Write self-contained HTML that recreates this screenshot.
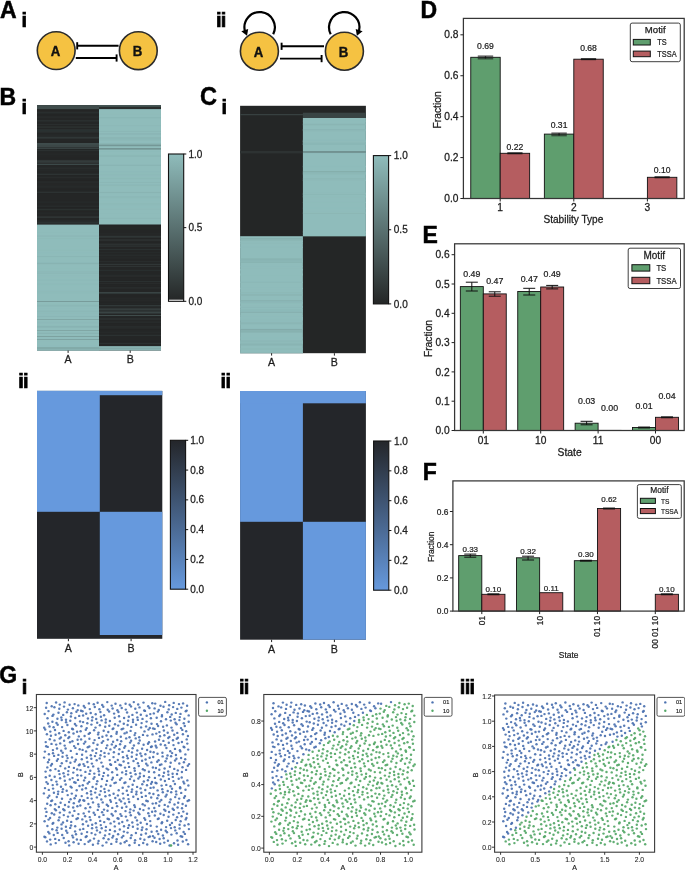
<!DOCTYPE html>
<html lang="en"><head><meta charset="utf-8"><title>Figure</title>
<style>
html,body{margin:0;padding:0;background:#fff;}
body{width:685px;height:871px;overflow:hidden;}
svg{display:block;font-family:"Liberation Sans", sans-serif;}
</style></head><body>
<svg width="685" height="871" viewBox="0 0 685 871">
<rect width="685" height="871" fill="#fff"/>
<text x="0.00" y="18.20" font-size="23" font-weight="bold" fill="#000" stroke="#000" stroke-width="0.5">A</text>
<text x="21.50" y="27.30" font-size="20" font-weight="bold" fill="#000" stroke="#000" stroke-width="0.7" letter-spacing="-0.7">i</text>
<line x1="77.20" y1="45.80" x2="118.60" y2="45.80" stroke="#000" stroke-width="1.9"/>
<line x1="77.20" y1="42.20" x2="77.20" y2="49.40" stroke="#000" stroke-width="1.9"/>
<line x1="75.80" y1="58.00" x2="116.60" y2="58.00" stroke="#000" stroke-width="1.9"/>
<line x1="116.60" y1="54.40" x2="116.60" y2="61.60" stroke="#000" stroke-width="1.9"/>
<circle cx="56.2" cy="50.6" r="18.9" fill="#f5c242" stroke="#2b2b2b" stroke-width="1.6"/>
<text transform="translate(55.40 55.90) scale(0.93 1.03)" font-size="14.2" text-anchor="middle" font-weight="bold" fill="#111" stroke="#111" stroke-width="0.4">A</text>
<circle cx="138.3" cy="50.7" r="18.9" fill="#f5c242" stroke="#2b2b2b" stroke-width="1.6"/>
<text transform="translate(137.50 56.00) scale(0.93 1.03)" font-size="14.2" text-anchor="middle" font-weight="bold" fill="#111" stroke="#111" stroke-width="0.4">B</text>
<text x="215.90" y="27.30" font-size="20" font-weight="bold" fill="#000" stroke="#000" stroke-width="0.7" letter-spacing="-0.7">ii</text>
<line x1="281.60" y1="46.30" x2="324.00" y2="46.30" stroke="#000" stroke-width="1.9"/>
<line x1="281.60" y1="42.70" x2="281.60" y2="49.90" stroke="#000" stroke-width="1.9"/>
<line x1="280.00" y1="58.60" x2="321.60" y2="58.60" stroke="#000" stroke-width="1.9"/>
<line x1="321.60" y1="55.00" x2="321.60" y2="62.20" stroke="#000" stroke-width="1.9"/>
<path d="M273.2 34.2 A15.2 15.2 0 1 0 244.9 31.0" fill="none" stroke="#000" stroke-width="2.2"/>
<path d="M241.3 31.3 L248.2 28.9 L247.0 35.8 Z" fill="#000"/>
<path d="M330.7 34.2 A15.2 15.2 0 1 1 359.0 31.0" fill="none" stroke="#000" stroke-width="2.2"/>
<path d="M362.6 31.3 L355.7 28.9 L356.9 35.8 Z" fill="#000"/>
<circle cx="259.4" cy="51.2" r="19.0" fill="#f5c242" stroke="#2b2b2b" stroke-width="1.6"/>
<text transform="translate(258.60 56.50) scale(0.93 1.03)" font-size="14.2" text-anchor="middle" font-weight="bold" fill="#111" stroke="#111" stroke-width="0.4">A</text>
<circle cx="344.4" cy="51.2" r="19.0" fill="#f5c242" stroke="#2b2b2b" stroke-width="1.6"/>
<text transform="translate(343.60 56.50) scale(0.93 1.03)" font-size="14.2" text-anchor="middle" font-weight="bold" fill="#111" stroke="#111" stroke-width="0.4">B</text>
<text x="-0.50" y="104.50" font-size="23" font-weight="bold" fill="#000" stroke="#000" stroke-width="0.5">B</text>
<text x="21.50" y="113.70" font-size="20" font-weight="bold" fill="#000" stroke="#000" stroke-width="0.7" letter-spacing="-0.7">i</text>
<rect x="37.00" y="105.10" width="124.00" height="245.40" fill="#242626"/>
<rect x="99.00" y="105.10" width="62.00" height="119.50" fill="#8fbcbb"/>
<rect x="37.00" y="224.60" width="62.00" height="125.90" fill="#8fbcbb"/>
<rect x="37.00" y="346.10" width="124.00" height="4.40" fill="#88b2b1"/>
<rect x="37.00" y="105.10" width="62.00" height="4.00" fill="#3f4c4b"/>
<rect x="99.00" y="105.10" width="62.00" height="1.20" fill="#3f4c4b"/>
<rect x="99.00" y="106.30" width="62.00" height="2.80" fill="#292e2d"/>
<rect x="37.00" y="136.58" width="62.00" height="1.10" fill="#262828"/>
<rect x="37.00" y="178.85" width="62.00" height="1.19" fill="#242626"/>
<rect x="37.00" y="110.62" width="62.00" height="1.42" fill="#252727"/>
<rect x="37.00" y="136.17" width="62.00" height="1.60" fill="#272a2a"/>
<rect x="37.00" y="205.71" width="62.00" height="1.02" fill="#292d2d"/>
<rect x="37.00" y="126.50" width="62.00" height="1.20" fill="#2e3433"/>
<rect x="37.00" y="169.53" width="62.00" height="1.32" fill="#2a2e2e"/>
<rect x="37.00" y="116.50" width="62.00" height="1.33" fill="#282c2c"/>
<rect x="37.00" y="143.90" width="62.00" height="0.53" fill="#2e3333"/>
<rect x="37.00" y="163.70" width="62.00" height="1.29" fill="#2e3434"/>
<rect x="37.00" y="191.58" width="62.00" height="1.51" fill="#262929"/>
<rect x="37.00" y="201.60" width="62.00" height="0.99" fill="#2f3636"/>
<rect x="37.00" y="210.61" width="62.00" height="0.61" fill="#242626"/>
<rect x="37.00" y="134.16" width="62.00" height="1.56" fill="#262929"/>
<rect x="37.00" y="181.48" width="62.00" height="0.83" fill="#272b2b"/>
<rect x="37.00" y="153.67" width="62.00" height="0.89" fill="#282c2c"/>
<rect x="37.00" y="176.58" width="62.00" height="1.49" fill="#2a2e2e"/>
<rect x="37.00" y="216.39" width="62.00" height="1.44" fill="#313838"/>
<rect x="37.00" y="186.63" width="62.00" height="0.68" fill="#2e3333"/>
<rect x="37.00" y="220.52" width="62.00" height="1.50" fill="#282c2c"/>
<rect x="37.00" y="191.55" width="62.00" height="0.73" fill="#2d3232"/>
<rect x="37.00" y="175.34" width="62.00" height="0.81" fill="#242626"/>
<rect x="37.00" y="207.73" width="62.00" height="1.59" fill="#242626"/>
<rect x="37.00" y="201.57" width="62.00" height="0.95" fill="#242626"/>
<rect x="37.00" y="143.04" width="62.00" height="1.35" fill="#2e3434"/>
<rect x="37.00" y="114.20" width="62.00" height="1.18" fill="#242626"/>
<rect x="37.00" y="192.08" width="62.00" height="0.86" fill="#2e3434"/>
<rect x="37.00" y="222.36" width="62.00" height="1.06" fill="#313838"/>
<rect x="37.00" y="144.87" width="62.00" height="0.58" fill="#292c2c"/>
<rect x="37.00" y="112.72" width="62.00" height="0.72" fill="#262929"/>
<rect x="37.00" y="179.61" width="62.00" height="0.67" fill="#242626"/>
<rect x="37.00" y="209.33" width="62.00" height="0.85" fill="#303736"/>
<rect x="37.00" y="212.66" width="62.00" height="0.92" fill="#272a2a"/>
<rect x="37.00" y="169.17" width="62.00" height="1.21" fill="#292c2c"/>
<rect x="37.00" y="173.69" width="62.00" height="1.18" fill="#2f3636"/>
<rect x="37.00" y="167.66" width="62.00" height="0.97" fill="#2b2f2f"/>
<rect x="37.00" y="136.55" width="62.00" height="0.83" fill="#303737"/>
<rect x="37.00" y="169.29" width="62.00" height="1.10" fill="#242626"/>
<rect x="37.00" y="157.06" width="62.00" height="1.14" fill="#242626"/>
<rect x="37.00" y="180.22" width="62.00" height="1.20" fill="#242626"/>
<rect x="37.00" y="181.56" width="62.00" height="1.01" fill="#2a2e2e"/>
<rect x="37.00" y="149.82" width="62.00" height="1.28" fill="#2b3030"/>
<rect x="37.00" y="111.66" width="62.00" height="0.57" fill="#2a2e2e"/>
<rect x="37.00" y="220.36" width="62.00" height="0.78" fill="#272a2a"/>
<rect x="37.00" y="177.55" width="62.00" height="0.85" fill="#262828"/>
<rect x="37.00" y="145.21" width="62.00" height="0.91" fill="#292c2c"/>
<rect x="37.00" y="143.80" width="62.00" height="0.91" fill="#2c3131"/>
<rect x="37.00" y="112.21" width="62.00" height="1.13" fill="#2b3030"/>
<rect x="37.00" y="144.91" width="62.00" height="0.74" fill="#2c3232"/>
<rect x="37.00" y="136.67" width="62.00" height="0.71" fill="#262929"/>
<rect x="37.00" y="189.73" width="62.00" height="0.61" fill="#252828"/>
<rect x="37.00" y="147.65" width="62.00" height="1.42" fill="#262929"/>
<rect x="37.00" y="207.91" width="62.00" height="0.69" fill="#252828"/>
<rect x="37.00" y="184.20" width="62.00" height="1.47" fill="#272a2a"/>
<rect x="37.00" y="135.09" width="62.00" height="0.63" fill="#282b2b"/>
<rect x="37.00" y="131.14" width="62.00" height="1.39" fill="#2d3333"/>
<rect x="37.00" y="130.30" width="62.00" height="0.81" fill="#2c3232"/>
<rect x="37.00" y="183.24" width="62.00" height="1.39" fill="#262828"/>
<rect x="37.00" y="124.08" width="62.00" height="0.82" fill="#2c3131"/>
<rect x="37.00" y="140.42" width="62.00" height="0.88" fill="#262929"/>
<rect x="99.00" y="275.60" width="62.00" height="0.95" fill="#333a3a"/>
<rect x="99.00" y="243.55" width="62.00" height="0.51" fill="#333b3b"/>
<rect x="99.00" y="331.52" width="62.00" height="1.59" fill="#272b2a"/>
<rect x="99.00" y="340.04" width="62.00" height="1.52" fill="#252727"/>
<rect x="99.00" y="315.18" width="62.00" height="1.42" fill="#2c3130"/>
<rect x="99.00" y="287.66" width="62.00" height="0.82" fill="#262929"/>
<rect x="99.00" y="252.24" width="62.00" height="0.57" fill="#2a2e2e"/>
<rect x="99.00" y="259.47" width="62.00" height="1.39" fill="#242626"/>
<rect x="99.00" y="334.39" width="62.00" height="1.26" fill="#333a3a"/>
<rect x="99.00" y="333.53" width="62.00" height="1.49" fill="#2a2e2e"/>
<rect x="99.00" y="226.20" width="62.00" height="1.32" fill="#252727"/>
<rect x="99.00" y="261.04" width="62.00" height="1.23" fill="#292d2d"/>
<rect x="99.00" y="274.87" width="62.00" height="1.53" fill="#2a2f2f"/>
<rect x="99.00" y="266.07" width="62.00" height="0.78" fill="#313838"/>
<rect x="99.00" y="282.58" width="62.00" height="1.36" fill="#262929"/>
<rect x="99.00" y="248.58" width="62.00" height="1.09" fill="#2f3636"/>
<rect x="99.00" y="245.41" width="62.00" height="1.37" fill="#333a3a"/>
<rect x="99.00" y="322.54" width="62.00" height="1.41" fill="#242626"/>
<rect x="99.00" y="300.98" width="62.00" height="1.45" fill="#242626"/>
<rect x="99.00" y="257.57" width="62.00" height="0.80" fill="#292d2d"/>
<rect x="99.00" y="275.99" width="62.00" height="1.02" fill="#2e3434"/>
<rect x="99.00" y="224.82" width="62.00" height="0.56" fill="#242626"/>
<rect x="99.00" y="239.74" width="62.00" height="0.58" fill="#343d3d"/>
<rect x="99.00" y="328.42" width="62.00" height="0.59" fill="#282c2c"/>
<rect x="99.00" y="262.98" width="62.00" height="0.85" fill="#262929"/>
<rect x="99.00" y="303.20" width="62.00" height="1.15" fill="#262929"/>
<rect x="99.00" y="247.82" width="62.00" height="0.86" fill="#242626"/>
<rect x="99.00" y="292.10" width="62.00" height="1.29" fill="#262929"/>
<rect x="99.00" y="234.31" width="62.00" height="0.70" fill="#262929"/>
<rect x="99.00" y="298.04" width="62.00" height="1.36" fill="#262929"/>
<rect x="99.00" y="321.94" width="62.00" height="1.19" fill="#272a2a"/>
<rect x="99.00" y="269.85" width="62.00" height="1.05" fill="#2c3232"/>
<rect x="99.00" y="275.69" width="62.00" height="1.26" fill="#282b2b"/>
<rect x="99.00" y="254.38" width="62.00" height="1.09" fill="#2c3232"/>
<rect x="99.00" y="233.30" width="62.00" height="0.97" fill="#272a2a"/>
<rect x="99.00" y="331.48" width="62.00" height="1.53" fill="#262929"/>
<rect x="99.00" y="333.69" width="62.00" height="1.37" fill="#252828"/>
<rect x="99.00" y="280.99" width="62.00" height="0.64" fill="#2f3636"/>
<rect x="99.00" y="305.07" width="62.00" height="1.48" fill="#2f3535"/>
<rect x="99.00" y="305.71" width="62.00" height="1.31" fill="#292e2e"/>
<rect x="99.00" y="237.13" width="62.00" height="1.15" fill="#242626"/>
<rect x="99.00" y="242.04" width="62.00" height="1.35" fill="#242626"/>
<rect x="99.00" y="235.75" width="62.00" height="0.61" fill="#313938"/>
<rect x="99.00" y="246.37" width="62.00" height="0.53" fill="#303737"/>
<rect x="99.00" y="239.34" width="62.00" height="1.43" fill="#2c3131"/>
<rect x="99.00" y="326.20" width="62.00" height="1.55" fill="#2a2e2e"/>
<rect x="99.00" y="321.65" width="62.00" height="0.54" fill="#2e3434"/>
<rect x="99.00" y="286.73" width="62.00" height="1.29" fill="#242626"/>
<rect x="99.00" y="315.60" width="62.00" height="1.53" fill="#242626"/>
<rect x="99.00" y="264.00" width="62.00" height="1.12" fill="#303636"/>
<rect x="99.00" y="254.02" width="62.00" height="0.70" fill="#252727"/>
<rect x="99.00" y="299.44" width="62.00" height="1.33" fill="#272a2a"/>
<rect x="99.00" y="269.25" width="62.00" height="0.94" fill="#262929"/>
<rect x="99.00" y="275.41" width="62.00" height="0.59" fill="#282c2c"/>
<rect x="99.00" y="342.83" width="62.00" height="0.95" fill="#2e3333"/>
<rect x="99.00" y="244.12" width="62.00" height="1.26" fill="#2e3434"/>
<rect x="99.00" y="306.47" width="62.00" height="1.07" fill="#282c2c"/>
<rect x="99.00" y="302.72" width="62.00" height="1.49" fill="#242727"/>
<rect x="99.00" y="236.25" width="62.00" height="1.32" fill="#323a3a"/>
<rect x="99.00" y="287.45" width="62.00" height="0.99" fill="#2d3232"/>
<rect x="99.00" y="247.21" width="62.00" height="0.79" fill="#252727"/>
<rect x="99.00" y="295.75" width="62.00" height="0.85" fill="#252727"/>
<rect x="99.00" y="308.57" width="62.00" height="1.55" fill="#252828"/>
<rect x="99.00" y="310.30" width="62.00" height="0.95" fill="#303737"/>
<rect x="99.00" y="295.63" width="62.00" height="0.79" fill="#252727"/>
<rect x="99.00" y="227.41" width="62.00" height="1.03" fill="#272a29"/>
<rect x="99.00" y="245.53" width="62.00" height="0.90" fill="#262828"/>
<rect x="99.00" y="318.67" width="62.00" height="0.66" fill="#353e3d"/>
<rect x="99.00" y="282.87" width="62.00" height="1.16" fill="#282b2b"/>
<rect x="99.00" y="326.01" width="62.00" height="1.40" fill="#292d2d"/>
<rect x="99.00" y="164.69" width="62.00" height="1.29" fill="#8ab5b4"/>
<rect x="99.00" y="155.33" width="62.00" height="1.31" fill="#89b4b3"/>
<rect x="99.00" y="163.08" width="62.00" height="0.75" fill="#8fbcbb"/>
<rect x="99.00" y="191.99" width="62.00" height="1.24" fill="#89b4b3"/>
<rect x="99.00" y="207.72" width="62.00" height="0.77" fill="#8fbcbb"/>
<rect x="99.00" y="138.97" width="62.00" height="0.71" fill="#8cb8b7"/>
<rect x="99.00" y="208.27" width="62.00" height="1.49" fill="#8fbbba"/>
<rect x="99.00" y="209.02" width="62.00" height="0.84" fill="#8ebab9"/>
<rect x="99.00" y="193.30" width="62.00" height="0.59" fill="#8fbcbb"/>
<rect x="99.00" y="205.42" width="62.00" height="0.82" fill="#8ebbba"/>
<rect x="99.00" y="176.12" width="62.00" height="1.24" fill="#8fbcbb"/>
<rect x="99.00" y="147.77" width="62.00" height="0.98" fill="#8dbab9"/>
<rect x="99.00" y="133.37" width="62.00" height="1.14" fill="#89b4b3"/>
<rect x="99.00" y="154.25" width="62.00" height="1.10" fill="#8fbcbb"/>
<rect x="99.00" y="140.83" width="62.00" height="1.23" fill="#8fbcbb"/>
<rect x="99.00" y="211.57" width="62.00" height="1.50" fill="#8fbcbb"/>
<rect x="99.00" y="217.82" width="62.00" height="0.91" fill="#8bb7b6"/>
<rect x="99.00" y="196.57" width="62.00" height="0.83" fill="#8cb8b7"/>
<rect x="99.00" y="184.65" width="62.00" height="1.39" fill="#8fbbba"/>
<rect x="99.00" y="196.21" width="62.00" height="1.56" fill="#8cb8b7"/>
<rect x="99.00" y="171.03" width="62.00" height="0.62" fill="#8dbab9"/>
<rect x="99.00" y="149.77" width="62.00" height="1.29" fill="#8cb8b7"/>
<rect x="99.00" y="174.52" width="62.00" height="0.70" fill="#8cb8b7"/>
<rect x="99.00" y="181.97" width="62.00" height="0.70" fill="#8ab5b4"/>
<rect x="99.00" y="184.80" width="62.00" height="0.64" fill="#89b4b3"/>
<rect x="99.00" y="125.43" width="62.00" height="0.86" fill="#8cb7b6"/>
<rect x="99.00" y="178.10" width="62.00" height="1.11" fill="#8cb8b7"/>
<rect x="99.00" y="161.96" width="62.00" height="0.84" fill="#8fbcbb"/>
<rect x="99.00" y="117.02" width="62.00" height="1.29" fill="#8bb7b6"/>
<rect x="99.00" y="171.83" width="62.00" height="1.31" fill="#8ebbba"/>
<rect x="99.00" y="139.81" width="62.00" height="0.92" fill="#8ab5b4"/>
<rect x="99.00" y="113.96" width="62.00" height="1.06" fill="#8fbbba"/>
<rect x="99.00" y="197.91" width="62.00" height="0.89" fill="#8ebbba"/>
<rect x="99.00" y="155.69" width="62.00" height="1.10" fill="#8bb7b6"/>
<rect x="99.00" y="149.86" width="62.00" height="1.43" fill="#8fbcbb"/>
<rect x="99.00" y="140.34" width="62.00" height="0.61" fill="#8fbcbb"/>
<rect x="99.00" y="199.07" width="62.00" height="1.30" fill="#8fbcbb"/>
<rect x="99.00" y="130.95" width="62.00" height="0.96" fill="#8bb7b6"/>
<rect x="99.00" y="203.32" width="62.00" height="1.32" fill="#8db9b8"/>
<rect x="99.00" y="126.02" width="62.00" height="0.94" fill="#8fbcbb"/>
<rect x="37.00" y="291.02" width="62.00" height="1.13" fill="#8fbcbb"/>
<rect x="37.00" y="256.09" width="62.00" height="1.36" fill="#8fbcbb"/>
<rect x="37.00" y="325.72" width="62.00" height="1.48" fill="#88b3b2"/>
<rect x="37.00" y="272.84" width="62.00" height="1.11" fill="#8cb8b7"/>
<rect x="37.00" y="304.38" width="62.00" height="1.57" fill="#8bb7b6"/>
<rect x="37.00" y="262.29" width="62.00" height="1.45" fill="#8dbab9"/>
<rect x="37.00" y="300.31" width="62.00" height="1.30" fill="#8fbcbb"/>
<rect x="37.00" y="321.60" width="62.00" height="1.23" fill="#8db9b8"/>
<rect x="37.00" y="290.53" width="62.00" height="1.01" fill="#8fbcbb"/>
<rect x="37.00" y="291.27" width="62.00" height="0.54" fill="#8db9b8"/>
<rect x="37.00" y="305.93" width="62.00" height="0.99" fill="#8db9b8"/>
<rect x="37.00" y="345.34" width="62.00" height="1.48" fill="#8fbcbb"/>
<rect x="37.00" y="324.36" width="62.00" height="1.19" fill="#8fbcbb"/>
<rect x="37.00" y="269.91" width="62.00" height="0.76" fill="#8fbcbb"/>
<rect x="37.00" y="292.44" width="62.00" height="1.52" fill="#8ebbba"/>
<rect x="37.00" y="334.20" width="62.00" height="1.26" fill="#8fbcbb"/>
<rect x="37.00" y="332.66" width="62.00" height="1.16" fill="#89b3b2"/>
<rect x="37.00" y="314.74" width="62.00" height="1.31" fill="#8ebbba"/>
<rect x="37.00" y="326.16" width="62.00" height="1.52" fill="#89b4b3"/>
<rect x="37.00" y="279.62" width="62.00" height="1.33" fill="#8dbab9"/>
<rect x="37.00" y="238.34" width="62.00" height="0.55" fill="#8fbcbb"/>
<rect x="37.00" y="249.82" width="62.00" height="0.68" fill="#8db9b8"/>
<rect x="37.00" y="312.64" width="62.00" height="1.09" fill="#8ebab9"/>
<rect x="37.00" y="306.34" width="62.00" height="0.84" fill="#8dbab9"/>
<rect x="37.00" y="319.92" width="62.00" height="0.94" fill="#8fbcbb"/>
<rect x="37.00" y="337.84" width="62.00" height="1.29" fill="#8ebbba"/>
<rect x="37.00" y="271.31" width="62.00" height="1.08" fill="#8cb8b7"/>
<rect x="37.00" y="252.78" width="62.00" height="0.50" fill="#8fbcbb"/>
<rect x="37.00" y="323.20" width="62.00" height="0.66" fill="#8dbab9"/>
<rect x="37.00" y="249.19" width="62.00" height="0.73" fill="#8fbcbb"/>
<rect x="37.00" y="275.43" width="62.00" height="0.69" fill="#8fbcbb"/>
<rect x="37.00" y="238.46" width="62.00" height="0.69" fill="#8db9b8"/>
<rect x="37.00" y="232.12" width="62.00" height="0.52" fill="#8dbab9"/>
<rect x="37.00" y="275.93" width="62.00" height="1.27" fill="#8fbcbb"/>
<rect x="37.00" y="275.38" width="62.00" height="0.94" fill="#8fbcbb"/>
<rect x="37.00" y="346.16" width="62.00" height="0.74" fill="#8fbcbb"/>
<rect x="37.00" y="284.35" width="62.00" height="0.68" fill="#8cb8b7"/>
<rect x="37.00" y="268.21" width="62.00" height="0.64" fill="#8fbcbb"/>
<rect x="37.00" y="316.21" width="62.00" height="0.80" fill="#8ab5b5"/>
<rect x="37.00" y="283.19" width="62.00" height="1.53" fill="#8ebbba"/>
<rect x="37.00" y="256.07" width="62.00" height="0.79" fill="#8ab5b4"/>
<rect x="37.00" y="303.80" width="62.00" height="0.88" fill="#8fbcbb"/>
<rect x="37.00" y="310.51" width="62.00" height="1.57" fill="#8cb8b7"/>
<rect x="37.00" y="225.06" width="62.00" height="0.53" fill="#8fbcbb"/>
<rect x="37.00" y="246.05" width="62.00" height="0.54" fill="#8fbcbb"/>
<rect x="37.00" y="306.98" width="62.00" height="1.49" fill="#8fbcbb"/>
<rect x="37.00" y="347.21" width="62.00" height="1.02" fill="#8ab5b4"/>
<rect x="37.00" y="340.10" width="62.00" height="1.53" fill="#8fbcbb"/>
<rect x="37.00" y="262.96" width="62.00" height="1.17" fill="#88b3b2"/>
<rect x="37.00" y="235.65" width="62.00" height="0.82" fill="#8ab4b3"/>
<rect x="37.00" y="137.40" width="62.00" height="1.00" fill="#374141"/>
<rect x="37.00" y="143.40" width="62.00" height="1.20" fill="#4d5f5f"/>
<rect x="37.00" y="145.00" width="62.00" height="2.00" fill="#3c4747"/>
<rect x="37.00" y="147.60" width="62.00" height="1.00" fill="#445353"/>
<rect x="37.00" y="160.20" width="62.00" height="2.60" fill="#333b3b"/>
<rect x="37.00" y="163.80" width="62.00" height="0.90" fill="#445353"/>
<rect x="37.00" y="120.50" width="62.00" height="0.80" fill="#313838"/>
<rect x="37.00" y="129.50" width="62.00" height="0.80" fill="#313838"/>
<rect x="99.00" y="143.60" width="62.00" height="1.60" fill="#82aaa9"/>
<rect x="99.00" y="145.20" width="62.00" height="1.00" fill="#6f8f8e"/>
<rect x="99.00" y="148.40" width="62.00" height="1.00" fill="#627d7c"/>
<rect x="99.00" y="137.60" width="62.00" height="0.80" fill="#84adac"/>
<rect x="99.00" y="292.00" width="62.00" height="1.60" fill="#394444"/>
<rect x="99.00" y="308.50" width="62.00" height="1.20" fill="#3c4747"/>
<rect x="99.00" y="311.50" width="62.00" height="2.00" fill="#394444"/>
<rect x="99.00" y="315.00" width="62.00" height="1.00" fill="#3f4c4b"/>
<rect x="99.00" y="305.00" width="62.00" height="0.80" fill="#343c3c"/>
<rect x="37.00" y="301.30" width="62.00" height="0.70" fill="#6f8f8e"/>
<rect x="37.00" y="319.00" width="62.00" height="0.70" fill="#7a9e9d"/>
<rect x="37.00" y="330.20" width="62.00" height="0.70" fill="#7a9e9d"/>
<rect x="37.00" y="336.00" width="62.00" height="0.80" fill="#779b9a"/>
<rect x="37.00" y="339.00" width="62.00" height="0.80" fill="#7a9e9d"/>
<rect x="37.00" y="347.50" width="62.00" height="1.00" fill="#7ca1a0"/>
<rect x="99.00" y="348.00" width="62.00" height="1.00" fill="#82aaa9"/>
<line x1="68.10" y1="350.50" x2="68.10" y2="352.90" stroke="#222" stroke-width="1"/>
<text x="68.10" y="362.80" font-size="10.6" text-anchor="middle" fill="#1c1c1c" stroke="#1c1c1c" stroke-width="0.28">A</text>
<line x1="130.20" y1="350.50" x2="130.20" y2="352.90" stroke="#222" stroke-width="1"/>
<text x="130.20" y="362.80" font-size="10.6" text-anchor="middle" fill="#1c1c1c" stroke="#1c1c1c" stroke-width="0.28">B</text>
<linearGradient id="gBi" x1="0" y1="0" x2="0" y2="1"><stop offset="0" stop-color="#8fbcbb"/><stop offset="1" stop-color="#242626"/></linearGradient>
<rect x="168.50" y="154.00" width="15.20" height="147.30" fill="url(#gBi)"/>
<rect x="168.50" y="299.70" width="15.20" height="1.60" fill="#fff"/>
<rect x="168.50" y="154.00" width="15.20" height="147.30" fill="none" stroke="#111" stroke-width="1.1"/>
<line x1="183.70" y1="154.00" x2="186.30" y2="154.00" stroke="#111" stroke-width="1"/>
<text x="188.40" y="157.60" font-size="10" fill="#222" stroke="#222" stroke-width="0.26">1.0</text>
<line x1="183.70" y1="227.65" x2="186.30" y2="227.65" stroke="#111" stroke-width="1"/>
<text x="188.40" y="231.25" font-size="10" fill="#222" stroke="#222" stroke-width="0.26">0.5</text>
<line x1="183.70" y1="301.30" x2="186.30" y2="301.30" stroke="#111" stroke-width="1"/>
<text x="188.40" y="304.90" font-size="10" fill="#222" stroke="#222" stroke-width="0.26">0.0</text>
<text x="18.20" y="387.50" font-size="20" font-weight="bold" fill="#000" stroke="#000" stroke-width="0.7" letter-spacing="-0.7">ii</text>
<rect x="37.00" y="390.90" width="125.30" height="247.90" fill="#24262a"/>
<rect x="37.00" y="390.90" width="62.80" height="120.90" fill="#6699dd"/>
<rect x="37.00" y="390.90" width="125.30" height="4.30" fill="#6699dd"/>
<rect x="99.80" y="511.80" width="62.50" height="123.20" fill="#6699dd"/>
<line x1="68.40" y1="638.80" x2="68.40" y2="641.20" stroke="#222" stroke-width="1"/>
<text x="68.40" y="651.70" font-size="10.6" text-anchor="middle" fill="#1c1c1c" stroke="#1c1c1c" stroke-width="0.28">A</text>
<line x1="131.10" y1="638.80" x2="131.10" y2="641.20" stroke="#222" stroke-width="1"/>
<text x="131.10" y="651.70" font-size="10.6" text-anchor="middle" fill="#1c1c1c" stroke="#1c1c1c" stroke-width="0.28">B</text>
<linearGradient id="gBii" x1="0" y1="0" x2="0" y2="1"><stop offset="0" stop-color="#24262a"/><stop offset="1" stop-color="#6699dd"/></linearGradient>
<rect x="170.40" y="440.30" width="15.20" height="148.90" fill="url(#gBii)"/>
<rect x="170.40" y="440.30" width="15.20" height="148.90" fill="none" stroke="#111" stroke-width="1.1"/>
<line x1="185.60" y1="440.30" x2="188.20" y2="440.30" stroke="#111" stroke-width="1"/>
<text x="190.20" y="443.90" font-size="10" fill="#222" stroke="#222" stroke-width="0.26">1.0</text>
<line x1="185.60" y1="470.08" x2="188.20" y2="470.08" stroke="#111" stroke-width="1"/>
<text x="190.20" y="473.68" font-size="10" fill="#222" stroke="#222" stroke-width="0.26">0.8</text>
<line x1="185.60" y1="499.86" x2="188.20" y2="499.86" stroke="#111" stroke-width="1"/>
<text x="190.20" y="503.46" font-size="10" fill="#222" stroke="#222" stroke-width="0.26">0.6</text>
<line x1="185.60" y1="529.64" x2="188.20" y2="529.64" stroke="#111" stroke-width="1"/>
<text x="190.20" y="533.24" font-size="10" fill="#222" stroke="#222" stroke-width="0.26">0.4</text>
<line x1="185.60" y1="559.42" x2="188.20" y2="559.42" stroke="#111" stroke-width="1"/>
<text x="190.20" y="563.02" font-size="10" fill="#222" stroke="#222" stroke-width="0.26">0.2</text>
<line x1="185.60" y1="589.20" x2="188.20" y2="589.20" stroke="#111" stroke-width="1"/>
<text x="190.20" y="592.80" font-size="10" fill="#222" stroke="#222" stroke-width="0.26">0.0</text>
<text transform="translate(199.90 105.00) scale(0.885 1)" font-size="26.6" font-weight="bold" fill="#000" stroke="#000" stroke-width="0.5">C</text>
<text x="221.50" y="113.90" font-size="20" font-weight="bold" fill="#000" stroke="#000" stroke-width="0.7" letter-spacing="-0.7">i</text>
<rect x="240.10" y="105.80" width="125.80" height="247.40" fill="#242626"/>
<rect x="302.90" y="118.00" width="63.00" height="118.20" fill="#8fbcbb"/>
<rect x="240.10" y="236.20" width="62.80" height="117.00" fill="#8fbcbb"/>
<rect x="302.90" y="112.70" width="63.00" height="5.30" fill="#394444"/>
<rect x="240.10" y="114.20" width="62.80" height="1.00" fill="#3c4747"/>
<rect x="240.10" y="151.00" width="62.80" height="2.40" fill="#2d3232"/>
<rect x="302.90" y="151.20" width="63.00" height="1.80" fill="#6a8887"/>
<rect x="302.90" y="142.50" width="63.00" height="0.80" fill="#86b0af"/>
<rect x="302.90" y="171.00" width="63.00" height="0.80" fill="#82aaa9"/>
<rect x="302.90" y="178.50" width="63.00" height="0.80" fill="#89b3b2"/>
<rect x="302.90" y="171.91" width="63.00" height="1.12" fill="#8ab6b5"/>
<rect x="302.90" y="173.47" width="63.00" height="1.06" fill="#8db9b8"/>
<rect x="302.90" y="140.48" width="63.00" height="1.06" fill="#8db9b8"/>
<rect x="302.90" y="211.90" width="63.00" height="0.60" fill="#8fbbba"/>
<rect x="302.90" y="129.44" width="63.00" height="1.39" fill="#8cb8b7"/>
<rect x="302.90" y="123.72" width="63.00" height="1.58" fill="#8ab5b4"/>
<rect x="302.90" y="195.57" width="63.00" height="1.18" fill="#8fbcbb"/>
<rect x="302.90" y="120.56" width="63.00" height="1.08" fill="#8fbcbb"/>
<rect x="302.90" y="141.13" width="63.00" height="0.77" fill="#8fbcbb"/>
<rect x="302.90" y="173.27" width="63.00" height="0.98" fill="#8bb7b6"/>
<rect x="302.90" y="179.75" width="63.00" height="1.20" fill="#8ebab9"/>
<rect x="302.90" y="196.57" width="63.00" height="1.00" fill="#8fbbba"/>
<rect x="302.90" y="235.92" width="63.00" height="0.28" fill="#8bb7b6"/>
<rect x="302.90" y="201.90" width="63.00" height="0.85" fill="#8fbcbb"/>
<rect x="302.90" y="152.73" width="63.00" height="0.58" fill="#8cb8b7"/>
<rect x="302.90" y="165.81" width="63.00" height="1.43" fill="#8ebbba"/>
<rect x="302.90" y="231.27" width="63.00" height="1.43" fill="#8fbcbb"/>
<rect x="302.90" y="143.42" width="63.00" height="1.50" fill="#8ebab9"/>
<rect x="302.90" y="233.89" width="63.00" height="0.94" fill="#8fbcbb"/>
<rect x="302.90" y="192.70" width="63.00" height="1.36" fill="#8fbbba"/>
<rect x="302.90" y="129.03" width="63.00" height="0.87" fill="#8ab5b4"/>
<rect x="302.90" y="207.79" width="63.00" height="0.63" fill="#8fbcbb"/>
<rect x="302.90" y="130.66" width="63.00" height="0.57" fill="#8cb7b6"/>
<rect x="302.90" y="139.66" width="63.00" height="1.12" fill="#8ebaba"/>
<rect x="302.90" y="141.19" width="63.00" height="1.31" fill="#8fbcbb"/>
<rect x="302.90" y="194.37" width="63.00" height="0.63" fill="#8ebbba"/>
<rect x="302.90" y="143.79" width="63.00" height="0.80" fill="#8ab5b4"/>
<rect x="302.90" y="213.12" width="63.00" height="0.83" fill="#8bb6b5"/>
<rect x="302.90" y="143.54" width="63.00" height="0.93" fill="#8bb7b6"/>
<rect x="302.90" y="194.15" width="63.00" height="0.61" fill="#8ab5b4"/>
<rect x="240.10" y="261.15" width="62.80" height="0.78" fill="#8ab5b4"/>
<rect x="240.10" y="274.69" width="62.80" height="0.83" fill="#8fbcbb"/>
<rect x="240.10" y="246.74" width="62.80" height="1.14" fill="#8ebbba"/>
<rect x="240.10" y="306.55" width="62.80" height="0.91" fill="#8dbab9"/>
<rect x="240.10" y="348.42" width="62.80" height="1.03" fill="#8cb8b7"/>
<rect x="240.10" y="337.58" width="62.80" height="0.70" fill="#8fbcbb"/>
<rect x="240.10" y="342.49" width="62.80" height="1.40" fill="#8ebbba"/>
<rect x="240.10" y="258.41" width="62.80" height="1.31" fill="#87b1b0"/>
<rect x="240.10" y="259.20" width="62.80" height="1.55" fill="#88b3b2"/>
<rect x="240.10" y="306.81" width="62.80" height="0.96" fill="#8fbcbb"/>
<rect x="240.10" y="240.73" width="62.80" height="1.56" fill="#8fbbba"/>
<rect x="240.10" y="318.64" width="62.80" height="0.78" fill="#89b4b3"/>
<rect x="240.10" y="305.99" width="62.80" height="0.82" fill="#8fbcbb"/>
<rect x="240.10" y="320.48" width="62.80" height="0.58" fill="#8fbbba"/>
<rect x="240.10" y="301.65" width="62.80" height="1.44" fill="#8cb7b7"/>
<rect x="240.10" y="268.99" width="62.80" height="1.51" fill="#8fbcbb"/>
<rect x="240.10" y="238.14" width="62.80" height="0.80" fill="#8dbab9"/>
<rect x="240.10" y="243.27" width="62.80" height="0.69" fill="#8ebab9"/>
<rect x="240.10" y="303.14" width="62.80" height="0.64" fill="#8ebab9"/>
<rect x="240.10" y="340.44" width="62.80" height="1.58" fill="#8bb7b6"/>
<rect x="240.10" y="317.07" width="62.80" height="1.14" fill="#8fbcbb"/>
<rect x="240.10" y="240.30" width="62.80" height="0.52" fill="#88b2b1"/>
<rect x="240.10" y="318.21" width="62.80" height="1.56" fill="#8fbcbb"/>
<rect x="240.10" y="310.63" width="62.80" height="1.03" fill="#8ab6b5"/>
<rect x="240.10" y="273.51" width="62.80" height="1.60" fill="#8fbcbb"/>
<rect x="240.10" y="300.09" width="62.80" height="1.31" fill="#88b2b1"/>
<rect x="240.10" y="322.44" width="62.80" height="1.27" fill="#8ab4b3"/>
<rect x="240.10" y="343.26" width="62.80" height="0.89" fill="#8bb6b5"/>
<rect x="240.10" y="341.60" width="62.80" height="1.46" fill="#8ebab9"/>
<rect x="240.10" y="328.69" width="62.80" height="1.45" fill="#8cb8b7"/>
<rect x="240.10" y="309.32" width="62.80" height="0.92" fill="#8cb8b7"/>
<rect x="240.10" y="307.44" width="62.80" height="0.59" fill="#8cb7b6"/>
<rect x="240.10" y="352.42" width="62.80" height="0.78" fill="#8ab6b5"/>
<rect x="240.10" y="281.65" width="62.80" height="1.31" fill="#8cb8b7"/>
<rect x="240.10" y="287.74" width="62.80" height="1.42" fill="#8fbcbb"/>
<rect x="240.10" y="323.97" width="62.80" height="0.53" fill="#8cb8b7"/>
<rect x="240.10" y="292.47" width="62.80" height="0.75" fill="#8bb6b5"/>
<rect x="240.10" y="294.38" width="62.80" height="1.18" fill="#88b2b1"/>
<rect x="240.10" y="266.13" width="62.80" height="0.51" fill="#8ebbba"/>
<rect x="240.10" y="315.54" width="62.80" height="0.72" fill="#8fbcbb"/>
<rect x="240.10" y="238.50" width="62.80" height="0.80" fill="#80a7a6"/>
<rect x="240.10" y="329.50" width="62.80" height="0.80" fill="#7a9e9d"/>
<rect x="240.10" y="331.50" width="62.80" height="0.80" fill="#80a7a6"/>
<rect x="240.10" y="344.50" width="62.80" height="0.80" fill="#84adac"/>
<rect x="240.10" y="312.00" width="62.80" height="0.70" fill="#84adac"/>
<rect x="240.10" y="262.00" width="62.80" height="0.70" fill="#86b0af"/>
<line x1="271.60" y1="353.20" x2="271.60" y2="355.60" stroke="#222" stroke-width="1"/>
<text x="271.60" y="366.20" font-size="10.6" text-anchor="middle" fill="#1c1c1c" stroke="#1c1c1c" stroke-width="0.28">A</text>
<line x1="334.40" y1="353.20" x2="334.40" y2="355.60" stroke="#222" stroke-width="1"/>
<text x="334.40" y="366.20" font-size="10.6" text-anchor="middle" fill="#1c1c1c" stroke="#1c1c1c" stroke-width="0.28">B</text>
<linearGradient id="gCi" x1="0" y1="0" x2="0" y2="1"><stop offset="0" stop-color="#8fbcbb"/><stop offset="1" stop-color="#242626"/></linearGradient>
<rect x="373.40" y="155.60" width="15.20" height="148.30" fill="url(#gCi)"/>
<rect x="373.40" y="155.60" width="15.20" height="148.30" fill="none" stroke="#111" stroke-width="1.1"/>
<line x1="388.60" y1="155.60" x2="391.20" y2="155.60" stroke="#111" stroke-width="1"/>
<text x="393.80" y="159.20" font-size="10" fill="#222" stroke="#222" stroke-width="0.26">1.0</text>
<line x1="388.60" y1="229.75" x2="391.20" y2="229.75" stroke="#111" stroke-width="1"/>
<text x="393.80" y="233.35" font-size="10" fill="#222" stroke="#222" stroke-width="0.26">0.5</text>
<line x1="388.60" y1="303.90" x2="391.20" y2="303.90" stroke="#111" stroke-width="1"/>
<text x="393.80" y="307.50" font-size="10" fill="#222" stroke="#222" stroke-width="0.26">0.0</text>
<text x="220.60" y="388.40" font-size="20" font-weight="bold" fill="#000" stroke="#000" stroke-width="0.7" letter-spacing="-0.7">ii</text>
<rect x="240.10" y="391.00" width="125.80" height="248.70" fill="#24262a"/>
<rect x="240.10" y="391.00" width="62.80" height="130.80" fill="#6699dd"/>
<rect x="240.10" y="391.00" width="125.80" height="12.30" fill="#6699dd"/>
<rect x="302.90" y="521.80" width="63.00" height="117.90" fill="#6699dd"/>
<line x1="271.60" y1="639.70" x2="271.60" y2="642.10" stroke="#222" stroke-width="1"/>
<text x="271.60" y="652.60" font-size="10.6" text-anchor="middle" fill="#1c1c1c" stroke="#1c1c1c" stroke-width="0.28">A</text>
<line x1="334.40" y1="639.70" x2="334.40" y2="642.10" stroke="#222" stroke-width="1"/>
<text x="334.40" y="652.60" font-size="10.6" text-anchor="middle" fill="#1c1c1c" stroke="#1c1c1c" stroke-width="0.28">B</text>
<linearGradient id="gCii" x1="0" y1="0" x2="0" y2="1"><stop offset="0" stop-color="#24262a"/><stop offset="1" stop-color="#6699dd"/></linearGradient>
<rect x="373.60" y="441.00" width="15.20" height="149.20" fill="url(#gCii)"/>
<rect x="373.60" y="441.00" width="15.20" height="149.20" fill="none" stroke="#111" stroke-width="1.1"/>
<line x1="388.80" y1="441.00" x2="391.40" y2="441.00" stroke="#111" stroke-width="1"/>
<text x="394.00" y="444.60" font-size="10" fill="#222" stroke="#222" stroke-width="0.26">1.0</text>
<line x1="388.80" y1="470.84" x2="391.40" y2="470.84" stroke="#111" stroke-width="1"/>
<text x="394.00" y="474.44" font-size="10" fill="#222" stroke="#222" stroke-width="0.26">0.8</text>
<line x1="388.80" y1="500.68" x2="391.40" y2="500.68" stroke="#111" stroke-width="1"/>
<text x="394.00" y="504.28" font-size="10" fill="#222" stroke="#222" stroke-width="0.26">0.6</text>
<line x1="388.80" y1="530.52" x2="391.40" y2="530.52" stroke="#111" stroke-width="1"/>
<text x="394.00" y="534.12" font-size="10" fill="#222" stroke="#222" stroke-width="0.26">0.4</text>
<line x1="388.80" y1="560.36" x2="391.40" y2="560.36" stroke="#111" stroke-width="1"/>
<text x="394.00" y="563.96" font-size="10" fill="#222" stroke="#222" stroke-width="0.26">0.2</text>
<line x1="388.80" y1="590.20" x2="391.40" y2="590.20" stroke="#111" stroke-width="1"/>
<text x="394.00" y="593.80" font-size="10" fill="#222" stroke="#222" stroke-width="0.26">0.0</text>
<text x="420.40" y="17.50" font-size="23" font-weight="bold" fill="#000" stroke="#000" stroke-width="0.5">D</text>
<rect x="470.76" y="57.30" width="29.44" height="141.20" fill="#5f9e6e" stroke="#111" stroke-width="0.9"/>
<line x1="485.48" y1="56.30" x2="485.48" y2="58.50" stroke="#111" stroke-width="1.3"/>
<line x1="477.78" y1="56.30" x2="493.18" y2="56.30" stroke="#1a1a1a" stroke-width="1.9" stroke-opacity="0.62"/>
<line x1="477.78" y1="58.50" x2="493.18" y2="58.50" stroke="#1a1a1a" stroke-width="1.9" stroke-opacity="0.62"/>
<text x="485.48" y="48.80" font-size="8.6" text-anchor="middle" fill="#1c1c1c" stroke="#1c1c1c" stroke-width="0.22">0.69</text>
<rect x="500.20" y="153.30" width="29.44" height="45.20" fill="#b55d60" stroke="#111" stroke-width="0.9"/>
<line x1="507.32" y1="153.30" x2="522.52" y2="153.30" stroke="#111" stroke-width="1.9"/>
<text x="514.92" y="149.80" font-size="8.6" text-anchor="middle" fill="#1c1c1c" stroke="#1c1c1c" stroke-width="0.22">0.22</text>
<rect x="544.36" y="134.10" width="29.44" height="64.40" fill="#5f9e6e" stroke="#111" stroke-width="0.9"/>
<line x1="559.08" y1="133.30" x2="559.08" y2="135.40" stroke="#111" stroke-width="1.3"/>
<line x1="551.38" y1="133.30" x2="566.78" y2="133.30" stroke="#1a1a1a" stroke-width="1.9" stroke-opacity="0.62"/>
<line x1="551.38" y1="135.40" x2="566.78" y2="135.40" stroke="#1a1a1a" stroke-width="1.9" stroke-opacity="0.62"/>
<text x="559.08" y="127.60" font-size="8.6" text-anchor="middle" fill="#1c1c1c" stroke="#1c1c1c" stroke-width="0.22">0.31</text>
<rect x="573.80" y="59.20" width="29.44" height="139.30" fill="#b55d60" stroke="#111" stroke-width="0.9"/>
<line x1="580.92" y1="59.20" x2="596.12" y2="59.20" stroke="#111" stroke-width="1.9"/>
<text x="588.52" y="50.80" font-size="8.6" text-anchor="middle" fill="#1c1c1c" stroke="#1c1c1c" stroke-width="0.22">0.68</text>
<rect x="647.40" y="177.30" width="29.44" height="21.20" fill="#b55d60" stroke="#111" stroke-width="0.9"/>
<line x1="654.52" y1="177.30" x2="669.72" y2="177.30" stroke="#111" stroke-width="1.9"/>
<text x="662.12" y="173.40" font-size="8.6" text-anchor="middle" fill="#1c1c1c" stroke="#1c1c1c" stroke-width="0.22">0.10</text>
<rect x="463.40" y="18.40" width="220.80" height="180.10" fill="none" stroke="#363636" stroke-width="1.25"/>
<line x1="460.40" y1="198.50" x2="463.40" y2="198.50" stroke="#222" stroke-width="1"/>
<text x="458.40" y="202.10" font-size="10.2" text-anchor="end" fill="#1c1c1c" stroke="#1c1c1c" stroke-width="0.27">0.0</text>
<line x1="460.40" y1="157.58" x2="463.40" y2="157.58" stroke="#222" stroke-width="1"/>
<text x="458.40" y="161.18" font-size="10.2" text-anchor="end" fill="#1c1c1c" stroke="#1c1c1c" stroke-width="0.27">0.2</text>
<line x1="460.40" y1="116.66" x2="463.40" y2="116.66" stroke="#222" stroke-width="1"/>
<text x="458.40" y="120.26" font-size="10.2" text-anchor="end" fill="#1c1c1c" stroke="#1c1c1c" stroke-width="0.27">0.4</text>
<line x1="460.40" y1="75.74" x2="463.40" y2="75.74" stroke="#222" stroke-width="1"/>
<text x="458.40" y="79.34" font-size="10.2" text-anchor="end" fill="#1c1c1c" stroke="#1c1c1c" stroke-width="0.27">0.6</text>
<line x1="460.40" y1="34.82" x2="463.40" y2="34.82" stroke="#222" stroke-width="1"/>
<text x="458.40" y="38.42" font-size="10.2" text-anchor="end" fill="#1c1c1c" stroke="#1c1c1c" stroke-width="0.27">0.8</text>
<line x1="500.20" y1="198.50" x2="500.20" y2="201.50" stroke="#222" stroke-width="1"/>
<text x="500.20" y="210.90" font-size="10.2" text-anchor="middle" fill="#1c1c1c" stroke="#1c1c1c" stroke-width="0.27">1</text>
<line x1="573.80" y1="198.50" x2="573.80" y2="201.50" stroke="#222" stroke-width="1"/>
<text x="573.80" y="210.90" font-size="10.2" text-anchor="middle" fill="#1c1c1c" stroke="#1c1c1c" stroke-width="0.27">2</text>
<line x1="647.40" y1="198.50" x2="647.40" y2="201.50" stroke="#222" stroke-width="1"/>
<text x="647.40" y="210.90" font-size="10.2" text-anchor="middle" fill="#1c1c1c" stroke="#1c1c1c" stroke-width="0.27">3</text>
<text x="573.40" y="223.20" font-size="10.1" text-anchor="middle" fill="#1c1c1c" stroke="#1c1c1c" stroke-width="0.26">Stability Type</text>
<text x="441.00" y="109.90" font-size="10.3" text-anchor="middle" fill="#1c1c1c" transform="rotate(-90 441.00 109.90)" stroke="#1c1c1c" stroke-width="0.27">Fraction</text>
<rect x="630.3" y="23.1" width="50.0" height="38.6" rx="1.8" fill="#fff" stroke="#2a2a2a" stroke-width="0.9"/>
<text transform="translate(655.20 33.00) scale(1.0 1)" font-size="9.6" text-anchor="middle" fill="#1c1c1c" stroke="#1c1c1c" stroke-width="0.25">Motif</text>
<rect x="633.30" y="39.40" width="17.00" height="5.60" fill="#5f9e6e" stroke="#111" stroke-width="1.0"/>
<rect x="633.30" y="51.10" width="17.00" height="5.60" fill="#b55d60" stroke="#111" stroke-width="1.0"/>
<text transform="translate(657.30 45.49) scale(0.89 1)" font-size="8.3" fill="#1c1c1c" stroke="#1c1c1c" stroke-width="0.22">TS</text>
<text transform="translate(657.30 57.19) scale(0.89 1)" font-size="8.3" fill="#1c1c1c" stroke="#1c1c1c" stroke-width="0.22">TSSA</text>
<text x="422.60" y="242.80" font-size="23" font-weight="bold" fill="#000" stroke="#000" stroke-width="0.5">E</text>
<rect x="460.34" y="286.60" width="22.96" height="143.90" fill="#5f9e6e" stroke="#111" stroke-width="0.9"/>
<line x1="471.82" y1="282.20" x2="471.82" y2="291.00" stroke="#111" stroke-width="1.0"/>
<line x1="465.82" y1="282.20" x2="477.82" y2="282.20" stroke="#111" stroke-width="1.0"/>
<line x1="465.82" y1="291.00" x2="477.82" y2="291.00" stroke="#111" stroke-width="1.0"/>
<text x="471.82" y="277.00" font-size="8.8" text-anchor="middle" fill="#1c1c1c" stroke="#1c1c1c" stroke-width="0.23">0.49</text>
<rect x="483.30" y="293.90" width="22.96" height="136.60" fill="#b55d60" stroke="#111" stroke-width="0.9"/>
<line x1="494.78" y1="291.80" x2="494.78" y2="296.20" stroke="#111" stroke-width="1.0"/>
<line x1="488.78" y1="291.80" x2="500.78" y2="291.80" stroke="#111" stroke-width="1.0"/>
<line x1="488.78" y1="296.20" x2="500.78" y2="296.20" stroke="#111" stroke-width="1.0"/>
<text x="494.78" y="284.20" font-size="8.8" text-anchor="middle" fill="#1c1c1c" stroke="#1c1c1c" stroke-width="0.23">0.47</text>
<rect x="517.74" y="291.50" width="22.96" height="139.00" fill="#5f9e6e" stroke="#111" stroke-width="0.9"/>
<line x1="529.22" y1="288.30" x2="529.22" y2="295.00" stroke="#111" stroke-width="1.0"/>
<line x1="523.22" y1="288.30" x2="535.22" y2="288.30" stroke="#111" stroke-width="1.0"/>
<line x1="523.22" y1="295.00" x2="535.22" y2="295.00" stroke="#111" stroke-width="1.0"/>
<text x="529.22" y="281.60" font-size="8.8" text-anchor="middle" fill="#1c1c1c" stroke="#1c1c1c" stroke-width="0.23">0.47</text>
<rect x="540.70" y="287.00" width="22.96" height="143.50" fill="#b55d60" stroke="#111" stroke-width="0.9"/>
<line x1="552.18" y1="285.40" x2="552.18" y2="288.90" stroke="#111" stroke-width="1.0"/>
<line x1="546.18" y1="285.40" x2="558.18" y2="285.40" stroke="#111" stroke-width="1.0"/>
<line x1="546.18" y1="288.90" x2="558.18" y2="288.90" stroke="#111" stroke-width="1.0"/>
<text x="552.18" y="277.40" font-size="8.8" text-anchor="middle" fill="#1c1c1c" stroke="#1c1c1c" stroke-width="0.23">0.49</text>
<rect x="575.14" y="423.20" width="22.96" height="7.30" fill="#5f9e6e" stroke="#111" stroke-width="0.9"/>
<line x1="586.62" y1="421.30" x2="586.62" y2="424.80" stroke="#111" stroke-width="1.0"/>
<line x1="580.62" y1="421.30" x2="592.62" y2="421.30" stroke="#111" stroke-width="1.0"/>
<line x1="580.62" y1="424.80" x2="592.62" y2="424.80" stroke="#111" stroke-width="1.0"/>
<text x="586.62" y="403.80" font-size="8.8" text-anchor="middle" fill="#1c1c1c" stroke="#1c1c1c" stroke-width="0.23">0.03</text>
<rect x="598.10" y="430.40" width="22.96" height="0.10" fill="#b55d60" stroke="#111" stroke-width="0.9"/>
<text x="609.58" y="411.10" font-size="8.8" text-anchor="middle" fill="#1c1c1c" stroke="#1c1c1c" stroke-width="0.23">0.00</text>
<rect x="632.54" y="427.50" width="22.96" height="3.00" fill="#5f9e6e" stroke="#111" stroke-width="0.9"/>
<line x1="638.02" y1="427.50" x2="650.02" y2="427.50" stroke="#111" stroke-width="1.9"/>
<text x="644.02" y="408.50" font-size="8.8" text-anchor="middle" fill="#1c1c1c" stroke="#1c1c1c" stroke-width="0.23">0.01</text>
<rect x="655.50" y="417.30" width="22.96" height="13.20" fill="#b55d60" stroke="#111" stroke-width="0.9"/>
<line x1="660.98" y1="417.30" x2="672.98" y2="417.30" stroke="#111" stroke-width="1.9"/>
<text x="666.98" y="398.70" font-size="8.8" text-anchor="middle" fill="#1c1c1c" stroke="#1c1c1c" stroke-width="0.23">0.04</text>
<rect x="454.60" y="243.80" width="229.60" height="186.70" fill="none" stroke="#363636" stroke-width="1.25"/>
<line x1="451.60" y1="430.50" x2="454.60" y2="430.50" stroke="#222" stroke-width="1"/>
<text x="449.60" y="434.10" font-size="10.2" text-anchor="end" fill="#1c1c1c" stroke="#1c1c1c" stroke-width="0.27">0.0</text>
<line x1="451.60" y1="401.20" x2="454.60" y2="401.20" stroke="#222" stroke-width="1"/>
<text x="449.60" y="404.80" font-size="10.2" text-anchor="end" fill="#1c1c1c" stroke="#1c1c1c" stroke-width="0.27">0.1</text>
<line x1="451.60" y1="371.90" x2="454.60" y2="371.90" stroke="#222" stroke-width="1"/>
<text x="449.60" y="375.50" font-size="10.2" text-anchor="end" fill="#1c1c1c" stroke="#1c1c1c" stroke-width="0.27">0.2</text>
<line x1="451.60" y1="342.60" x2="454.60" y2="342.60" stroke="#222" stroke-width="1"/>
<text x="449.60" y="346.20" font-size="10.2" text-anchor="end" fill="#1c1c1c" stroke="#1c1c1c" stroke-width="0.27">0.3</text>
<line x1="451.60" y1="313.30" x2="454.60" y2="313.30" stroke="#222" stroke-width="1"/>
<text x="449.60" y="316.90" font-size="10.2" text-anchor="end" fill="#1c1c1c" stroke="#1c1c1c" stroke-width="0.27">0.4</text>
<line x1="451.60" y1="284.00" x2="454.60" y2="284.00" stroke="#222" stroke-width="1"/>
<text x="449.60" y="287.60" font-size="10.2" text-anchor="end" fill="#1c1c1c" stroke="#1c1c1c" stroke-width="0.27">0.5</text>
<line x1="451.60" y1="254.70" x2="454.60" y2="254.70" stroke="#222" stroke-width="1"/>
<text x="449.60" y="258.30" font-size="10.2" text-anchor="end" fill="#1c1c1c" stroke="#1c1c1c" stroke-width="0.27">0.6</text>
<line x1="483.30" y1="430.50" x2="483.30" y2="433.50" stroke="#222" stroke-width="1"/>
<text x="483.30" y="443.80" font-size="10.2" text-anchor="middle" fill="#1c1c1c" stroke="#1c1c1c" stroke-width="0.27">01</text>
<line x1="540.70" y1="430.50" x2="540.70" y2="433.50" stroke="#222" stroke-width="1"/>
<text x="540.70" y="443.80" font-size="10.2" text-anchor="middle" fill="#1c1c1c" stroke="#1c1c1c" stroke-width="0.27">10</text>
<line x1="598.10" y1="430.50" x2="598.10" y2="433.50" stroke="#222" stroke-width="1"/>
<text x="598.10" y="443.80" font-size="10.2" text-anchor="middle" fill="#1c1c1c" stroke="#1c1c1c" stroke-width="0.27">11</text>
<line x1="655.50" y1="430.50" x2="655.50" y2="433.50" stroke="#222" stroke-width="1"/>
<text x="655.50" y="443.80" font-size="10.2" text-anchor="middle" fill="#1c1c1c" stroke="#1c1c1c" stroke-width="0.27">00</text>
<text x="569.60" y="455.80" font-size="10.3" text-anchor="middle" fill="#1c1c1c" stroke="#1c1c1c" stroke-width="0.27">State</text>
<text x="432.00" y="338.50" font-size="10.3" text-anchor="middle" fill="#1c1c1c" transform="rotate(-90 432.00 338.50)" stroke="#1c1c1c" stroke-width="0.27">Fraction</text>
<rect x="628.2" y="248.2" width="52.3" height="40.3" rx="1.8" fill="#fff" stroke="#2a2a2a" stroke-width="0.9"/>
<text transform="translate(654.30 258.80) scale(1.0 1)" font-size="10.0" text-anchor="middle" fill="#1c1c1c" stroke="#1c1c1c" stroke-width="0.26">Motif</text>
<rect x="631.90" y="264.70" width="17.90" height="6.40" fill="#5f9e6e" stroke="#111" stroke-width="1.0"/>
<rect x="631.90" y="277.30" width="17.90" height="6.40" fill="#b55d60" stroke="#111" stroke-width="1.0"/>
<text transform="translate(656.40 271.33) scale(0.89 1)" font-size="8.7" fill="#1c1c1c" stroke="#1c1c1c" stroke-width="0.23">TS</text>
<text transform="translate(656.40 283.93) scale(0.89 1)" font-size="8.7" fill="#1c1c1c" stroke="#1c1c1c" stroke-width="0.23">TSSA</text>
<text x="422.80" y="479.50" font-size="23" font-weight="bold" fill="#000" stroke="#000" stroke-width="0.5">F</text>
<rect x="458.68" y="555.60" width="23.13" height="55.50" fill="#5f9e6e" stroke="#111" stroke-width="0.9"/>
<line x1="470.25" y1="554.10" x2="470.25" y2="557.20" stroke="#111" stroke-width="1.0"/>
<line x1="464.25" y1="554.10" x2="476.25" y2="554.10" stroke="#111" stroke-width="1.0"/>
<line x1="464.25" y1="557.20" x2="476.25" y2="557.20" stroke="#111" stroke-width="1.0"/>
<text x="470.25" y="551.70" font-size="8.0" text-anchor="middle" fill="#1c1c1c" stroke="#1c1c1c" stroke-width="0.21">0.33</text>
<rect x="481.81" y="594.30" width="23.13" height="16.80" fill="#b55d60" stroke="#111" stroke-width="0.9"/>
<line x1="487.38" y1="594.30" x2="499.38" y2="594.30" stroke="#111" stroke-width="1.9"/>
<text x="493.38" y="592.10" font-size="8.0" text-anchor="middle" fill="#1c1c1c" stroke="#1c1c1c" stroke-width="0.21">0.10</text>
<rect x="516.51" y="557.80" width="23.13" height="53.30" fill="#5f9e6e" stroke="#111" stroke-width="0.9"/>
<line x1="528.07" y1="556.20" x2="528.07" y2="560.00" stroke="#111" stroke-width="1.0"/>
<line x1="522.07" y1="556.20" x2="534.07" y2="556.20" stroke="#111" stroke-width="1.0"/>
<line x1="522.07" y1="560.00" x2="534.07" y2="560.00" stroke="#111" stroke-width="1.0"/>
<text x="528.07" y="553.70" font-size="8.0" text-anchor="middle" fill="#1c1c1c" stroke="#1c1c1c" stroke-width="0.21">0.32</text>
<rect x="539.64" y="592.70" width="23.13" height="18.40" fill="#b55d60" stroke="#111" stroke-width="0.9"/>
<text x="551.20" y="590.70" font-size="8.0" text-anchor="middle" fill="#1c1c1c" stroke="#1c1c1c" stroke-width="0.21">0.11</text>
<rect x="574.33" y="560.70" width="23.13" height="50.40" fill="#5f9e6e" stroke="#111" stroke-width="0.9"/>
<line x1="579.90" y1="560.70" x2="591.90" y2="560.70" stroke="#111" stroke-width="1.9"/>
<text x="585.90" y="556.60" font-size="8.0" text-anchor="middle" fill="#1c1c1c" stroke="#1c1c1c" stroke-width="0.21">0.30</text>
<rect x="597.46" y="508.50" width="23.13" height="102.60" fill="#b55d60" stroke="#111" stroke-width="0.9"/>
<line x1="603.03" y1="508.50" x2="615.03" y2="508.50" stroke="#111" stroke-width="1.9"/>
<text x="609.03" y="501.60" font-size="8.0" text-anchor="middle" fill="#1c1c1c" stroke="#1c1c1c" stroke-width="0.21">0.62</text>
<rect x="655.29" y="594.30" width="23.13" height="16.80" fill="#b55d60" stroke="#111" stroke-width="0.9"/>
<line x1="660.85" y1="594.30" x2="672.85" y2="594.30" stroke="#111" stroke-width="1.9"/>
<text x="666.85" y="592.10" font-size="8.0" text-anchor="middle" fill="#1c1c1c" stroke="#1c1c1c" stroke-width="0.21">0.10</text>
<rect x="452.90" y="480.90" width="231.30" height="130.20" fill="none" stroke="#363636" stroke-width="1.25"/>
<line x1="449.90" y1="611.10" x2="452.90" y2="611.10" stroke="#222" stroke-width="1"/>
<text x="448.40" y="614.20" font-size="8.4" text-anchor="end" fill="#1c1c1c" stroke="#1c1c1c" stroke-width="0.22">0.0</text>
<line x1="449.90" y1="577.90" x2="452.90" y2="577.90" stroke="#222" stroke-width="1"/>
<text x="448.40" y="581.00" font-size="8.4" text-anchor="end" fill="#1c1c1c" stroke="#1c1c1c" stroke-width="0.22">0.2</text>
<line x1="449.90" y1="544.70" x2="452.90" y2="544.70" stroke="#222" stroke-width="1"/>
<text x="448.40" y="547.80" font-size="8.4" text-anchor="end" fill="#1c1c1c" stroke="#1c1c1c" stroke-width="0.22">0.4</text>
<line x1="449.90" y1="511.50" x2="452.90" y2="511.50" stroke="#222" stroke-width="1"/>
<text x="448.40" y="514.60" font-size="8.4" text-anchor="end" fill="#1c1c1c" stroke="#1c1c1c" stroke-width="0.22">0.6</text>
<line x1="481.81" y1="611.10" x2="481.81" y2="614.10" stroke="#222" stroke-width="1"/>
<text x="484.81" y="615.80" font-size="8.4" text-anchor="end" fill="#1c1c1c" transform="rotate(-90 484.81 615.80)" stroke="#1c1c1c" stroke-width="0.22">01</text>
<line x1="539.64" y1="611.10" x2="539.64" y2="614.10" stroke="#222" stroke-width="1"/>
<text x="542.64" y="615.80" font-size="8.4" text-anchor="end" fill="#1c1c1c" transform="rotate(-90 542.64 615.80)" stroke="#1c1c1c" stroke-width="0.22">10</text>
<line x1="597.46" y1="611.10" x2="597.46" y2="614.10" stroke="#222" stroke-width="1"/>
<text x="600.46" y="615.80" font-size="8.4" text-anchor="end" fill="#1c1c1c" transform="rotate(-90 600.46 615.80)" stroke="#1c1c1c" stroke-width="0.22">01 10</text>
<line x1="655.29" y1="611.10" x2="655.29" y2="614.10" stroke="#222" stroke-width="1"/>
<text x="658.29" y="615.80" font-size="8.4" text-anchor="end" fill="#1c1c1c" transform="rotate(-90 658.29 615.80)" stroke="#1c1c1c" stroke-width="0.22">00 01 10</text>
<text x="568.60" y="658.00" font-size="8.4" text-anchor="middle" fill="#1c1c1c" stroke="#1c1c1c" stroke-width="0.22">State</text>
<text x="433.80" y="546.80" font-size="8.4" text-anchor="middle" fill="#1c1c1c" transform="rotate(-90 433.80 546.80)" stroke="#1c1c1c" stroke-width="0.22">Fraction</text>
<rect x="637.4" y="484.6" width="43.9" height="33.8" rx="1.8" fill="#fff" stroke="#2a2a2a" stroke-width="0.9"/>
<text transform="translate(659.40 493.40) scale(1.0 1)" font-size="8.4" text-anchor="middle" fill="#1c1c1c" stroke="#1c1c1c" stroke-width="0.22">Motif</text>
<rect x="640.40" y="498.30" width="15.00" height="5.10" fill="#5f9e6e" stroke="#111" stroke-width="1.0"/>
<rect x="640.40" y="508.50" width="15.00" height="5.10" fill="#b55d60" stroke="#111" stroke-width="1.0"/>
<text transform="translate(660.90 503.81) scale(0.89 1)" font-size="7.4" fill="#1c1c1c" stroke="#1c1c1c" stroke-width="0.19">TS</text>
<text transform="translate(660.90 514.01) scale(0.89 1)" font-size="7.4" fill="#1c1c1c" stroke="#1c1c1c" stroke-width="0.19">TSSA</text>
<text x="-0.80" y="682.60" font-size="23" font-weight="bold" fill="#000" stroke="#000" stroke-width="0.5">G</text>
<text x="21.80" y="693.60" font-size="20" font-weight="bold" fill="#000" stroke="#000" stroke-width="0.7" letter-spacing="-0.7">i</text>
<text x="238.90" y="693.70" font-size="20" font-weight="bold" fill="#000" stroke="#000" stroke-width="0.7" letter-spacing="-0.7">ii</text>
<text x="459.80" y="694.00" font-size="20" font-weight="bold" fill="#000" stroke="#000" stroke-width="0.7" letter-spacing="-0.7">iii</text>
<g fill="#4c72b0" fill-opacity="0.93">
<circle cx="66.5" cy="761.0" r="1.22"/><circle cx="165.7" cy="830.7" r="1.22"/><circle cx="133.0" cy="722.1" r="1.22"/><circle cx="105.4" cy="796.3" r="1.22"/><circle cx="81.0" cy="710.8" r="1.22"/><circle cx="143.9" cy="776.0" r="1.22"/><circle cx="186.7" cy="739.4" r="1.22"/><circle cx="50.1" cy="818.0" r="1.22"/><circle cx="60.9" cy="737.5" r="1.22"/><circle cx="178.2" cy="802.7" r="1.22"/><circle cx="138.8" cy="766.0" r="1.22"/><circle cx="92.9" cy="844.7" r="1.22"/><circle cx="113.9" cy="752.3" r="1.22"/><circle cx="122.3" cy="822.0" r="1.22"/><circle cx="153.8" cy="713.4" r="1.22"/><circle cx="71.6" cy="787.6" r="1.22"/><circle cx="79.2" cy="715.9" r="1.22"/><circle cx="161.6" cy="785.6" r="1.22"/><circle cx="119.4" cy="749.2" r="1.22"/><circle cx="110.6" cy="823.4" r="1.22"/><circle cx="94.3" cy="773.6" r="1.22"/><circle cx="140.3" cy="838.8" r="1.22"/><circle cx="172.5" cy="730.5" r="1.22"/><circle cx="54.8" cy="809.1" r="1.22"/><circle cx="46.2" cy="746.3" r="1.22"/><circle cx="183.3" cy="811.6" r="1.22"/><circle cx="152.3" cy="703.2" r="1.22"/><circle cx="89.2" cy="781.9" r="1.22"/><circle cx="99.9" cy="725.2" r="1.22"/><circle cx="127.9" cy="794.9" r="1.22"/><circle cx="166.7" cy="758.5" r="1.22"/><circle cx="67.3" cy="832.7" r="1.22"/><circle cx="70.3" cy="720.8" r="1.22"/><circle cx="170.6" cy="799.5" r="1.22"/><circle cx="128.3" cy="763.1" r="1.22"/><circle cx="101.7" cy="828.2" r="1.22"/><circle cx="85.3" cy="741.8" r="1.22"/><circle cx="149.3" cy="816.0" r="1.22"/><circle cx="181.4" cy="707.6" r="1.22"/><circle cx="45.8" cy="777.3" r="1.22"/><circle cx="55.4" cy="769.1" r="1.22"/><circle cx="174.0" cy="843.2" r="1.22"/><circle cx="143.0" cy="734.9" r="1.22"/><circle cx="98.4" cy="804.5" r="1.22"/><circle cx="109.1" cy="711.5" r="1.22"/><circle cx="118.7" cy="790.2" r="1.22"/><circle cx="157.5" cy="753.8" r="1.22"/><circle cx="76.5" cy="819.0" r="1.22"/><circle cx="75.4" cy="747.9" r="1.22"/><circle cx="156.8" cy="826.6" r="1.22"/><circle cx="124.1" cy="718.0" r="1.22"/><circle cx="114.4" cy="783.1" r="1.22"/><circle cx="89.9" cy="732.9" r="1.22"/><circle cx="135.0" cy="807.1" r="1.22"/><circle cx="177.8" cy="770.4" r="1.22"/><circle cx="59.0" cy="840.1" r="1.22"/><circle cx="51.7" cy="706.2" r="1.22"/><circle cx="187.4" cy="780.4" r="1.22"/><circle cx="148.0" cy="743.8" r="1.22"/><circle cx="83.7" cy="813.4" r="1.22"/><circle cx="104.7" cy="756.6" r="1.22"/><circle cx="131.5" cy="835.3" r="1.22"/><circle cx="163.1" cy="726.7" r="1.22"/><circle cx="62.4" cy="791.9" r="1.22"/><circle cx="64.0" cy="706.6" r="1.22"/><circle cx="163.2" cy="776.2" r="1.22"/><circle cx="131.1" cy="740.7" r="1.22"/><circle cx="103.5" cy="814.9" r="1.22"/><circle cx="83.5" cy="764.1" r="1.22"/><circle cx="146.5" cy="829.3" r="1.22"/><circle cx="188.7" cy="721.8" r="1.22"/><circle cx="52.1" cy="800.5" r="1.22"/><circle cx="58.4" cy="754.9" r="1.22"/><circle cx="175.7" cy="820.0" r="1.22"/><circle cx="136.8" cy="712.6" r="1.22"/><circle cx="90.9" cy="791.2" r="1.22"/><circle cx="116.5" cy="733.8" r="1.22"/><circle cx="124.9" cy="803.5" r="1.22"/><circle cx="155.9" cy="768.0" r="1.22"/><circle cx="73.6" cy="842.2" r="1.22"/><circle cx="77.2" cy="769.4" r="1.22"/><circle cx="159.6" cy="839.0" r="1.22"/><circle cx="116.8" cy="731.9" r="1.22"/><circle cx="108.1" cy="806.0" r="1.22"/><circle cx="96.2" cy="719.0" r="1.22"/><circle cx="142.3" cy="784.2" r="1.22"/><circle cx="175.0" cy="748.9" r="1.22"/><circle cx="57.3" cy="827.6" r="1.22"/><circle cx="44.2" cy="727.8" r="1.22"/><circle cx="181.2" cy="792.9" r="1.22"/><circle cx="149.7" cy="757.7" r="1.22"/><circle cx="86.6" cy="836.3" r="1.22"/><circle cx="101.8" cy="742.7" r="1.22"/><circle cx="129.9" cy="812.4" r="1.22"/><circle cx="169.2" cy="705.2" r="1.22"/><circle cx="69.8" cy="779.4" r="1.22"/><circle cx="68.3" cy="738.1" r="1.22"/><circle cx="168.5" cy="816.8" r="1.22"/><circle cx="125.8" cy="709.6" r="1.22"/><circle cx="99.1" cy="774.8" r="1.22"/><circle cx="87.3" cy="723.3" r="1.22"/><circle cx="151.2" cy="797.5" r="1.22"/><circle cx="183.9" cy="762.2" r="1.22"/><circle cx="48.3" cy="831.9" r="1.22"/><circle cx="53.4" cy="714.6" r="1.22"/><circle cx="172.0" cy="788.8" r="1.22"/><circle cx="140.4" cy="753.5" r="1.22"/><circle cx="95.8" cy="823.2" r="1.22"/><circle cx="111.1" cy="764.9" r="1.22"/><circle cx="120.6" cy="843.5" r="1.22"/><circle cx="160.0" cy="736.3" r="1.22"/><circle cx="79.1" cy="801.5" r="1.22"/><circle cx="72.9" cy="729.3" r="1.22"/><circle cx="154.3" cy="808.0" r="1.22"/><circle cx="122.2" cy="772.4" r="1.22"/><circle cx="112.4" cy="837.6" r="1.22"/><circle cx="92.5" cy="750.5" r="1.22"/><circle cx="137.6" cy="824.6" r="1.22"/><circle cx="179.8" cy="717.1" r="1.22"/><circle cx="61.0" cy="786.8" r="1.22"/><circle cx="49.1" cy="759.7" r="1.22"/><circle cx="184.9" cy="833.9" r="1.22"/><circle cx="146.1" cy="726.4" r="1.22"/><circle cx="81.7" cy="796.1" r="1.22"/><circle cx="107.3" cy="702.1" r="1.22"/><circle cx="134.1" cy="780.7" r="1.22"/><circle cx="165.1" cy="745.2" r="1.22"/><circle cx="64.4" cy="810.3" r="1.22"/><circle cx="65.3" cy="735.2" r="1.22"/><circle cx="164.7" cy="804.9" r="1.22"/><circle cx="134.4" cy="768.2" r="1.22"/><circle cx="106.4" cy="842.4" r="1.22"/><circle cx="82.1" cy="754.7" r="1.22"/><circle cx="145.2" cy="819.8" r="1.22"/><circle cx="185.8" cy="711.2" r="1.22"/><circle cx="48.8" cy="789.9" r="1.22"/><circle cx="61.8" cy="763.3" r="1.22"/><circle cx="179.6" cy="828.5" r="1.22"/><circle cx="137.8" cy="719.9" r="1.22"/><circle cx="91.7" cy="798.6" r="1.22"/><circle cx="112.6" cy="708.5" r="1.22"/><circle cx="121.4" cy="778.1" r="1.22"/><circle cx="155.1" cy="741.5" r="1.22"/><circle cx="72.7" cy="815.7" r="1.22"/><circle cx="78.1" cy="744.0" r="1.22"/><circle cx="160.4" cy="813.7" r="1.22"/><circle cx="120.3" cy="705.4" r="1.22"/><circle cx="112.0" cy="779.6" r="1.22"/><circle cx="95.5" cy="727.6" r="1.22"/><circle cx="141.3" cy="792.7" r="1.22"/><circle cx="171.1" cy="756.3" r="1.22"/><circle cx="53.8" cy="835.0" r="1.22"/><circle cx="47.5" cy="718.2" r="1.22"/><circle cx="184.2" cy="783.4" r="1.22"/><circle cx="151.0" cy="747.0" r="1.22"/><circle cx="88.1" cy="825.8" r="1.22"/><circle cx="98.9" cy="771.3" r="1.22"/><circle cx="126.5" cy="840.9" r="1.22"/><circle cx="167.7" cy="732.7" r="1.22"/><circle cx="68.5" cy="806.8" r="1.22"/><circle cx="68.9" cy="766.9" r="1.22"/><circle cx="169.6" cy="845.5" r="1.22"/><circle cx="129.5" cy="737.2" r="1.22"/><circle cx="102.7" cy="802.4" r="1.22"/><circle cx="86.2" cy="713.7" r="1.22"/><circle cx="150.6" cy="787.9" r="1.22"/><circle cx="180.3" cy="751.4" r="1.22"/><circle cx="44.6" cy="821.2" r="1.22"/><circle cx="56.5" cy="723.0" r="1.22"/><circle cx="175.2" cy="797.1" r="1.22"/><circle cx="142.1" cy="760.8" r="1.22"/><circle cx="97.0" cy="830.4" r="1.22"/><circle cx="107.9" cy="739.6" r="1.22"/><circle cx="117.6" cy="818.3" r="1.22"/><circle cx="158.8" cy="709.9" r="1.22"/><circle cx="77.4" cy="775.2" r="1.22"/><circle cx="74.6" cy="704.1" r="1.22"/><circle cx="155.5" cy="782.7" r="1.22"/><circle cx="125.2" cy="746.1" r="1.22"/><circle cx="115.6" cy="811.2" r="1.22"/><circle cx="91.3" cy="758.8" r="1.22"/><circle cx="135.9" cy="833.0" r="1.22"/><circle cx="176.6" cy="724.3" r="1.22"/><circle cx="58.0" cy="794.1" r="1.22"/><circle cx="52.9" cy="750.1" r="1.22"/><circle cx="188.5" cy="824.2" r="1.22"/><circle cx="146.7" cy="715.7" r="1.22"/><circle cx="82.8" cy="785.3" r="1.22"/><circle cx="103.7" cy="730.7" r="1.22"/><circle cx="130.3" cy="809.4" r="1.22"/><circle cx="164.0" cy="772.7" r="1.22"/><circle cx="63.7" cy="838.0" r="1.22"/><circle cx="62.7" cy="752.7" r="1.22"/><circle cx="162.1" cy="822.3" r="1.22"/><circle cx="132.4" cy="714.9" r="1.22"/><circle cx="104.4" cy="789.0" r="1.22"/><circle cx="84.6" cy="736.0" r="1.22"/><circle cx="147.7" cy="801.2" r="1.22"/><circle cx="187.8" cy="765.7" r="1.22"/><circle cx="50.7" cy="844.4" r="1.22"/><circle cx="59.3" cy="708.8" r="1.22"/><circle cx="177.0" cy="774.0" r="1.22"/><circle cx="135.7" cy="738.4" r="1.22"/><circle cx="89.7" cy="817.1" r="1.22"/><circle cx="115.2" cy="761.9" r="1.22"/><circle cx="123.9" cy="831.6" r="1.22"/><circle cx="157.0" cy="724.1" r="1.22"/><circle cx="74.6" cy="798.3" r="1.22"/><circle cx="76.2" cy="725.6" r="1.22"/><circle cx="158.4" cy="795.2" r="1.22"/><circle cx="117.8" cy="760.0" r="1.22"/><circle cx="109.4" cy="834.1" r="1.22"/><circle cx="97.5" cy="744.8" r="1.22"/><circle cx="143.4" cy="810.1" r="1.22"/><circle cx="173.7" cy="702.9" r="1.22"/><circle cx="56.4" cy="781.6" r="1.22"/><circle cx="45.6" cy="771.6" r="1.22"/><circle cx="182.2" cy="836.7" r="1.22"/><circle cx="148.5" cy="729.6" r="1.22"/><circle cx="85.5" cy="808.2" r="1.22"/><circle cx="100.9" cy="716.8" r="1.22"/><circle cx="128.5" cy="786.6" r="1.22"/><circle cx="170.3" cy="751.3" r="1.22"/><circle cx="71.1" cy="825.5" r="1.22"/><circle cx="66.9" cy="712.3" r="1.22"/><circle cx="167.7" cy="791.0" r="1.22"/><circle cx="127.0" cy="755.7" r="1.22"/><circle cx="100.2" cy="820.9" r="1.22"/><circle cx="88.2" cy="767.1" r="1.22"/><circle cx="152.6" cy="841.3" r="1.22"/><circle cx="182.9" cy="734.2" r="1.22"/><circle cx="47.2" cy="803.8" r="1.22"/><circle cx="54.5" cy="740.4" r="1.22"/><circle cx="173.3" cy="814.6" r="1.22"/><circle cx="139.5" cy="707.4" r="1.22"/><circle cx="94.5" cy="777.1" r="1.22"/><circle cx="109.9" cy="721.0" r="1.22"/><circle cx="119.6" cy="799.7" r="1.22"/><circle cx="161.4" cy="764.4" r="1.22"/><circle cx="80.0" cy="829.6" r="1.22"/><circle cx="72.0" cy="757.4" r="1.22"/><circle cx="152.9" cy="836.1" r="1.22"/><circle cx="123.2" cy="728.6" r="1.22"/><circle cx="113.6" cy="793.8" r="1.22"/><circle cx="93.8" cy="704.3" r="1.22"/><circle cx="138.4" cy="778.5" r="1.22"/><circle cx="178.5" cy="743.0" r="1.22"/><circle cx="59.9" cy="812.6" r="1.22"/><circle cx="50.3" cy="731.6" r="1.22"/><circle cx="185.9" cy="805.8" r="1.22"/><circle cx="144.7" cy="770.2" r="1.22"/><circle cx="80.8" cy="839.9" r="1.22"/><circle cx="106.2" cy="748.1" r="1.22"/><circle cx="132.9" cy="826.8" r="1.22"/><circle cx="166.0" cy="719.3" r="1.22"/><circle cx="65.7" cy="784.5" r="1.22"/><circle cx="66.0" cy="719.7" r="1.22"/><circle cx="166.3" cy="784.9" r="1.22"/><circle cx="132.6" cy="748.2" r="1.22"/><circle cx="105.9" cy="826.9" r="1.22"/><circle cx="80.5" cy="770.1" r="1.22"/><circle cx="144.4" cy="839.8" r="1.22"/><circle cx="186.2" cy="731.2" r="1.22"/><circle cx="50.6" cy="805.3" r="1.22"/><circle cx="60.2" cy="743.4" r="1.22"/><circle cx="178.8" cy="813.1" r="1.22"/><circle cx="138.2" cy="704.5" r="1.22"/><circle cx="93.5" cy="778.7" r="1.22"/><circle cx="113.3" cy="728.4" r="1.22"/><circle cx="122.9" cy="793.6" r="1.22"/><circle cx="153.2" cy="757.0" r="1.22"/><circle cx="72.3" cy="835.6" r="1.22"/><circle cx="79.7" cy="764.5" r="1.22"/><circle cx="161.1" cy="829.8" r="1.22"/><circle cx="119.9" cy="721.4" r="1.22"/><circle cx="110.2" cy="800.1" r="1.22"/><circle cx="94.8" cy="707.0" r="1.22"/><circle cx="139.8" cy="776.7" r="1.22"/><circle cx="173.0" cy="740.3" r="1.22"/><circle cx="54.2" cy="814.5" r="1.22"/><circle cx="46.9" cy="734.2" r="1.22"/><circle cx="182.6" cy="804.0" r="1.22"/><circle cx="152.9" cy="767.5" r="1.22"/><circle cx="88.5" cy="841.7" r="1.22"/><circle cx="100.5" cy="755.3" r="1.22"/><circle cx="127.3" cy="820.4" r="1.22"/><circle cx="167.4" cy="712.2" r="1.22"/><circle cx="66.7" cy="790.8" r="1.22"/><circle cx="70.8" cy="750.9" r="1.22"/><circle cx="170.0" cy="825.0" r="1.22"/><circle cx="128.8" cy="716.7" r="1.22"/><circle cx="101.2" cy="786.4" r="1.22"/><circle cx="85.8" cy="729.7" r="1.22"/><circle cx="148.8" cy="808.4" r="1.22"/><circle cx="181.9" cy="772.0" r="1.22"/><circle cx="45.3" cy="837.2" r="1.22"/><circle cx="56.1" cy="702.5" r="1.22"/><circle cx="173.4" cy="781.1" r="1.22"/><circle cx="143.6" cy="744.8" r="1.22"/><circle cx="97.8" cy="809.9" r="1.22"/><circle cx="109.7" cy="760.1" r="1.22"/><circle cx="118.1" cy="834.3" r="1.22"/><circle cx="158.1" cy="726.0" r="1.22"/><circle cx="75.9" cy="795.7" r="1.22"/><circle cx="74.9" cy="724.0" r="1.22"/><circle cx="157.3" cy="798.2" r="1.22"/><circle cx="123.6" cy="761.5" r="1.22"/><circle cx="114.9" cy="831.2" r="1.22"/><circle cx="89.4" cy="738.8" r="1.22"/><circle cx="135.4" cy="817.5" r="1.22"/><circle cx="177.3" cy="708.9" r="1.22"/><circle cx="59.5" cy="774.1" r="1.22"/><circle cx="51.0" cy="765.5" r="1.22"/><circle cx="188.1" cy="844.2" r="1.22"/><circle cx="147.4" cy="735.6" r="1.22"/><circle cx="84.3" cy="800.8" r="1.22"/><circle cx="104.1" cy="715.3" r="1.22"/><circle cx="132.1" cy="789.5" r="1.22"/><circle cx="162.4" cy="752.8" r="1.22"/><circle cx="63.0" cy="822.5" r="1.22"/><circle cx="63.5" cy="773.2" r="1.22"/><circle cx="163.7" cy="838.3" r="1.22"/><circle cx="130.6" cy="730.9" r="1.22"/><circle cx="104.0" cy="809.6" r="1.22"/><circle cx="83.1" cy="715.5" r="1.22"/><circle cx="147.0" cy="785.2" r="1.22"/><circle cx="188.2" cy="749.6" r="1.22"/><circle cx="52.6" cy="823.8" r="1.22"/><circle cx="57.7" cy="724.8" r="1.22"/><circle cx="176.3" cy="794.4" r="1.22"/><circle cx="136.2" cy="758.9" r="1.22"/><circle cx="91.6" cy="833.1" r="1.22"/><circle cx="115.9" cy="745.9" r="1.22"/><circle cx="125.5" cy="811.1" r="1.22"/><circle cx="155.2" cy="703.6" r="1.22"/><circle cx="74.3" cy="782.3" r="1.22"/><circle cx="77.7" cy="710.1" r="1.22"/><circle cx="159.1" cy="775.3" r="1.22"/><circle cx="117.3" cy="740.0" r="1.22"/><circle cx="107.6" cy="818.7" r="1.22"/><circle cx="96.7" cy="760.3" r="1.22"/><circle cx="141.8" cy="830.0" r="1.22"/><circle cx="175.5" cy="722.8" r="1.22"/><circle cx="56.8" cy="797.0" r="1.22"/><circle cx="44.9" cy="751.6" r="1.22"/><circle cx="180.6" cy="821.3" r="1.22"/><circle cx="150.3" cy="714.1" r="1.22"/><circle cx="85.9" cy="788.3" r="1.22"/><circle cx="102.4" cy="736.8" r="1.22"/><circle cx="129.2" cy="802.0" r="1.22"/><circle cx="169.9" cy="766.7" r="1.22"/><circle cx="69.2" cy="845.4" r="1.22"/><circle cx="68.8" cy="732.2" r="1.22"/><circle cx="168.0" cy="806.4" r="1.22"/><circle cx="126.2" cy="771.1" r="1.22"/><circle cx="98.6" cy="840.9" r="1.22"/><circle cx="87.8" cy="747.2" r="1.22"/><circle cx="150.7" cy="825.8" r="1.22"/><circle cx="184.4" cy="718.7" r="1.22"/><circle cx="47.8" cy="783.8" r="1.22"/><circle cx="54.1" cy="755.9" r="1.22"/><circle cx="171.4" cy="834.6" r="1.22"/><circle cx="141.1" cy="727.4" r="1.22"/><circle cx="95.2" cy="792.6" r="1.22"/><circle cx="111.7" cy="705.6" r="1.22"/><circle cx="120.0" cy="779.7" r="1.22"/><circle cx="160.7" cy="744.5" r="1.22"/><circle cx="78.4" cy="814.1" r="1.22"/><circle cx="72.4" cy="741.3" r="1.22"/><circle cx="154.8" cy="815.5" r="1.22"/><circle cx="121.7" cy="708.0" r="1.22"/><circle cx="112.9" cy="777.8" r="1.22"/><circle cx="92.0" cy="720.4" r="1.22"/><circle cx="138.0" cy="799.0" r="1.22"/><circle cx="179.3" cy="763.5" r="1.22"/><circle cx="61.6" cy="828.7" r="1.22"/><circle cx="48.5" cy="711.1" r="1.22"/><circle cx="185.5" cy="789.8" r="1.22"/><circle cx="145.4" cy="754.2" r="1.22"/><circle cx="82.3" cy="819.4" r="1.22"/><circle cx="106.7" cy="768.6" r="1.22"/><circle cx="134.7" cy="842.8" r="1.22"/><circle cx="164.4" cy="735.3" r="1.22"/><circle cx="65.0" cy="805.0" r="1.22"/><circle cx="64.7" cy="745.6" r="1.22"/><circle cx="165.4" cy="810.8" r="1.22"/><circle cx="133.8" cy="702.1" r="1.22"/><circle cx="107.0" cy="780.9" r="1.22"/><circle cx="81.4" cy="726.3" r="1.22"/><circle cx="145.8" cy="795.9" r="1.22"/><circle cx="185.2" cy="759.3" r="1.22"/><circle cx="49.4" cy="833.4" r="1.22"/><circle cx="61.3" cy="717.5" r="1.22"/><circle cx="180.1" cy="787.2" r="1.22"/><circle cx="137.3" cy="750.5" r="1.22"/><circle cx="92.2" cy="824.8" r="1.22"/><circle cx="112.2" cy="772.3" r="1.22"/><circle cx="121.9" cy="837.4" r="1.22"/><circle cx="154.6" cy="728.9" r="1.22"/><circle cx="73.2" cy="807.5" r="1.22"/><circle cx="78.8" cy="736.4" r="1.22"/><circle cx="159.7" cy="801.6" r="1.22"/><circle cx="120.9" cy="765.2" r="1.22"/><circle cx="111.3" cy="843.9" r="1.22"/><circle cx="96.1" cy="753.1" r="1.22"/><circle cx="140.7" cy="822.8" r="1.22"/><circle cx="171.7" cy="714.5" r="1.22"/><circle cx="53.1" cy="788.6" r="1.22"/><circle cx="48.0" cy="762.3" r="1.22"/><circle cx="183.6" cy="832.0" r="1.22"/><circle cx="151.5" cy="723.7" r="1.22"/><circle cx="87.6" cy="797.9" r="1.22"/><circle cx="99.4" cy="709.2" r="1.22"/><circle cx="126.0" cy="774.3" r="1.22"/><circle cx="168.3" cy="738.0" r="1.22"/><circle cx="68.0" cy="816.6" r="1.22"/><circle cx="69.6" cy="704.8" r="1.22"/><circle cx="168.9" cy="778.9" r="1.22"/><circle cx="130.1" cy="742.6" r="1.22"/><circle cx="102.1" cy="812.2" r="1.22"/><circle cx="86.8" cy="757.8" r="1.22"/><circle cx="149.9" cy="836.5" r="1.22"/><circle cx="181.0" cy="728.1" r="1.22"/><circle cx="43.9" cy="793.4" r="1.22"/><circle cx="57.0" cy="748.5" r="1.22"/><circle cx="174.7" cy="827.2" r="1.22"/><circle cx="142.5" cy="718.9" r="1.22"/><circle cx="96.5" cy="784.1" r="1.22"/><circle cx="108.3" cy="732.0" r="1.22"/><circle cx="117.1" cy="806.2" r="1.22"/><circle cx="159.3" cy="769.8" r="1.22"/><circle cx="76.9" cy="839.5" r="1.22"/><circle cx="73.9" cy="767.9" r="1.22"/><circle cx="156.2" cy="842.0" r="1.22"/><circle cx="124.6" cy="733.4" r="1.22"/><circle cx="116.3" cy="803.1" r="1.22"/><circle cx="90.7" cy="713.0" r="1.22"/><circle cx="136.5" cy="791.7" r="1.22"/><circle cx="175.9" cy="755.0" r="1.22"/><circle cx="58.6" cy="820.2" r="1.22"/><circle cx="52.4" cy="721.7" r="1.22"/><circle cx="189.0" cy="800.3" r="1.22"/><circle cx="146.2" cy="763.7" r="1.22"/><circle cx="83.3" cy="828.9" r="1.22"/><circle cx="103.2" cy="741.1" r="1.22"/><circle cx="130.8" cy="815.3" r="1.22"/><circle cx="163.5" cy="706.7" r="1.22"/><circle cx="64.3" cy="776.4" r="1.22"/><circle cx="62.1" cy="727.1" r="1.22"/><circle cx="162.8" cy="792.3" r="1.22"/><circle cx="131.8" cy="756.8" r="1.22"/><circle cx="105.0" cy="835.4" r="1.22"/><circle cx="84.0" cy="743.6" r="1.22"/><circle cx="148.3" cy="813.3" r="1.22"/><circle cx="187.1" cy="705.8" r="1.22"/><circle cx="51.4" cy="780.0" r="1.22"/><circle cx="58.7" cy="770.9" r="1.22"/><circle cx="177.5" cy="840.5" r="1.22"/><circle cx="135.3" cy="733.1" r="1.22"/><circle cx="90.2" cy="807.2" r="1.22"/><circle cx="114.7" cy="717.8" r="1.22"/><circle cx="124.4" cy="783.0" r="1.22"/><circle cx="156.5" cy="747.5" r="1.22"/><circle cx="75.2" cy="826.2" r="1.22"/><circle cx="76.8" cy="753.9" r="1.22"/><circle cx="157.8" cy="819.1" r="1.22"/><circle cx="118.4" cy="712.0" r="1.22"/><circle cx="108.8" cy="790.6" r="1.22"/><circle cx="98.1" cy="734.4" r="1.22"/><circle cx="142.7" cy="804.2" r="1.22"/><circle cx="174.3" cy="768.9" r="1.22"/><circle cx="55.7" cy="843.1" r="1.22"/><circle cx="46.1" cy="707.8" r="1.22"/><circle cx="181.7" cy="777.5" r="1.22"/><circle cx="149.0" cy="742.2" r="1.22"/><circle cx="85.1" cy="816.3" r="1.22"/><circle cx="101.4" cy="762.6" r="1.22"/><circle cx="128.1" cy="827.9" r="1.22"/><circle cx="170.8" cy="720.6" r="1.22"/><circle cx="70.6" cy="799.3" r="1.22"/><circle cx="67.6" cy="758.1" r="1.22"/><circle cx="167.0" cy="832.3" r="1.22"/><circle cx="127.6" cy="725.0" r="1.22"/><circle cx="99.6" cy="794.8" r="1.22"/><circle cx="88.9" cy="703.4" r="1.22"/><circle cx="152.0" cy="782.0" r="1.22"/><circle cx="183.6" cy="746.8" r="1.22"/><circle cx="46.5" cy="811.9" r="1.22"/><circle cx="55.0" cy="730.0" r="1.22"/><circle cx="172.7" cy="808.8" r="1.22"/><circle cx="140.0" cy="773.4" r="1.22"/><circle cx="94.0" cy="838.6" r="1.22"/><circle cx="110.4" cy="749.4" r="1.22"/><circle cx="119.1" cy="823.5" r="1.22"/><circle cx="161.9" cy="716.4" r="1.22"/><circle cx="79.5" cy="786.0" r="1.22"/><circle cx="71.3" cy="713.2" r="1.22"/><circle cx="153.6" cy="787.5" r="1.22"/><circle cx="122.6" cy="751.9" r="1.22"/><circle cx="114.2" cy="821.6" r="1.22"/><circle cx="93.2" cy="766.4" r="1.22"/><circle cx="139.1" cy="845.1" r="1.22"/><circle cx="177.9" cy="737.7" r="1.22"/><circle cx="60.6" cy="802.8" r="1.22"/><circle cx="49.8" cy="739.2" r="1.22"/><circle cx="186.4" cy="817.9" r="1.22"/><circle cx="144.2" cy="710.4" r="1.22"/><circle cx="81.2" cy="775.6" r="1.22"/><circle cx="105.7" cy="722.5" r="1.22"/><circle cx="133.3" cy="796.7" r="1.22"/><circle cx="165.5" cy="761.2" r="1.22"/><circle cx="66.2" cy="830.8" r="1.22"/><circle cx="66.1" cy="722.3" r="1.22"/><circle cx="165.6" cy="796.5" r="1.22"/><circle cx="133.5" cy="761.0" r="1.22"/><circle cx="105.6" cy="830.6" r="1.22"/><circle cx="81.1" cy="739.4" r="1.22"/><circle cx="144.3" cy="818.1" r="1.22"/><circle cx="186.6" cy="710.6" r="1.22"/><circle cx="49.7" cy="775.8" r="1.22"/><circle cx="60.4" cy="766.1" r="1.22"/><circle cx="178.1" cy="844.8" r="1.22"/><circle cx="139.2" cy="737.3" r="1.22"/><circle cx="93.0" cy="802.4" r="1.22"/><circle cx="114.1" cy="713.6" r="1.22"/><circle cx="122.7" cy="787.8" r="1.22"/><circle cx="153.7" cy="752.2" r="1.22"/><circle cx="71.2" cy="821.9" r="1.22"/><circle cx="79.7" cy="749.2" r="1.22"/><circle cx="161.7" cy="823.3" r="1.22"/><circle cx="119.0" cy="716.2" r="1.22"/><circle cx="110.5" cy="785.8" r="1.22"/><circle cx="94.1" cy="730.2" r="1.22"/><circle cx="139.9" cy="809.0" r="1.22"/><circle cx="172.6" cy="773.7" r="1.22"/><circle cx="55.2" cy="838.9" r="1.22"/><circle cx="46.7" cy="703.0" r="1.22"/><circle cx="183.4" cy="781.7" r="1.22"/><circle cx="151.8" cy="746.4" r="1.22"/><circle cx="89.0" cy="811.6" r="1.22"/><circle cx="99.7" cy="758.4" r="1.22"/><circle cx="127.5" cy="832.6" r="1.22"/><circle cx="166.9" cy="725.4" r="1.22"/><circle cx="67.7" cy="795.1" r="1.22"/><circle cx="70.4" cy="762.8" r="1.22"/><circle cx="171.0" cy="828.1" r="1.22"/><circle cx="128.2" cy="720.8" r="1.22"/><circle cx="101.3" cy="799.5" r="1.22"/><circle cx="84.9" cy="707.6" r="1.22"/><circle cx="149.1" cy="777.2" r="1.22"/><circle cx="181.9" cy="742.0" r="1.22"/><circle cx="45.9" cy="816.1" r="1.22"/><circle cx="55.6" cy="734.8" r="1.22"/><circle cx="174.5" cy="804.5" r="1.22"/><circle cx="142.9" cy="769.2" r="1.22"/><circle cx="98.0" cy="843.4" r="1.22"/><circle cx="108.7" cy="753.6" r="1.22"/><circle cx="118.5" cy="818.8" r="1.22"/><circle cx="157.9" cy="711.6" r="1.22"/><circle cx="76.7" cy="790.2" r="1.22"/><circle cx="75.3" cy="718.0" r="1.22"/><circle cx="156.4" cy="783.3" r="1.22"/><circle cx="124.3" cy="747.7" r="1.22"/><circle cx="114.8" cy="826.4" r="1.22"/><circle cx="90.3" cy="770.7" r="1.22"/><circle cx="135.1" cy="840.3" r="1.22"/><circle cx="177.3" cy="732.9" r="1.22"/><circle cx="58.9" cy="807.0" r="1.22"/><circle cx="51.5" cy="743.9" r="1.22"/><circle cx="187.0" cy="813.7" r="1.22"/><circle cx="148.2" cy="706.2" r="1.22"/><circle cx="84.1" cy="780.4" r="1.22"/><circle cx="105.2" cy="726.8" r="1.22"/><circle cx="131.6" cy="791.9" r="1.22"/><circle cx="162.6" cy="756.4" r="1.22"/><circle cx="62.2" cy="835.0" r="1.22"/><circle cx="64.1" cy="740.8" r="1.22"/><circle cx="163.7" cy="815.0" r="1.22"/><circle cx="131.0" cy="706.4" r="1.22"/><circle cx="103.1" cy="776.1" r="1.22"/><circle cx="83.1" cy="722.1" r="1.22"/><circle cx="146.3" cy="800.7" r="1.22"/><circle cx="189.1" cy="764.1" r="1.22"/><circle cx="52.3" cy="829.2" r="1.22"/><circle cx="58.5" cy="712.8" r="1.22"/><circle cx="176.1" cy="791.4" r="1.22"/><circle cx="136.7" cy="754.8" r="1.22"/><circle cx="90.5" cy="820.0" r="1.22"/><circle cx="116.1" cy="768.1" r="1.22"/><circle cx="124.7" cy="842.2" r="1.22"/><circle cx="156.3" cy="733.6" r="1.22"/><circle cx="73.8" cy="803.3" r="1.22"/><circle cx="77.1" cy="731.7" r="1.22"/><circle cx="159.2" cy="805.8" r="1.22"/><circle cx="116.9" cy="769.4" r="1.22"/><circle cx="108.5" cy="839.2" r="1.22"/><circle cx="96.6" cy="748.9" r="1.22"/><circle cx="142.4" cy="827.5" r="1.22"/><circle cx="174.6" cy="719.2" r="1.22"/><circle cx="57.1" cy="784.4" r="1.22"/><circle cx="44.1" cy="757.6" r="1.22"/><circle cx="180.8" cy="836.3" r="1.22"/><circle cx="149.8" cy="727.9" r="1.22"/><circle cx="87.0" cy="793.2" r="1.22"/><circle cx="102.2" cy="705.0" r="1.22"/><circle cx="130.0" cy="779.1" r="1.22"/><circle cx="168.8" cy="742.8" r="1.22"/><circle cx="69.7" cy="812.4" r="1.22"/><circle cx="67.9" cy="709.6" r="1.22"/><circle cx="168.4" cy="774.7" r="1.22"/><circle cx="126.2" cy="738.4" r="1.22"/><circle cx="99.3" cy="817.0" r="1.22"/><circle cx="87.4" cy="762.0" r="1.22"/><circle cx="151.6" cy="831.7" r="1.22"/><circle cx="183.8" cy="723.3" r="1.22"/><circle cx="47.9" cy="797.6" r="1.22"/><circle cx="53.0" cy="753.3" r="1.22"/><circle cx="171.9" cy="823.0" r="1.22"/><circle cx="140.8" cy="714.7" r="1.22"/><circle cx="95.9" cy="788.8" r="1.22"/><circle cx="111.2" cy="736.2" r="1.22"/><circle cx="121.1" cy="801.4" r="1.22"/><circle cx="159.9" cy="765.0" r="1.22"/><circle cx="78.6" cy="843.7" r="1.22"/><circle cx="73.3" cy="772.6" r="1.22"/><circle cx="154.5" cy="837.8" r="1.22"/><circle cx="121.7" cy="729.2" r="1.22"/><circle cx="112.3" cy="807.9" r="1.22"/><circle cx="92.4" cy="717.2" r="1.22"/><circle cx="137.1" cy="786.9" r="1.22"/><circle cx="179.9" cy="750.2" r="1.22"/><circle cx="61.5" cy="824.4" r="1.22"/><circle cx="49.5" cy="726.5" r="1.22"/><circle cx="185.0" cy="796.1" r="1.22"/><circle cx="145.6" cy="759.5" r="1.22"/><circle cx="81.6" cy="833.7" r="1.22"/><circle cx="107.2" cy="745.4" r="1.22"/><circle cx="133.7" cy="810.6" r="1.22"/><circle cx="165.2" cy="701.9" r="1.22"/><circle cx="64.8" cy="780.7" r="1.22"/><circle cx="65.2" cy="768.4" r="1.22"/><circle cx="164.3" cy="842.6" r="1.22"/><circle cx="134.6" cy="735.1" r="1.22"/><circle cx="106.8" cy="804.8" r="1.22"/><circle cx="82.5" cy="711.3" r="1.22"/><circle cx="145.3" cy="790.0" r="1.22"/><circle cx="185.4" cy="754.4" r="1.22"/><circle cx="48.6" cy="819.6" r="1.22"/><circle cx="61.7" cy="720.0" r="1.22"/><circle cx="179.2" cy="798.6" r="1.22"/><circle cx="137.9" cy="763.2" r="1.22"/><circle cx="92.1" cy="828.3" r="1.22"/><circle cx="113.1" cy="741.7" r="1.22"/><circle cx="121.5" cy="815.9" r="1.22"/><circle cx="154.6" cy="708.4" r="1.22"/><circle cx="72.6" cy="778.1" r="1.22"/><circle cx="78.3" cy="705.4" r="1.22"/><circle cx="160.8" cy="779.5" r="1.22"/><circle cx="120.1" cy="744.3" r="1.22"/><circle cx="111.6" cy="813.9" r="1.22"/><circle cx="95.0" cy="756.1" r="1.22"/><circle cx="141.2" cy="834.8" r="1.22"/><circle cx="171.5" cy="727.6" r="1.22"/><circle cx="53.9" cy="792.8" r="1.22"/><circle cx="47.7" cy="746.9" r="1.22"/><circle cx="184.6" cy="825.5" r="1.22"/><circle cx="150.9" cy="718.3" r="1.22"/><circle cx="87.7" cy="783.5" r="1.22"/><circle cx="98.5" cy="732.6" r="1.22"/><circle cx="126.4" cy="806.8" r="1.22"/><circle cx="168.2" cy="771.5" r="1.22"/><circle cx="68.6" cy="841.2" r="1.22"/><circle cx="69.3" cy="737.0" r="1.22"/><circle cx="169.7" cy="802.2" r="1.22"/><circle cx="129.1" cy="766.9" r="1.22"/><circle cx="102.6" cy="845.6" r="1.22"/><circle cx="86.1" cy="751.4" r="1.22"/><circle cx="150.2" cy="821.1" r="1.22"/><circle cx="180.5" cy="713.9" r="1.22"/><circle cx="45.0" cy="788.1" r="1.22"/><circle cx="56.9" cy="760.7" r="1.22"/><circle cx="175.3" cy="830.4" r="1.22"/><circle cx="141.6" cy="723.1" r="1.22"/><circle cx="96.9" cy="797.4" r="1.22"/><circle cx="107.7" cy="709.8" r="1.22"/><circle cx="117.2" cy="774.9" r="1.22"/><circle cx="159.0" cy="739.7" r="1.22"/><circle cx="77.8" cy="818.3" r="1.22"/><circle cx="74.1" cy="746.1" r="1.22"/><circle cx="155.4" cy="811.3" r="1.22"/><circle cx="125.6" cy="703.8" r="1.22"/><circle cx="115.8" cy="782.6" r="1.22"/><circle cx="91.4" cy="724.6" r="1.22"/><circle cx="136.3" cy="794.2" r="1.22"/><circle cx="176.4" cy="758.7" r="1.22"/><circle cx="57.6" cy="832.9" r="1.22"/><circle cx="52.5" cy="715.9" r="1.22"/><circle cx="188.4" cy="785.5" r="1.22"/><circle cx="147.1" cy="750.0" r="1.22"/><circle cx="82.9" cy="824.2" r="1.22"/><circle cx="103.9" cy="772.9" r="1.22"/><circle cx="130.7" cy="838.0" r="1.22"/><circle cx="163.9" cy="730.5" r="1.22"/><circle cx="63.3" cy="809.2" r="1.22"/><circle cx="63.2" cy="714.9" r="1.22"/><circle cx="162.3" cy="789.2" r="1.22"/><circle cx="132.0" cy="752.4" r="1.22"/><circle cx="104.2" cy="822.1" r="1.22"/><circle cx="84.5" cy="765.9" r="1.22"/><circle cx="147.2" cy="844.5" r="1.22"/><circle cx="187.9" cy="736.0" r="1.22"/><circle cx="51.2" cy="801.1" r="1.22"/><circle cx="59.7" cy="738.6" r="1.22"/><circle cx="177.1" cy="817.3" r="1.22"/><circle cx="135.3" cy="708.7" r="1.22"/><circle cx="89.5" cy="773.9" r="1.22"/><circle cx="115.0" cy="724.2" r="1.22"/><circle cx="123.5" cy="798.4" r="1.22"/><circle cx="157.2" cy="761.8" r="1.22"/><circle cx="75.1" cy="831.4" r="1.22"/><circle cx="75.8" cy="759.7" r="1.22"/><circle cx="158.3" cy="834.0" r="1.22"/><circle cx="118.2" cy="725.6" r="1.22"/><circle cx="109.6" cy="795.3" r="1.22"/><circle cx="97.6" cy="702.8" r="1.22"/><circle cx="143.8" cy="781.5" r="1.22"/><circle cx="173.5" cy="745.1" r="1.22"/><circle cx="55.9" cy="810.2" r="1.22"/><circle cx="45.2" cy="729.5" r="1.22"/><circle cx="182.0" cy="808.2" r="1.22"/><circle cx="148.9" cy="771.8" r="1.22"/><circle cx="85.7" cy="837.0" r="1.22"/><circle cx="101.1" cy="751.1" r="1.22"/><circle cx="129.0" cy="825.2" r="1.22"/><circle cx="170.2" cy="716.9" r="1.22"/><circle cx="70.6" cy="786.6" r="1.22"/><circle cx="66.8" cy="755.6" r="1.22"/><circle cx="167.2" cy="820.8" r="1.22"/><circle cx="127.1" cy="712.5" r="1.22"/><circle cx="100.7" cy="791.1" r="1.22"/><circle cx="88.7" cy="733.9" r="1.22"/><circle cx="152.7" cy="803.6" r="1.22"/><circle cx="182.5" cy="767.2" r="1.22"/><circle cx="47.0" cy="841.4" r="1.22"/><circle cx="54.4" cy="707.2" r="1.22"/><circle cx="172.8" cy="776.9" r="1.22"/><circle cx="139.7" cy="740.5" r="1.22"/><circle cx="94.9" cy="814.7" r="1.22"/><circle cx="110.3" cy="764.3" r="1.22"/><circle cx="119.8" cy="829.5" r="1.22"/><circle cx="161.0" cy="721.2" r="1.22"/><circle cx="79.9" cy="799.9" r="1.22"/><circle cx="72.1" cy="728.8" r="1.22"/><circle cx="153.4" cy="794.0" r="1.22"/><circle cx="123.1" cy="757.3" r="1.22"/><circle cx="113.2" cy="835.9" r="1.22"/><circle cx="93.4" cy="743.0" r="1.22"/><circle cx="138.3" cy="812.7" r="1.22"/><circle cx="179.0" cy="704.1" r="1.22"/><circle cx="60.1" cy="778.3" r="1.22"/><circle cx="50.4" cy="770.3" r="1.22"/><circle cx="186.4" cy="840.0" r="1.22"/><circle cx="144.5" cy="731.4" r="1.22"/><circle cx="80.3" cy="805.5" r="1.22"/><circle cx="105.8" cy="719.5" r="1.22"/><circle cx="132.7" cy="784.7" r="1.22"/><circle cx="166.4" cy="748.0" r="1.22"/><circle cx="65.9" cy="826.7" r="1.22"/><circle cx="65.6" cy="748.5" r="1.22"/><circle cx="166.1" cy="827.1" r="1.22"/><circle cx="133.0" cy="719.7" r="1.22"/><circle cx="106.1" cy="784.8" r="1.22"/><circle cx="80.6" cy="731.2" r="1.22"/><circle cx="144.8" cy="805.4" r="1.22"/><circle cx="186.1" cy="769.9" r="1.22"/><circle cx="50.2" cy="839.6" r="1.22"/><circle cx="59.8" cy="704.6" r="1.22"/><circle cx="178.7" cy="778.7" r="1.22"/><circle cx="138.6" cy="743.2" r="1.22"/><circle cx="93.7" cy="812.8" r="1.22"/><circle cx="113.5" cy="757.1" r="1.22"/><circle cx="123.3" cy="835.9" r="1.22"/><circle cx="153.1" cy="728.4" r="1.22"/><circle cx="71.8" cy="793.6" r="1.22"/><circle cx="80.1" cy="721.4" r="1.22"/><circle cx="161.3" cy="800.0" r="1.22"/><circle cx="119.5" cy="764.8" r="1.22"/><circle cx="110.0" cy="829.9" r="1.22"/><circle cx="94.6" cy="740.1" r="1.22"/><circle cx="139.4" cy="814.3" r="1.22"/><circle cx="173.1" cy="707.1" r="1.22"/><circle cx="54.7" cy="776.8" r="1.22"/><circle cx="47.3" cy="767.4" r="1.22"/><circle cx="182.8" cy="841.5" r="1.22"/><circle cx="152.5" cy="734.4" r="1.22"/><circle cx="88.4" cy="804.0" r="1.22"/><circle cx="100.4" cy="712.0" r="1.22"/><circle cx="126.8" cy="790.8" r="1.22"/><circle cx="167.5" cy="755.5" r="1.22"/><circle cx="67.1" cy="820.7" r="1.22"/><circle cx="70.9" cy="716.5" r="1.22"/><circle cx="170.5" cy="786.2" r="1.22"/><circle cx="128.7" cy="750.9" r="1.22"/><circle cx="100.8" cy="825.1" r="1.22"/><circle cx="85.4" cy="771.9" r="1.22"/><circle cx="148.6" cy="837.1" r="1.22"/><circle cx="182.3" cy="729.9" r="1.22"/><circle cx="45.4" cy="808.6" r="1.22"/><circle cx="56.2" cy="744.6" r="1.22"/><circle cx="173.8" cy="809.9" r="1.22"/><circle cx="143.5" cy="702.6" r="1.22"/><circle cx="97.3" cy="781.3" r="1.22"/><circle cx="109.3" cy="725.8" r="1.22"/><circle cx="117.9" cy="795.4" r="1.22"/><circle cx="158.6" cy="760.2" r="1.22"/><circle cx="76.0" cy="834.3" r="1.22"/><circle cx="74.8" cy="761.6" r="1.22"/><circle cx="156.9" cy="831.3" r="1.22"/><circle cx="123.8" cy="723.8" r="1.22"/><circle cx="115.3" cy="798.0" r="1.22"/><circle cx="89.8" cy="709.1" r="1.22"/><circle cx="135.6" cy="774.3" r="1.22"/><circle cx="176.8" cy="738.8" r="1.22"/><circle cx="59.4" cy="817.4" r="1.22"/><circle cx="50.9" cy="735.8" r="1.22"/><circle cx="187.6" cy="801.0" r="1.22"/><circle cx="147.5" cy="765.4" r="1.22"/><circle cx="84.7" cy="844.1" r="1.22"/><circle cx="104.5" cy="752.9" r="1.22"/><circle cx="132.3" cy="822.5" r="1.22"/><circle cx="162.0" cy="715.1" r="1.22"/><circle cx="62.9" cy="789.2" r="1.22"/><circle cx="63.6" cy="730.9" r="1.22"/><circle cx="164.2" cy="809.6" r="1.22"/><circle cx="130.5" cy="772.9" r="1.22"/><circle cx="103.6" cy="838.2" r="1.22"/><circle cx="82.6" cy="749.9" r="1.22"/><circle cx="146.9" cy="824.0" r="1.22"/><circle cx="188.7" cy="715.4" r="1.22"/><circle cx="52.7" cy="785.1" r="1.22"/><circle cx="57.9" cy="759.1" r="1.22"/><circle cx="176.7" cy="833.3" r="1.22"/><circle cx="136.1" cy="724.7" r="1.22"/><circle cx="91.2" cy="794.4" r="1.22"/><circle cx="115.5" cy="703.7" r="1.22"/><circle cx="125.4" cy="782.4" r="1.22"/><circle cx="155.7" cy="745.7" r="1.22"/><circle cx="74.4" cy="810.9" r="1.22"/><circle cx="77.6" cy="739.8" r="1.22"/><circle cx="158.7" cy="818.5" r="1.22"/><circle cx="117.4" cy="710.2" r="1.22"/><circle cx="108.0" cy="775.4" r="1.22"/><circle cx="97.2" cy="722.8" r="1.22"/><circle cx="141.9" cy="796.9" r="1.22"/><circle cx="175.1" cy="760.5" r="1.22"/><circle cx="56.6" cy="830.2" r="1.22"/><circle cx="44.7" cy="714.0" r="1.22"/><circle cx="180.2" cy="788.2" r="1.22"/><circle cx="150.4" cy="751.8" r="1.22"/><circle cx="86.4" cy="821.5" r="1.22"/><circle cx="102.9" cy="766.5" r="1.22"/><circle cx="129.4" cy="845.2" r="1.22"/><circle cx="169.4" cy="736.9" r="1.22"/><circle cx="69.1" cy="802.0" r="1.22"/><circle cx="68.3" cy="771.1" r="1.22"/><circle cx="167.9" cy="840.7" r="1.22"/><circle cx="126.7" cy="732.5" r="1.22"/><circle cx="98.8" cy="806.6" r="1.22"/><circle cx="87.9" cy="718.5" r="1.22"/><circle cx="151.1" cy="783.7" r="1.22"/><circle cx="184.3" cy="747.2" r="1.22"/><circle cx="47.4" cy="826.0" r="1.22"/><circle cx="53.6" cy="727.2" r="1.22"/><circle cx="171.2" cy="792.3" r="1.22"/><circle cx="141.5" cy="756.0" r="1.22"/><circle cx="95.3" cy="834.6" r="1.22"/><circle cx="111.8" cy="744.4" r="1.22"/><circle cx="120.4" cy="814.1" r="1.22"/><circle cx="160.5" cy="705.7" r="1.22"/><circle cx="78.0" cy="779.9" r="1.22"/><circle cx="72.9" cy="708.3" r="1.22"/><circle cx="154.9" cy="777.9" r="1.22"/><circle cx="121.2" cy="741.3" r="1.22"/><circle cx="112.8" cy="815.5" r="1.22"/><circle cx="91.9" cy="763.6" r="1.22"/><circle cx="137.6" cy="828.8" r="1.22"/><circle cx="179.4" cy="720.1" r="1.22"/><circle cx="62.0" cy="798.8" r="1.22"/><circle cx="48.9" cy="754.3" r="1.22"/><circle cx="185.7" cy="819.4" r="1.22"/><circle cx="145.0" cy="710.9" r="1.22"/><circle cx="82.2" cy="789.5" r="1.22"/><circle cx="106.5" cy="735.5" r="1.22"/><circle cx="134.3" cy="805.2" r="1.22"/><circle cx="164.6" cy="768.5" r="1.22"/><circle cx="65.5" cy="842.7" r="1.22"/><circle cx="64.6" cy="702.4" r="1.22"/><circle cx="164.9" cy="781.0" r="1.22"/><circle cx="133.9" cy="745.5" r="1.22"/><circle cx="107.5" cy="810.7" r="1.22"/><circle cx="81.8" cy="759.3" r="1.22"/><circle cx="145.9" cy="833.5" r="1.22"/><circle cx="184.8" cy="726.0" r="1.22"/><circle cx="49.3" cy="795.7" r="1.22"/><circle cx="61.2" cy="750.7" r="1.22"/><circle cx="179.6" cy="824.8" r="1.22"/><circle cx="137.4" cy="717.4" r="1.22"/><circle cx="92.6" cy="787.0" r="1.22"/><circle cx="112.6" cy="729.1" r="1.22"/><circle cx="122.0" cy="807.8" r="1.22"/><circle cx="154.2" cy="772.2" r="1.22"/><circle cx="73.1" cy="837.4" r="1.22"/><circle cx="78.9" cy="765.2" r="1.22"/><circle cx="160.2" cy="843.8" r="1.22"/><circle cx="120.8" cy="736.7" r="1.22"/><circle cx="110.9" cy="801.8" r="1.22"/><circle cx="95.7" cy="714.2" r="1.22"/><circle cx="140.6" cy="788.4" r="1.22"/><circle cx="172.1" cy="753.1" r="1.22"/><circle cx="53.3" cy="822.9" r="1.22"/><circle cx="48.2" cy="723.5" r="1.22"/><circle cx="184.1" cy="797.7" r="1.22"/><circle cx="151.4" cy="762.4" r="1.22"/><circle cx="87.1" cy="832.1" r="1.22"/><circle cx="99.0" cy="737.9" r="1.22"/><circle cx="125.9" cy="816.6" r="1.22"/><circle cx="168.7" cy="709.4" r="1.22"/><circle cx="68.1" cy="774.6" r="1.22"/><circle cx="70.0" cy="742.3" r="1.22"/><circle cx="169.1" cy="812.0" r="1.22"/><circle cx="129.7" cy="704.8" r="1.22"/><circle cx="102.0" cy="779.0" r="1.22"/><circle cx="86.7" cy="728.1" r="1.22"/><circle cx="149.5" cy="793.3" r="1.22"/><circle cx="181.1" cy="758.0" r="1.22"/><circle cx="44.4" cy="836.7" r="1.22"/><circle cx="57.4" cy="718.8" r="1.22"/><circle cx="174.9" cy="784.0" r="1.22"/><circle cx="142.1" cy="748.7" r="1.22"/><circle cx="96.4" cy="827.4" r="1.22"/><circle cx="108.2" cy="769.6" r="1.22"/><circle cx="116.7" cy="839.3" r="1.22"/><circle cx="159.4" cy="732.1" r="1.22"/><circle cx="77.4" cy="806.3" r="1.22"/><circle cx="73.5" cy="733.5" r="1.22"/><circle cx="156.0" cy="803.2" r="1.22"/><circle cx="125.0" cy="767.6" r="1.22"/><circle cx="116.4" cy="841.8" r="1.22"/><circle cx="90.8" cy="755.2" r="1.22"/><circle cx="137.0" cy="820.4" r="1.22"/><circle cx="175.8" cy="712.9" r="1.22"/><circle cx="58.2" cy="791.6" r="1.22"/><circle cx="52.0" cy="763.9" r="1.22"/><circle cx="188.9" cy="829.1" r="1.22"/><circle cx="146.6" cy="721.6" r="1.22"/><circle cx="83.4" cy="800.3" r="1.22"/><circle cx="103.3" cy="706.8" r="1.22"/><circle cx="131.3" cy="776.5" r="1.22"/><circle cx="163.4" cy="740.9" r="1.22"/><circle cx="63.8" cy="815.1" r="1.22"/><circle cx="62.5" cy="756.8" r="1.22"/><circle cx="162.9" cy="835.5" r="1.22"/><circle cx="131.3" cy="726.9" r="1.22"/><circle cx="104.9" cy="792.1" r="1.22"/><circle cx="83.8" cy="706.0" r="1.22"/><circle cx="147.9" cy="780.2" r="1.22"/><circle cx="187.3" cy="743.6" r="1.22"/><circle cx="51.8" cy="813.2" r="1.22"/><circle cx="59.2" cy="733.3" r="1.22"/><circle cx="177.6" cy="807.5" r="1.22"/><circle cx="134.8" cy="770.8" r="1.22"/><circle cx="90.1" cy="840.5" r="1.22"/><circle cx="114.5" cy="747.6" r="1.22"/><circle cx="124.0" cy="826.2" r="1.22"/><circle cx="156.7" cy="717.7" r="1.22"/><circle cx="75.6" cy="782.8" r="1.22"/><circle cx="76.4" cy="711.7" r="1.22"/><circle cx="157.6" cy="790.4" r="1.22"/><circle cx="118.8" cy="754.0" r="1.22"/><circle cx="108.9" cy="819.2" r="1.22"/><circle cx="98.3" cy="768.8" r="1.22"/><circle cx="143.2" cy="843.0" r="1.22"/><circle cx="174.2" cy="734.7" r="1.22"/><circle cx="55.3" cy="804.3" r="1.22"/><circle cx="45.7" cy="742.1" r="1.22"/><circle cx="181.6" cy="816.3" r="1.22"/><circle cx="149.4" cy="708.0" r="1.22"/><circle cx="85.2" cy="777.7" r="1.22"/><circle cx="101.6" cy="720.4" r="1.22"/><circle cx="128.5" cy="799.1" r="1.22"/><circle cx="170.7" cy="762.7" r="1.22"/><circle cx="70.2" cy="827.9" r="1.22"/><circle cx="67.4" cy="725.0" r="1.22"/><circle cx="166.6" cy="794.7" r="1.22"/><circle cx="127.8" cy="758.3" r="1.22"/><circle cx="100.0" cy="832.4" r="1.22"/><circle cx="89.3" cy="746.5" r="1.22"/><circle cx="152.1" cy="811.8" r="1.22"/><circle cx="183.1" cy="703.4" r="1.22"/><circle cx="46.4" cy="782.1" r="1.22"/>
</g>
<g fill="#55a868" fill-opacity="0.93">

</g>
<rect x="36.40" y="694.50" width="159.60" height="157.70" fill="none" stroke="#3a3a3a" stroke-width="1.1"/>
<line x1="42.40" y1="852.20" x2="42.40" y2="854.80" stroke="#222" stroke-width="0.9"/>
<text transform="translate(42.40 861.50) scale(0.85 1)" font-size="8.0" text-anchor="middle" fill="#1c1c1c" stroke="#1c1c1c" stroke-width="0.08">0.0</text>
<line x1="67.50" y1="852.20" x2="67.50" y2="854.80" stroke="#222" stroke-width="0.9"/>
<text transform="translate(67.50 861.50) scale(0.85 1)" font-size="8.0" text-anchor="middle" fill="#1c1c1c" stroke="#1c1c1c" stroke-width="0.08">0.2</text>
<line x1="92.60" y1="852.20" x2="92.60" y2="854.80" stroke="#222" stroke-width="0.9"/>
<text transform="translate(92.60 861.50) scale(0.85 1)" font-size="8.0" text-anchor="middle" fill="#1c1c1c" stroke="#1c1c1c" stroke-width="0.08">0.4</text>
<line x1="117.70" y1="852.20" x2="117.70" y2="854.80" stroke="#222" stroke-width="0.9"/>
<text transform="translate(117.70 861.50) scale(0.85 1)" font-size="8.0" text-anchor="middle" fill="#1c1c1c" stroke="#1c1c1c" stroke-width="0.08">0.6</text>
<line x1="142.80" y1="852.20" x2="142.80" y2="854.80" stroke="#222" stroke-width="0.9"/>
<text transform="translate(142.80 861.50) scale(0.85 1)" font-size="8.0" text-anchor="middle" fill="#1c1c1c" stroke="#1c1c1c" stroke-width="0.08">0.8</text>
<line x1="167.90" y1="852.20" x2="167.90" y2="854.80" stroke="#222" stroke-width="0.9"/>
<text transform="translate(167.90 861.50) scale(0.85 1)" font-size="8.0" text-anchor="middle" fill="#1c1c1c" stroke="#1c1c1c" stroke-width="0.08">1.0</text>
<line x1="193.00" y1="852.20" x2="193.00" y2="854.80" stroke="#222" stroke-width="0.9"/>
<text transform="translate(193.00 861.50) scale(0.85 1)" font-size="8.0" text-anchor="middle" fill="#1c1c1c" stroke="#1c1c1c" stroke-width="0.08">1.2</text>
<line x1="33.80" y1="847.10" x2="36.40" y2="847.10" stroke="#222" stroke-width="0.9"/>
<text transform="translate(33.40 849.95) scale(0.85 1)" font-size="8.0" text-anchor="end" fill="#1c1c1c" stroke="#1c1c1c" stroke-width="0.08">0</text>
<line x1="33.80" y1="823.86" x2="36.40" y2="823.86" stroke="#222" stroke-width="0.9"/>
<text transform="translate(33.40 826.71) scale(0.85 1)" font-size="8.0" text-anchor="end" fill="#1c1c1c" stroke="#1c1c1c" stroke-width="0.08">2</text>
<line x1="33.80" y1="800.62" x2="36.40" y2="800.62" stroke="#222" stroke-width="0.9"/>
<text transform="translate(33.40 803.47) scale(0.85 1)" font-size="8.0" text-anchor="end" fill="#1c1c1c" stroke="#1c1c1c" stroke-width="0.08">4</text>
<line x1="33.80" y1="777.38" x2="36.40" y2="777.38" stroke="#222" stroke-width="0.9"/>
<text transform="translate(33.40 780.23) scale(0.85 1)" font-size="8.0" text-anchor="end" fill="#1c1c1c" stroke="#1c1c1c" stroke-width="0.08">6</text>
<line x1="33.80" y1="754.14" x2="36.40" y2="754.14" stroke="#222" stroke-width="0.9"/>
<text transform="translate(33.40 756.99) scale(0.85 1)" font-size="8.0" text-anchor="end" fill="#1c1c1c" stroke="#1c1c1c" stroke-width="0.08">8</text>
<line x1="33.80" y1="730.90" x2="36.40" y2="730.90" stroke="#222" stroke-width="0.9"/>
<text transform="translate(33.40 733.75) scale(0.85 1)" font-size="8.0" text-anchor="end" fill="#1c1c1c" stroke="#1c1c1c" stroke-width="0.08">10</text>
<line x1="33.80" y1="707.66" x2="36.40" y2="707.66" stroke="#222" stroke-width="0.9"/>
<text transform="translate(33.40 710.51) scale(0.85 1)" font-size="8.0" text-anchor="end" fill="#1c1c1c" stroke="#1c1c1c" stroke-width="0.08">12</text>
<text x="116.20" y="870.20" font-size="7.0" text-anchor="middle" fill="#1c1c1c" stroke="#1c1c1c" stroke-width="0.18">A</text>
<text x="23.20" y="774.55" font-size="7.0" text-anchor="middle" fill="#1c1c1c" transform="rotate(-90 23.20 774.55)" stroke="#1c1c1c" stroke-width="0.18">B</text>
<rect x="198.6" y="697.4" width="27.8" height="18.8" rx="1.5" fill="#fff" stroke="#2a2a2a" stroke-width="0.8"/>
<circle cx="206.9" cy="702.4" r="1.2" fill="#4c72b0"/>
<circle cx="206.9" cy="710.7" r="1.2" fill="#55a868"/>
<text x="217.50" y="704.40" font-size="5.6" fill="#1c1c1c" stroke="#1c1c1c" stroke-width="0.15">01</text>
<text x="217.50" y="712.70" font-size="5.6" fill="#1c1c1c" stroke="#1c1c1c" stroke-width="0.15">10</text>
<circle cx="171.0" cy="845.5" r="1.3" fill="#55a868"/>
<g fill="#4c72b0" fill-opacity="0.93">
<circle cx="293.2" cy="761.3" r="1.22"/><circle cx="307.5" cy="711.0" r="1.22"/><circle cx="287.6" cy="737.7" r="1.22"/><circle cx="305.8" cy="716.1" r="1.22"/><circle cx="273.1" cy="746.6" r="1.22"/><circle cx="378.2" cy="703.4" r="1.22"/><circle cx="326.3" cy="725.4" r="1.22"/><circle cx="296.9" cy="721.0" r="1.22"/><circle cx="311.9" cy="742.0" r="1.22"/><circle cx="272.7" cy="777.7" r="1.22"/><circle cx="282.2" cy="769.4" r="1.22"/><circle cx="335.4" cy="711.6" r="1.22"/><circle cx="302.0" cy="748.2" r="1.22"/><circle cx="350.3" cy="718.2" r="1.22"/><circle cx="316.4" cy="733.1" r="1.22"/><circle cx="278.5" cy="706.4" r="1.22"/><circle cx="290.7" cy="706.8" r="1.22"/><circle cx="285.1" cy="755.1" r="1.22"/><circle cx="362.9" cy="712.8" r="1.22"/><circle cx="322.7" cy="719.2" r="1.22"/><circle cx="271.1" cy="728.0" r="1.22"/><circle cx="294.9" cy="738.4" r="1.22"/><circle cx="351.9" cy="709.8" r="1.22"/><circle cx="313.8" cy="723.5" r="1.22"/><circle cx="280.2" cy="714.8" r="1.22"/><circle cx="299.6" cy="729.5" r="1.22"/><circle cx="276.0" cy="760.0" r="1.22"/><circle cx="333.6" cy="702.2" r="1.22"/><circle cx="292.0" cy="735.4" r="1.22"/><circle cx="288.6" cy="763.6" r="1.22"/><circle cx="338.9" cy="708.7" r="1.22"/><circle cx="304.7" cy="744.3" r="1.22"/><circle cx="346.5" cy="705.5" r="1.22"/><circle cx="321.9" cy="727.8" r="1.22"/><circle cx="274.4" cy="718.4" r="1.22"/><circle cx="312.7" cy="713.9" r="1.22"/><circle cx="283.2" cy="723.2" r="1.22"/><circle cx="301.2" cy="704.2" r="1.22"/><circle cx="279.7" cy="750.4" r="1.22"/><circle cx="330.0" cy="731.0" r="1.22"/><circle cx="289.5" cy="753.0" r="1.22"/><circle cx="358.5" cy="715.1" r="1.22"/><circle cx="311.1" cy="736.2" r="1.22"/><circle cx="286.0" cy="708.9" r="1.22"/><circle cx="302.8" cy="725.8" r="1.22"/><circle cx="272.4" cy="771.9" r="1.22"/><circle cx="327.3" cy="717.0" r="1.22"/><circle cx="293.6" cy="712.4" r="1.22"/><circle cx="281.3" cy="740.7" r="1.22"/><circle cx="365.6" cy="707.6" r="1.22"/><circle cx="336.2" cy="721.2" r="1.22"/><circle cx="298.6" cy="757.6" r="1.22"/><circle cx="320.2" cy="704.5" r="1.22"/><circle cx="277.1" cy="731.8" r="1.22"/><circle cx="292.7" cy="719.9" r="1.22"/><circle cx="287.0" cy="743.6" r="1.22"/><circle cx="364.2" cy="704.6" r="1.22"/><circle cx="339.6" cy="728.7" r="1.22"/><circle cx="346.1" cy="721.6" r="1.22"/><circle cx="321.2" cy="707.2" r="1.22"/><circle cx="273.7" cy="734.5" r="1.22"/><circle cx="297.4" cy="751.1" r="1.22"/><circle cx="355.0" cy="716.9" r="1.22"/><circle cx="312.3" cy="729.9" r="1.22"/><circle cx="282.9" cy="702.6" r="1.22"/><circle cx="301.5" cy="724.2" r="1.22"/><circle cx="315.9" cy="739.0" r="1.22"/><circle cx="277.8" cy="765.8" r="1.22"/><circle cx="330.5" cy="715.5" r="1.22"/><circle cx="309.6" cy="715.7" r="1.22"/><circle cx="284.5" cy="725.0" r="1.22"/><circle cx="381.1" cy="703.8" r="1.22"/><circle cx="304.3" cy="710.3" r="1.22"/><circle cx="271.7" cy="751.9" r="1.22"/><circle cx="328.8" cy="737.0" r="1.22"/><circle cx="295.4" cy="732.4" r="1.22"/><circle cx="314.3" cy="747.5" r="1.22"/><circle cx="274.7" cy="784.2" r="1.22"/><circle cx="280.9" cy="756.2" r="1.22"/><circle cx="338.0" cy="705.7" r="1.22"/><circle cx="299.0" cy="741.6" r="1.22"/><circle cx="347.9" cy="708.2" r="1.22"/><circle cx="318.5" cy="720.6" r="1.22"/><circle cx="275.3" cy="711.3" r="1.22"/><circle cx="291.4" cy="745.8" r="1.22"/><circle cx="359.9" cy="702.3" r="1.22"/><circle cx="308.0" cy="726.5" r="1.22"/><circle cx="288.1" cy="717.7" r="1.22"/><circle cx="305.4" cy="736.7" r="1.22"/><circle cx="274.9" cy="762.6" r="1.22"/><circle cx="325.8" cy="709.4" r="1.22"/><circle cx="296.2" cy="704.9" r="1.22"/><circle cx="283.7" cy="748.8" r="1.22"/><circle cx="334.7" cy="732.2" r="1.22"/><circle cx="317.1" cy="713.2" r="1.22"/><circle cx="279.2" cy="721.9" r="1.22"/><circle cx="288.8" cy="727.3" r="1.22"/><circle cx="310.5" cy="743.8" r="1.22"/><circle cx="278.2" cy="780.3" r="1.22"/><circle cx="285.5" cy="771.2" r="1.22"/><circle cx="340.9" cy="718.0" r="1.22"/><circle cx="303.4" cy="754.2" r="1.22"/><circle cx="344.6" cy="712.1" r="1.22"/><circle cx="324.5" cy="734.7" r="1.22"/><circle cx="273.0" cy="708.0" r="1.22"/><circle cx="294.3" cy="758.3" r="1.22"/><circle cx="315.4" cy="703.5" r="1.22"/><circle cx="281.8" cy="730.2" r="1.22"/><circle cx="297.9" cy="713.4" r="1.22"/><circle cx="276.6" cy="739.4" r="1.22"/><circle cx="370.2" cy="710.5" r="1.22"/><circle cx="332.1" cy="722.7" r="1.22"/><circle cx="292.7" cy="722.5" r="1.22"/><circle cx="307.7" cy="739.6" r="1.22"/><circle cx="276.5" cy="776.1" r="1.22"/><circle cx="287.2" cy="766.4" r="1.22"/><circle cx="340.4" cy="713.8" r="1.22"/><circle cx="306.2" cy="749.4" r="1.22"/><circle cx="345.2" cy="716.4" r="1.22"/><circle cx="320.6" cy="730.5" r="1.22"/><circle cx="273.5" cy="703.2" r="1.22"/><circle cx="297.1" cy="763.1" r="1.22"/><circle cx="354.3" cy="721.0" r="1.22"/><circle cx="311.4" cy="707.7" r="1.22"/><circle cx="282.4" cy="735.0" r="1.22"/><circle cx="301.9" cy="718.2" r="1.22"/><circle cx="278.3" cy="744.2" r="1.22"/><circle cx="374.1" cy="706.3" r="1.22"/><circle cx="331.5" cy="727.0" r="1.22"/><circle cx="290.8" cy="741.0" r="1.22"/><circle cx="357.1" cy="706.5" r="1.22"/><circle cx="309.7" cy="722.3" r="1.22"/><circle cx="285.2" cy="712.9" r="1.22"/><circle cx="303.7" cy="731.9" r="1.22"/><circle cx="270.9" cy="757.9" r="1.22"/><circle cx="328.6" cy="705.2" r="1.22"/><circle cx="294.5" cy="709.7" r="1.22"/><circle cx="279.8" cy="753.6" r="1.22"/><circle cx="318.8" cy="717.4" r="1.22"/><circle cx="276.4" cy="726.7" r="1.22"/><circle cx="391.0" cy="702.1" r="1.22"/><circle cx="291.9" cy="768.7" r="1.22"/><circle cx="309.0" cy="711.5" r="1.22"/><circle cx="288.4" cy="720.2" r="1.22"/><circle cx="304.9" cy="705.5" r="1.22"/><circle cx="274.5" cy="747.1" r="1.22"/><circle cx="324.9" cy="732.8" r="1.22"/><circle cx="296.0" cy="737.2" r="1.22"/><circle cx="271.8" cy="788.4" r="1.22"/><circle cx="283.7" cy="761.0" r="1.22"/><circle cx="334.0" cy="710.0" r="1.22"/><circle cx="300.7" cy="746.4" r="1.22"/><circle cx="351.8" cy="704.0" r="1.22"/><circle cx="317.9" cy="724.8" r="1.22"/><circle cx="279.3" cy="716.0" r="1.22"/><circle cx="289.9" cy="715.1" r="1.22"/><circle cx="286.4" cy="738.8" r="1.22"/><circle cx="361.4" cy="708.9" r="1.22"/><circle cx="341.3" cy="724.4" r="1.22"/><circle cx="344.4" cy="725.8" r="1.22"/><circle cx="324.0" cy="703.0" r="1.22"/><circle cx="272.0" cy="729.7" r="1.22"/><circle cx="293.5" cy="755.9" r="1.22"/><circle cx="353.3" cy="712.7" r="1.22"/><circle cx="315.1" cy="734.1" r="1.22"/><circle cx="281.2" cy="707.4" r="1.22"/><circle cx="298.7" cy="729.0" r="1.22"/><circle cx="319.8" cy="743.3" r="1.22"/><circle cx="277.3" cy="770.6" r="1.22"/><circle cx="332.1" cy="719.7" r="1.22"/><circle cx="292.3" cy="748.7" r="1.22"/><circle cx="307.2" cy="731.4" r="1.22"/><circle cx="286.6" cy="704.7" r="1.22"/><circle cx="306.7" cy="721.6" r="1.22"/><circle cx="321.1" cy="740.3" r="1.22"/><circle cx="281.5" cy="777.1" r="1.22"/><circle cx="274.1" cy="767.7" r="1.22"/><circle cx="326.8" cy="712.2" r="1.22"/><circle cx="297.6" cy="716.7" r="1.22"/><circle cx="283.0" cy="744.9" r="1.22"/><circle cx="369.5" cy="702.8" r="1.22"/><circle cx="335.6" cy="726.0" r="1.22"/><circle cx="349.9" cy="724.0" r="1.22"/><circle cx="316.3" cy="709.3" r="1.22"/><circle cx="277.7" cy="736.0" r="1.22"/><circle cx="290.3" cy="731.2" r="1.22"/><circle cx="309.2" cy="750.2" r="1.22"/><circle cx="284.6" cy="759.4" r="1.22"/><circle cx="341.7" cy="703.9" r="1.22"/><circle cx="304.1" cy="740.0" r="1.22"/><circle cx="343.7" cy="710.3" r="1.22"/><circle cx="323.6" cy="723.0" r="1.22"/><circle cx="271.6" cy="714.2" r="1.22"/><circle cx="314.4" cy="718.7" r="1.22"/><circle cx="280.4" cy="727.4" r="1.22"/><circle cx="299.5" cy="708.5" r="1.22"/><circle cx="275.8" cy="754.6" r="1.22"/><circle cx="371.0" cy="711.1" r="1.22"/><circle cx="291.3" cy="702.6" r="1.22"/><circle cx="287.9" cy="750.9" r="1.22"/><circle cx="338.8" cy="729.3" r="1.22"/><circle cx="322.1" cy="714.4" r="1.22"/><circle cx="275.0" cy="723.7" r="1.22"/><circle cx="325.4" cy="738.2" r="1.22"/><circle cx="296.6" cy="742.6" r="1.22"/><circle cx="355.9" cy="705.0" r="1.22"/><circle cx="313.2" cy="728.3" r="1.22"/><circle cx="284.2" cy="719.0" r="1.22"/><circle cx="300.1" cy="733.7" r="1.22"/><circle cx="278.8" cy="764.2" r="1.22"/><circle cx="329.7" cy="707.0" r="1.22"/><circle cx="289.2" cy="757.1" r="1.22"/><circle cx="310.3" cy="706.2" r="1.22"/><circle cx="285.9" cy="733.5" r="1.22"/><circle cx="303.0" cy="711.9" r="1.22"/><circle cx="272.5" cy="742.4" r="1.22"/><circle cx="375.4" cy="708.2" r="1.22"/><circle cx="328.0" cy="720.6" r="1.22"/><circle cx="294.1" cy="725.2" r="1.22"/><circle cx="315.8" cy="746.8" r="1.22"/><circle cx="273.2" cy="782.5" r="1.22"/>
</g>
<g fill="#55a868" fill-opacity="0.93">
<circle cx="391.5" cy="831.2" r="1.22"/><circle cx="359.1" cy="722.3" r="1.22"/><circle cx="331.8" cy="796.7" r="1.22"/><circle cx="369.9" cy="776.3" r="1.22"/><circle cx="412.3" cy="739.6" r="1.22"/><circle cx="276.9" cy="818.4" r="1.22"/><circle cx="403.9" cy="803.1" r="1.22"/><circle cx="364.8" cy="766.3" r="1.22"/><circle cx="319.4" cy="845.2" r="1.22"/><circle cx="340.2" cy="752.6" r="1.22"/><circle cx="348.5" cy="822.4" r="1.22"/><circle cx="379.8" cy="713.6" r="1.22"/><circle cx="298.2" cy="787.9" r="1.22"/><circle cx="387.5" cy="786.0" r="1.22"/><circle cx="345.6" cy="749.5" r="1.22"/><circle cx="336.9" cy="823.8" r="1.22"/><circle cx="320.7" cy="773.9" r="1.22"/><circle cx="366.3" cy="839.2" r="1.22"/><circle cx="398.2" cy="730.7" r="1.22"/><circle cx="281.5" cy="809.5" r="1.22"/><circle cx="408.9" cy="812.0" r="1.22"/><circle cx="315.6" cy="782.2" r="1.22"/><circle cx="354.0" cy="795.2" r="1.22"/><circle cx="392.5" cy="758.8" r="1.22"/><circle cx="294.0" cy="833.1" r="1.22"/><circle cx="396.3" cy="799.8" r="1.22"/><circle cx="354.5" cy="763.4" r="1.22"/><circle cx="328.1" cy="828.7" r="1.22"/><circle cx="375.2" cy="816.4" r="1.22"/><circle cx="407.1" cy="707.8" r="1.22"/><circle cx="399.8" cy="843.7" r="1.22"/><circle cx="369.0" cy="735.2" r="1.22"/><circle cx="324.8" cy="804.9" r="1.22"/><circle cx="344.9" cy="790.6" r="1.22"/><circle cx="383.4" cy="754.1" r="1.22"/><circle cx="303.1" cy="819.4" r="1.22"/><circle cx="382.7" cy="827.0" r="1.22"/><circle cx="340.6" cy="783.5" r="1.22"/><circle cx="361.0" cy="807.5" r="1.22"/><circle cx="403.5" cy="770.7" r="1.22"/><circle cx="285.8" cy="840.6" r="1.22"/><circle cx="413.0" cy="780.8" r="1.22"/><circle cx="374.0" cy="744.0" r="1.22"/><circle cx="310.2" cy="813.8" r="1.22"/><circle cx="331.1" cy="756.9" r="1.22"/><circle cx="357.6" cy="835.8" r="1.22"/><circle cx="388.9" cy="726.9" r="1.22"/><circle cx="289.1" cy="792.2" r="1.22"/><circle cx="389.1" cy="776.6" r="1.22"/><circle cx="357.2" cy="741.0" r="1.22"/><circle cx="329.9" cy="815.3" r="1.22"/><circle cx="310.1" cy="764.4" r="1.22"/><circle cx="372.5" cy="829.8" r="1.22"/><circle cx="414.3" cy="722.0" r="1.22"/><circle cx="278.9" cy="800.9" r="1.22"/><circle cx="401.4" cy="820.4" r="1.22"/><circle cx="317.4" cy="791.6" r="1.22"/><circle cx="342.8" cy="734.1" r="1.22"/><circle cx="351.0" cy="803.9" r="1.22"/><circle cx="381.8" cy="768.3" r="1.22"/><circle cx="300.2" cy="842.7" r="1.22"/><circle cx="303.8" cy="769.7" r="1.22"/><circle cx="385.5" cy="839.5" r="1.22"/><circle cx="343.1" cy="732.1" r="1.22"/><circle cx="334.4" cy="806.4" r="1.22"/><circle cx="368.3" cy="784.6" r="1.22"/><circle cx="400.7" cy="749.2" r="1.22"/><circle cx="284.0" cy="828.1" r="1.22"/><circle cx="406.9" cy="793.3" r="1.22"/><circle cx="375.6" cy="758.0" r="1.22"/><circle cx="313.1" cy="836.8" r="1.22"/><circle cx="328.2" cy="742.9" r="1.22"/><circle cx="356.0" cy="812.8" r="1.22"/><circle cx="395.0" cy="705.3" r="1.22"/><circle cx="296.5" cy="779.7" r="1.22"/><circle cx="394.3" cy="817.2" r="1.22"/><circle cx="325.5" cy="775.2" r="1.22"/><circle cx="377.1" cy="797.8" r="1.22"/><circle cx="409.6" cy="762.5" r="1.22"/><circle cx="275.2" cy="832.3" r="1.22"/><circle cx="397.8" cy="789.1" r="1.22"/><circle cx="366.5" cy="753.8" r="1.22"/><circle cx="322.2" cy="823.7" r="1.22"/><circle cx="337.3" cy="765.2" r="1.22"/><circle cx="346.8" cy="844.0" r="1.22"/><circle cx="385.9" cy="736.5" r="1.22"/><circle cx="305.6" cy="801.9" r="1.22"/><circle cx="380.2" cy="808.4" r="1.22"/><circle cx="348.3" cy="772.7" r="1.22"/><circle cx="338.7" cy="838.1" r="1.22"/><circle cx="318.9" cy="750.7" r="1.22"/><circle cx="363.6" cy="825.0" r="1.22"/><circle cx="405.5" cy="717.3" r="1.22"/><circle cx="287.8" cy="787.1" r="1.22"/><circle cx="410.5" cy="834.3" r="1.22"/><circle cx="372.0" cy="726.6" r="1.22"/><circle cx="308.3" cy="796.5" r="1.22"/><circle cx="360.2" cy="781.0" r="1.22"/><circle cx="390.9" cy="745.4" r="1.22"/><circle cx="291.1" cy="810.7" r="1.22"/><circle cx="390.5" cy="805.3" r="1.22"/><circle cx="360.5" cy="768.5" r="1.22"/><circle cx="332.7" cy="842.9" r="1.22"/><circle cx="308.6" cy="754.9" r="1.22"/><circle cx="371.1" cy="820.2" r="1.22"/><circle cx="411.4" cy="711.4" r="1.22"/><circle cx="275.6" cy="790.2" r="1.22"/><circle cx="405.2" cy="829.0" r="1.22"/><circle cx="363.8" cy="720.1" r="1.22"/><circle cx="318.2" cy="799.0" r="1.22"/><circle cx="347.6" cy="778.5" r="1.22"/><circle cx="381.0" cy="741.7" r="1.22"/><circle cx="299.3" cy="816.1" r="1.22"/><circle cx="386.2" cy="814.1" r="1.22"/><circle cx="338.2" cy="779.9" r="1.22"/><circle cx="367.4" cy="793.1" r="1.22"/><circle cx="396.8" cy="756.6" r="1.22"/><circle cx="280.6" cy="835.4" r="1.22"/><circle cx="409.8" cy="783.8" r="1.22"/><circle cx="376.9" cy="747.3" r="1.22"/><circle cx="314.5" cy="826.2" r="1.22"/><circle cx="325.3" cy="771.6" r="1.22"/><circle cx="352.7" cy="841.4" r="1.22"/><circle cx="393.5" cy="732.9" r="1.22"/><circle cx="295.2" cy="807.2" r="1.22"/><circle cx="295.6" cy="767.2" r="1.22"/><circle cx="395.4" cy="846.0" r="1.22"/><circle cx="355.6" cy="737.5" r="1.22"/><circle cx="329.1" cy="802.8" r="1.22"/><circle cx="376.5" cy="788.2" r="1.22"/><circle cx="406.0" cy="751.7" r="1.22"/><circle cx="271.4" cy="821.6" r="1.22"/><circle cx="400.9" cy="797.5" r="1.22"/><circle cx="368.1" cy="761.1" r="1.22"/><circle cx="323.4" cy="830.9" r="1.22"/><circle cx="334.2" cy="739.8" r="1.22"/><circle cx="343.8" cy="818.7" r="1.22"/><circle cx="384.7" cy="710.1" r="1.22"/><circle cx="304.0" cy="775.5" r="1.22"/><circle cx="381.4" cy="783.0" r="1.22"/><circle cx="351.4" cy="746.3" r="1.22"/><circle cx="341.9" cy="811.7" r="1.22"/><circle cx="317.7" cy="759.1" r="1.22"/><circle cx="362.0" cy="833.4" r="1.22"/><circle cx="402.3" cy="724.5" r="1.22"/><circle cx="284.8" cy="794.4" r="1.22"/><circle cx="414.1" cy="824.7" r="1.22"/><circle cx="372.7" cy="715.9" r="1.22"/><circle cx="309.3" cy="785.7" r="1.22"/><circle cx="356.4" cy="809.8" r="1.22"/><circle cx="389.8" cy="773.0" r="1.22"/><circle cx="290.5" cy="838.4" r="1.22"/><circle cx="388.0" cy="822.8" r="1.22"/><circle cx="330.7" cy="789.4" r="1.22"/><circle cx="373.6" cy="801.6" r="1.22"/><circle cx="413.4" cy="766.0" r="1.22"/><circle cx="277.5" cy="844.8" r="1.22"/><circle cx="402.7" cy="774.3" r="1.22"/><circle cx="361.8" cy="738.7" r="1.22"/><circle cx="316.2" cy="817.5" r="1.22"/><circle cx="341.4" cy="762.2" r="1.22"/><circle cx="350.1" cy="832.1" r="1.22"/><circle cx="382.9" cy="724.4" r="1.22"/><circle cx="301.3" cy="798.7" r="1.22"/><circle cx="384.3" cy="795.6" r="1.22"/><circle cx="344.0" cy="760.3" r="1.22"/><circle cx="335.7" cy="834.6" r="1.22"/><circle cx="323.9" cy="745.1" r="1.22"/><circle cx="369.4" cy="810.5" r="1.22"/><circle cx="399.4" cy="703.0" r="1.22"/><circle cx="283.2" cy="781.9" r="1.22"/><circle cx="407.9" cy="837.2" r="1.22"/><circle cx="374.4" cy="729.8" r="1.22"/><circle cx="312.0" cy="808.6" r="1.22"/><circle cx="354.7" cy="786.9" r="1.22"/><circle cx="396.1" cy="751.5" r="1.22"/><circle cx="297.7" cy="825.9" r="1.22"/><circle cx="393.4" cy="791.3" r="1.22"/><circle cx="353.1" cy="756.0" r="1.22"/><circle cx="326.6" cy="821.3" r="1.22"/><circle cx="314.7" cy="767.5" r="1.22"/><circle cx="378.5" cy="841.8" r="1.22"/><circle cx="408.5" cy="734.4" r="1.22"/><circle cx="274.0" cy="804.2" r="1.22"/><circle cx="399.0" cy="815.1" r="1.22"/><circle cx="320.9" cy="777.4" r="1.22"/><circle cx="345.8" cy="800.0" r="1.22"/><circle cx="387.2" cy="764.7" r="1.22"/><circle cx="306.6" cy="830.0" r="1.22"/><circle cx="378.8" cy="836.5" r="1.22"/><circle cx="349.4" cy="728.8" r="1.22"/><circle cx="339.9" cy="794.1" r="1.22"/><circle cx="364.5" cy="778.8" r="1.22"/><circle cx="404.2" cy="743.3" r="1.22"/><circle cx="286.7" cy="813.0" r="1.22"/><circle cx="411.5" cy="806.2" r="1.22"/><circle cx="370.7" cy="770.5" r="1.22"/><circle cx="307.3" cy="840.4" r="1.22"/><circle cx="332.5" cy="748.4" r="1.22"/><circle cx="358.9" cy="827.2" r="1.22"/><circle cx="391.8" cy="719.5" r="1.22"/><circle cx="292.4" cy="784.8" r="1.22"/><circle cx="392.1" cy="785.3" r="1.22"/><circle cx="358.7" cy="748.5" r="1.22"/><circle cx="332.3" cy="827.4" r="1.22"/><circle cx="307.0" cy="770.4" r="1.22"/><circle cx="370.4" cy="840.2" r="1.22"/><circle cx="411.8" cy="731.4" r="1.22"/><circle cx="277.4" cy="805.7" r="1.22"/><circle cx="404.5" cy="813.5" r="1.22"/><circle cx="320.0" cy="779.0" r="1.22"/><circle cx="349.1" cy="794.0" r="1.22"/><circle cx="379.1" cy="757.3" r="1.22"/><circle cx="298.9" cy="836.1" r="1.22"/><circle cx="306.3" cy="764.8" r="1.22"/><circle cx="386.9" cy="830.2" r="1.22"/><circle cx="336.5" cy="800.5" r="1.22"/><circle cx="365.9" cy="777.0" r="1.22"/><circle cx="398.7" cy="740.6" r="1.22"/><circle cx="281.0" cy="814.9" r="1.22"/><circle cx="408.3" cy="804.4" r="1.22"/><circle cx="378.8" cy="767.9" r="1.22"/><circle cx="315.0" cy="842.2" r="1.22"/><circle cx="326.9" cy="755.5" r="1.22"/><circle cx="353.4" cy="820.9" r="1.22"/><circle cx="393.2" cy="712.3" r="1.22"/><circle cx="293.3" cy="791.2" r="1.22"/><circle cx="395.8" cy="825.5" r="1.22"/><circle cx="327.6" cy="786.7" r="1.22"/><circle cx="374.7" cy="808.8" r="1.22"/><circle cx="407.6" cy="772.3" r="1.22"/><circle cx="272.2" cy="837.7" r="1.22"/><circle cx="399.1" cy="781.4" r="1.22"/><circle cx="369.6" cy="745.0" r="1.22"/><circle cx="324.2" cy="810.3" r="1.22"/><circle cx="336.0" cy="760.4" r="1.22"/><circle cx="344.3" cy="834.8" r="1.22"/><circle cx="384.0" cy="726.2" r="1.22"/><circle cx="302.5" cy="796.0" r="1.22"/><circle cx="383.2" cy="798.6" r="1.22"/><circle cx="349.8" cy="761.8" r="1.22"/><circle cx="341.1" cy="831.6" r="1.22"/><circle cx="361.5" cy="817.9" r="1.22"/><circle cx="403.0" cy="709.1" r="1.22"/><circle cx="286.3" cy="774.4" r="1.22"/><circle cx="413.7" cy="844.7" r="1.22"/><circle cx="373.4" cy="735.9" r="1.22"/><circle cx="310.8" cy="801.1" r="1.22"/><circle cx="358.2" cy="789.9" r="1.22"/><circle cx="388.2" cy="753.1" r="1.22"/><circle cx="289.7" cy="822.9" r="1.22"/><circle cx="290.2" cy="773.5" r="1.22"/><circle cx="389.6" cy="838.8" r="1.22"/><circle cx="356.7" cy="731.1" r="1.22"/><circle cx="330.3" cy="810.0" r="1.22"/><circle cx="373.0" cy="785.6" r="1.22"/><circle cx="413.8" cy="749.9" r="1.22"/><circle cx="279.4" cy="824.3" r="1.22"/><circle cx="402.0" cy="794.8" r="1.22"/><circle cx="362.3" cy="759.2" r="1.22"/><circle cx="318.0" cy="833.6" r="1.22"/><circle cx="342.2" cy="746.2" r="1.22"/><circle cx="351.6" cy="811.5" r="1.22"/><circle cx="300.9" cy="782.7" r="1.22"/><circle cx="384.9" cy="775.6" r="1.22"/><circle cx="343.5" cy="740.3" r="1.22"/><circle cx="333.9" cy="819.1" r="1.22"/><circle cx="323.1" cy="760.6" r="1.22"/><circle cx="367.8" cy="830.5" r="1.22"/><circle cx="401.2" cy="723.0" r="1.22"/><circle cx="283.5" cy="797.4" r="1.22"/><circle cx="406.3" cy="821.7" r="1.22"/><circle cx="376.2" cy="714.3" r="1.22"/><circle cx="312.5" cy="788.6" r="1.22"/><circle cx="355.4" cy="802.4" r="1.22"/><circle cx="395.6" cy="767.0" r="1.22"/><circle cx="295.8" cy="845.9" r="1.22"/><circle cx="393.8" cy="806.8" r="1.22"/><circle cx="352.4" cy="771.4" r="1.22"/><circle cx="325.0" cy="841.3" r="1.22"/><circle cx="376.7" cy="826.3" r="1.22"/><circle cx="410.1" cy="718.9" r="1.22"/><circle cx="397.1" cy="835.0" r="1.22"/><circle cx="367.1" cy="727.6" r="1.22"/><circle cx="321.6" cy="793.0" r="1.22"/><circle cx="346.2" cy="780.0" r="1.22"/><circle cx="386.5" cy="744.7" r="1.22"/><circle cx="305.0" cy="814.5" r="1.22"/><circle cx="380.7" cy="816.0" r="1.22"/><circle cx="339.2" cy="778.1" r="1.22"/><circle cx="364.1" cy="799.4" r="1.22"/><circle cx="405.0" cy="763.8" r="1.22"/><circle cx="288.3" cy="829.1" r="1.22"/><circle cx="411.2" cy="790.1" r="1.22"/><circle cx="371.4" cy="754.5" r="1.22"/><circle cx="308.9" cy="819.9" r="1.22"/><circle cx="333.0" cy="769.0" r="1.22"/><circle cx="360.8" cy="843.3" r="1.22"/><circle cx="390.2" cy="735.6" r="1.22"/><circle cx="291.7" cy="805.4" r="1.22"/><circle cx="391.2" cy="811.2" r="1.22"/><circle cx="333.4" cy="781.2" r="1.22"/><circle cx="371.8" cy="796.3" r="1.22"/><circle cx="410.8" cy="759.6" r="1.22"/><circle cx="276.3" cy="833.9" r="1.22"/><circle cx="405.7" cy="787.6" r="1.22"/><circle cx="363.3" cy="750.8" r="1.22"/><circle cx="318.7" cy="825.2" r="1.22"/><circle cx="338.4" cy="772.6" r="1.22"/><circle cx="348.1" cy="837.9" r="1.22"/><circle cx="380.5" cy="729.1" r="1.22"/><circle cx="299.8" cy="807.9" r="1.22"/><circle cx="385.6" cy="802.0" r="1.22"/><circle cx="347.1" cy="765.5" r="1.22"/><circle cx="337.6" cy="844.4" r="1.22"/><circle cx="322.5" cy="753.4" r="1.22"/><circle cx="366.7" cy="823.2" r="1.22"/><circle cx="397.5" cy="714.6" r="1.22"/><circle cx="279.9" cy="789.0" r="1.22"/><circle cx="409.3" cy="832.5" r="1.22"/><circle cx="377.4" cy="723.9" r="1.22"/><circle cx="314.1" cy="798.3" r="1.22"/><circle cx="352.2" cy="774.7" r="1.22"/><circle cx="394.0" cy="738.2" r="1.22"/><circle cx="294.6" cy="817.1" r="1.22"/><circle cx="394.7" cy="779.2" r="1.22"/><circle cx="356.3" cy="742.8" r="1.22"/><circle cx="328.5" cy="812.6" r="1.22"/><circle cx="313.3" cy="758.1" r="1.22"/><circle cx="375.9" cy="837.0" r="1.22"/><circle cx="406.6" cy="728.3" r="1.22"/><circle cx="270.8" cy="793.7" r="1.22"/><circle cx="400.4" cy="827.6" r="1.22"/><circle cx="368.6" cy="719.1" r="1.22"/><circle cx="322.9" cy="784.4" r="1.22"/><circle cx="343.3" cy="806.6" r="1.22"/><circle cx="385.2" cy="770.1" r="1.22"/><circle cx="303.5" cy="840.0" r="1.22"/><circle cx="300.5" cy="768.2" r="1.22"/><circle cx="382.0" cy="842.5" r="1.22"/><circle cx="350.8" cy="733.7" r="1.22"/><circle cx="342.5" cy="803.5" r="1.22"/><circle cx="362.6" cy="792.0" r="1.22"/><circle cx="401.7" cy="755.2" r="1.22"/><circle cx="285.4" cy="820.6" r="1.22"/><circle cx="414.6" cy="800.7" r="1.22"/><circle cx="372.2" cy="764.0" r="1.22"/><circle cx="309.8" cy="829.3" r="1.22"/><circle cx="329.6" cy="741.4" r="1.22"/><circle cx="356.9" cy="815.8" r="1.22"/><circle cx="389.3" cy="706.9" r="1.22"/><circle cx="291.0" cy="776.8" r="1.22"/><circle cx="388.6" cy="792.6" r="1.22"/><circle cx="357.9" cy="757.1" r="1.22"/><circle cx="331.3" cy="835.8" r="1.22"/><circle cx="374.3" cy="813.7" r="1.22"/><circle cx="412.7" cy="706.0" r="1.22"/><circle cx="403.2" cy="841.0" r="1.22"/><circle cx="361.3" cy="733.3" r="1.22"/><circle cx="316.7" cy="807.6" r="1.22"/><circle cx="350.6" cy="783.4" r="1.22"/><circle cx="382.4" cy="747.7" r="1.22"/><circle cx="301.8" cy="826.6" r="1.22"/><circle cx="383.6" cy="819.5" r="1.22"/><circle cx="335.1" cy="790.9" r="1.22"/><circle cx="368.7" cy="804.6" r="1.22"/><circle cx="400.1" cy="769.2" r="1.22"/><circle cx="282.5" cy="843.6" r="1.22"/><circle cx="407.4" cy="777.8" r="1.22"/><circle cx="374.9" cy="742.5" r="1.22"/><circle cx="311.6" cy="816.8" r="1.22"/><circle cx="327.8" cy="762.9" r="1.22"/><circle cx="354.2" cy="828.3" r="1.22"/><circle cx="396.6" cy="720.8" r="1.22"/><circle cx="297.2" cy="799.7" r="1.22"/><circle cx="392.8" cy="832.7" r="1.22"/><circle cx="353.8" cy="725.3" r="1.22"/><circle cx="326.0" cy="795.1" r="1.22"/><circle cx="377.9" cy="782.4" r="1.22"/><circle cx="409.2" cy="747.1" r="1.22"/><circle cx="273.4" cy="812.3" r="1.22"/><circle cx="398.5" cy="809.2" r="1.22"/><circle cx="366.1" cy="773.8" r="1.22"/><circle cx="320.4" cy="839.1" r="1.22"/><circle cx="336.7" cy="749.6" r="1.22"/><circle cx="345.3" cy="824.0" r="1.22"/><circle cx="387.7" cy="716.6" r="1.22"/><circle cx="306.1" cy="786.4" r="1.22"/><circle cx="379.5" cy="787.8" r="1.22"/><circle cx="348.7" cy="752.2" r="1.22"/><circle cx="340.5" cy="822.0" r="1.22"/><circle cx="319.6" cy="766.7" r="1.22"/><circle cx="365.1" cy="845.6" r="1.22"/><circle cx="403.6" cy="737.9" r="1.22"/><circle cx="287.3" cy="803.2" r="1.22"/><circle cx="412.0" cy="818.3" r="1.22"/><circle cx="307.8" cy="775.9" r="1.22"/><circle cx="359.4" cy="797.1" r="1.22"/><circle cx="391.3" cy="761.5" r="1.22"/><circle cx="292.9" cy="831.3" r="1.22"/><circle cx="391.4" cy="796.9" r="1.22"/><circle cx="359.6" cy="761.3" r="1.22"/><circle cx="331.9" cy="831.1" r="1.22"/><circle cx="370.3" cy="818.5" r="1.22"/><circle cx="412.2" cy="710.8" r="1.22"/><circle cx="403.7" cy="845.2" r="1.22"/><circle cx="365.3" cy="737.5" r="1.22"/><circle cx="319.5" cy="802.8" r="1.22"/><circle cx="348.9" cy="788.2" r="1.22"/><circle cx="379.6" cy="752.5" r="1.22"/><circle cx="297.8" cy="822.4" r="1.22"/><circle cx="387.6" cy="823.8" r="1.22"/><circle cx="336.8" cy="786.1" r="1.22"/><circle cx="365.9" cy="809.4" r="1.22"/><circle cx="398.4" cy="774.0" r="1.22"/><circle cx="281.9" cy="839.3" r="1.22"/><circle cx="409.0" cy="782.0" r="1.22"/><circle cx="377.7" cy="746.7" r="1.22"/><circle cx="315.5" cy="812.0" r="1.22"/><circle cx="326.1" cy="758.7" r="1.22"/><circle cx="353.6" cy="833.1" r="1.22"/><circle cx="392.7" cy="725.6" r="1.22"/><circle cx="294.4" cy="795.5" r="1.22"/><circle cx="396.7" cy="828.5" r="1.22"/><circle cx="327.7" cy="799.9" r="1.22"/><circle cx="375.1" cy="777.6" r="1.22"/><circle cx="407.5" cy="742.3" r="1.22"/><circle cx="272.8" cy="816.6" r="1.22"/><circle cx="400.2" cy="804.9" r="1.22"/><circle cx="368.9" cy="769.5" r="1.22"/><circle cx="324.4" cy="843.9" r="1.22"/><circle cx="335.0" cy="753.9" r="1.22"/><circle cx="344.8" cy="819.2" r="1.22"/><circle cx="383.8" cy="711.8" r="1.22"/><circle cx="303.3" cy="790.6" r="1.22"/><circle cx="382.3" cy="783.6" r="1.22"/><circle cx="350.4" cy="747.9" r="1.22"/><circle cx="341.1" cy="826.8" r="1.22"/><circle cx="316.8" cy="771.0" r="1.22"/><circle cx="361.2" cy="840.8" r="1.22"/><circle cx="403.0" cy="733.1" r="1.22"/><circle cx="285.7" cy="807.4" r="1.22"/><circle cx="412.6" cy="814.1" r="1.22"/><circle cx="310.6" cy="780.7" r="1.22"/><circle cx="357.7" cy="792.3" r="1.22"/><circle cx="388.5" cy="756.7" r="1.22"/><circle cx="289.0" cy="835.5" r="1.22"/><circle cx="389.5" cy="815.4" r="1.22"/><circle cx="329.4" cy="776.4" r="1.22"/><circle cx="372.3" cy="801.1" r="1.22"/><circle cx="414.7" cy="764.4" r="1.22"/><circle cx="279.1" cy="829.7" r="1.22"/><circle cx="401.8" cy="791.8" r="1.22"/><circle cx="362.8" cy="755.0" r="1.22"/><circle cx="317.0" cy="820.4" r="1.22"/><circle cx="342.4" cy="768.4" r="1.22"/><circle cx="350.9" cy="842.7" r="1.22"/><circle cx="382.2" cy="733.9" r="1.22"/><circle cx="300.4" cy="803.7" r="1.22"/><circle cx="385.0" cy="806.2" r="1.22"/><circle cx="343.2" cy="769.8" r="1.22"/><circle cx="334.8" cy="839.6" r="1.22"/><circle cx="323.1" cy="749.2" r="1.22"/><circle cx="368.4" cy="828.0" r="1.22"/><circle cx="400.3" cy="719.4" r="1.22"/><circle cx="283.9" cy="784.8" r="1.22"/><circle cx="406.5" cy="836.7" r="1.22"/><circle cx="375.7" cy="728.1" r="1.22"/><circle cx="313.5" cy="793.5" r="1.22"/><circle cx="356.1" cy="779.5" r="1.22"/><circle cx="394.6" cy="743.0" r="1.22"/><circle cx="296.3" cy="812.8" r="1.22"/><circle cx="394.2" cy="775.0" r="1.22"/><circle cx="352.3" cy="738.6" r="1.22"/><circle cx="325.7" cy="817.4" r="1.22"/><circle cx="313.9" cy="762.3" r="1.22"/><circle cx="377.6" cy="832.2" r="1.22"/><circle cx="409.4" cy="723.5" r="1.22"/><circle cx="274.7" cy="798.0" r="1.22"/><circle cx="397.6" cy="823.4" r="1.22"/><circle cx="366.9" cy="714.9" r="1.22"/><circle cx="322.4" cy="789.2" r="1.22"/><circle cx="337.5" cy="736.5" r="1.22"/><circle cx="347.3" cy="801.8" r="1.22"/><circle cx="385.7" cy="765.3" r="1.22"/><circle cx="305.2" cy="844.2" r="1.22"/><circle cx="300.0" cy="773.0" r="1.22"/><circle cx="380.4" cy="838.2" r="1.22"/><circle cx="347.9" cy="729.4" r="1.22"/><circle cx="338.6" cy="808.3" r="1.22"/><circle cx="363.2" cy="787.2" r="1.22"/><circle cx="405.6" cy="750.4" r="1.22"/><circle cx="288.2" cy="824.8" r="1.22"/><circle cx="410.7" cy="796.5" r="1.22"/><circle cx="371.6" cy="759.8" r="1.22"/><circle cx="308.1" cy="834.1" r="1.22"/><circle cx="333.5" cy="745.6" r="1.22"/><circle cx="359.7" cy="811.0" r="1.22"/><circle cx="291.5" cy="781.0" r="1.22"/><circle cx="390.1" cy="843.0" r="1.22"/><circle cx="360.7" cy="735.4" r="1.22"/><circle cx="333.1" cy="805.2" r="1.22"/><circle cx="371.3" cy="790.3" r="1.22"/><circle cx="411.0" cy="754.7" r="1.22"/><circle cx="275.5" cy="820.1" r="1.22"/><circle cx="404.8" cy="799.0" r="1.22"/><circle cx="364.0" cy="763.4" r="1.22"/><circle cx="318.6" cy="828.8" r="1.22"/><circle cx="339.3" cy="742.0" r="1.22"/><circle cx="347.7" cy="816.3" r="1.22"/><circle cx="380.5" cy="708.6" r="1.22"/><circle cx="299.2" cy="778.5" r="1.22"/><circle cx="386.6" cy="779.8" r="1.22"/><circle cx="346.3" cy="744.5" r="1.22"/><circle cx="337.8" cy="814.3" r="1.22"/><circle cx="321.4" cy="756.4" r="1.22"/><circle cx="367.2" cy="835.3" r="1.22"/><circle cx="397.3" cy="727.8" r="1.22"/><circle cx="280.7" cy="793.2" r="1.22"/><circle cx="410.2" cy="825.9" r="1.22"/><circle cx="376.8" cy="718.5" r="1.22"/><circle cx="314.1" cy="783.8" r="1.22"/><circle cx="352.5" cy="807.2" r="1.22"/><circle cx="394.0" cy="771.8" r="1.22"/><circle cx="295.3" cy="841.7" r="1.22"/><circle cx="395.5" cy="802.6" r="1.22"/><circle cx="355.2" cy="767.2" r="1.22"/><circle cx="329.0" cy="846.1" r="1.22"/><circle cx="312.6" cy="751.7" r="1.22"/><circle cx="376.1" cy="821.5" r="1.22"/><circle cx="406.1" cy="714.1" r="1.22"/><circle cx="401.1" cy="830.8" r="1.22"/><circle cx="367.6" cy="723.3" r="1.22"/><circle cx="323.3" cy="797.8" r="1.22"/><circle cx="343.4" cy="775.2" r="1.22"/><circle cx="384.8" cy="739.9" r="1.22"/><circle cx="304.4" cy="818.8" r="1.22"/><circle cx="381.3" cy="811.7" r="1.22"/><circle cx="342.0" cy="782.9" r="1.22"/><circle cx="362.4" cy="794.6" r="1.22"/><circle cx="402.1" cy="759.0" r="1.22"/><circle cx="284.4" cy="833.3" r="1.22"/><circle cx="414.0" cy="785.9" r="1.22"/><circle cx="373.1" cy="750.2" r="1.22"/><circle cx="309.4" cy="824.6" r="1.22"/><circle cx="330.2" cy="773.2" r="1.22"/><circle cx="356.9" cy="838.5" r="1.22"/><circle cx="389.7" cy="730.8" r="1.22"/><circle cx="290.1" cy="809.6" r="1.22"/><circle cx="388.1" cy="789.5" r="1.22"/><circle cx="358.1" cy="752.7" r="1.22"/><circle cx="330.6" cy="822.6" r="1.22"/><circle cx="311.0" cy="766.2" r="1.22"/><circle cx="373.2" cy="845.0" r="1.22"/><circle cx="413.5" cy="736.2" r="1.22"/><circle cx="278.0" cy="801.5" r="1.22"/><circle cx="402.8" cy="817.7" r="1.22"/><circle cx="316.0" cy="774.2" r="1.22"/><circle cx="349.6" cy="798.8" r="1.22"/><circle cx="383.0" cy="762.1" r="1.22"/><circle cx="301.7" cy="831.8" r="1.22"/><circle cx="302.4" cy="760.0" r="1.22"/><circle cx="384.1" cy="834.4" r="1.22"/><circle cx="335.9" cy="795.7" r="1.22"/><circle cx="369.8" cy="781.8" r="1.22"/><circle cx="399.3" cy="745.4" r="1.22"/><circle cx="282.7" cy="810.7" r="1.22"/><circle cx="407.7" cy="808.6" r="1.22"/><circle cx="374.8" cy="772.1" r="1.22"/><circle cx="312.2" cy="837.4" r="1.22"/><circle cx="327.4" cy="751.3" r="1.22"/><circle cx="355.1" cy="825.7" r="1.22"/><circle cx="396.0" cy="717.1" r="1.22"/><circle cx="297.3" cy="786.9" r="1.22"/><circle cx="393.0" cy="821.2" r="1.22"/><circle cx="327.0" cy="791.5" r="1.22"/><circle cx="378.7" cy="804.0" r="1.22"/><circle cx="408.1" cy="767.5" r="1.22"/><circle cx="273.8" cy="841.9" r="1.22"/><circle cx="398.6" cy="777.2" r="1.22"/><circle cx="365.7" cy="740.8" r="1.22"/><circle cx="321.3" cy="815.1" r="1.22"/><circle cx="336.6" cy="764.6" r="1.22"/><circle cx="346.0" cy="830.0" r="1.22"/><circle cx="386.8" cy="721.4" r="1.22"/><circle cx="306.4" cy="800.3" r="1.22"/><circle cx="379.3" cy="794.3" r="1.22"/><circle cx="349.2" cy="757.6" r="1.22"/><circle cx="339.4" cy="836.4" r="1.22"/><circle cx="364.3" cy="813.2" r="1.22"/><circle cx="404.6" cy="704.3" r="1.22"/><circle cx="286.8" cy="778.7" r="1.22"/><circle cx="412.0" cy="840.5" r="1.22"/><circle cx="370.5" cy="731.6" r="1.22"/><circle cx="306.9" cy="805.9" r="1.22"/><circle cx="358.8" cy="785.1" r="1.22"/><circle cx="392.2" cy="748.3" r="1.22"/><circle cx="292.6" cy="827.2" r="1.22"/><circle cx="391.9" cy="827.6" r="1.22"/><circle cx="359.1" cy="719.9" r="1.22"/><circle cx="332.4" cy="785.2" r="1.22"/><circle cx="370.8" cy="805.8" r="1.22"/><circle cx="411.7" cy="770.2" r="1.22"/><circle cx="277.0" cy="840.1" r="1.22"/><circle cx="404.4" cy="779.1" r="1.22"/><circle cx="364.6" cy="743.5" r="1.22"/><circle cx="320.1" cy="813.3" r="1.22"/><circle cx="339.7" cy="757.4" r="1.22"/><circle cx="349.5" cy="836.3" r="1.22"/><circle cx="379.0" cy="728.6" r="1.22"/><circle cx="298.4" cy="793.9" r="1.22"/><circle cx="387.1" cy="800.4" r="1.22"/><circle cx="345.7" cy="765.1" r="1.22"/><circle cx="336.3" cy="830.4" r="1.22"/><circle cx="365.4" cy="814.7" r="1.22"/><circle cx="398.8" cy="707.2" r="1.22"/><circle cx="408.4" cy="842.0" r="1.22"/><circle cx="378.4" cy="734.6" r="1.22"/><circle cx="314.9" cy="804.4" r="1.22"/><circle cx="353.0" cy="791.1" r="1.22"/><circle cx="393.3" cy="755.7" r="1.22"/><circle cx="293.8" cy="821.1" r="1.22"/><circle cx="396.2" cy="786.6" r="1.22"/><circle cx="354.8" cy="751.2" r="1.22"/><circle cx="327.2" cy="825.5" r="1.22"/><circle cx="311.9" cy="772.2" r="1.22"/><circle cx="374.6" cy="837.6" r="1.22"/><circle cx="408.0" cy="730.2" r="1.22"/><circle cx="272.3" cy="809.0" r="1.22"/><circle cx="399.6" cy="810.3" r="1.22"/><circle cx="323.7" cy="781.7" r="1.22"/><circle cx="344.1" cy="795.8" r="1.22"/><circle cx="384.4" cy="760.5" r="1.22"/><circle cx="302.6" cy="834.8" r="1.22"/><circle cx="301.4" cy="761.9" r="1.22"/><circle cx="382.8" cy="831.8" r="1.22"/><circle cx="341.6" cy="798.4" r="1.22"/><circle cx="361.7" cy="774.6" r="1.22"/><circle cx="402.5" cy="739.0" r="1.22"/><circle cx="286.1" cy="817.8" r="1.22"/><circle cx="413.2" cy="801.4" r="1.22"/><circle cx="373.5" cy="765.7" r="1.22"/><circle cx="311.3" cy="844.6" r="1.22"/><circle cx="330.9" cy="753.2" r="1.22"/><circle cx="358.4" cy="823.0" r="1.22"/><circle cx="387.8" cy="715.3" r="1.22"/><circle cx="289.6" cy="789.6" r="1.22"/><circle cx="390.0" cy="810.0" r="1.22"/><circle cx="356.6" cy="773.3" r="1.22"/><circle cx="329.9" cy="838.7" r="1.22"/><circle cx="372.8" cy="824.5" r="1.22"/><circle cx="414.3" cy="715.6" r="1.22"/><circle cx="279.5" cy="785.5" r="1.22"/><circle cx="402.4" cy="833.8" r="1.22"/><circle cx="362.1" cy="724.9" r="1.22"/><circle cx="317.6" cy="794.8" r="1.22"/><circle cx="351.5" cy="782.7" r="1.22"/><circle cx="381.5" cy="746.0" r="1.22"/><circle cx="301.0" cy="811.3" r="1.22"/><circle cx="384.5" cy="818.9" r="1.22"/><circle cx="334.3" cy="775.7" r="1.22"/><circle cx="367.9" cy="797.3" r="1.22"/><circle cx="400.8" cy="760.8" r="1.22"/><circle cx="283.4" cy="830.7" r="1.22"/><circle cx="405.9" cy="788.6" r="1.22"/><circle cx="376.4" cy="752.1" r="1.22"/><circle cx="312.9" cy="822.0" r="1.22"/><circle cx="329.3" cy="766.8" r="1.22"/><circle cx="355.5" cy="845.6" r="1.22"/><circle cx="395.2" cy="737.1" r="1.22"/><circle cx="295.7" cy="802.4" r="1.22"/><circle cx="295.0" cy="771.4" r="1.22"/><circle cx="393.7" cy="841.2" r="1.22"/><circle cx="352.8" cy="732.7" r="1.22"/><circle cx="325.2" cy="807.0" r="1.22"/><circle cx="377.1" cy="784.0" r="1.22"/><circle cx="409.9" cy="747.5" r="1.22"/><circle cx="274.3" cy="826.4" r="1.22"/><circle cx="397.0" cy="792.7" r="1.22"/><circle cx="367.5" cy="756.3" r="1.22"/><circle cx="321.7" cy="835.1" r="1.22"/><circle cx="338.1" cy="744.6" r="1.22"/><circle cx="346.6" cy="814.5" r="1.22"/><circle cx="386.3" cy="705.9" r="1.22"/><circle cx="304.6" cy="780.3" r="1.22"/><circle cx="380.8" cy="778.3" r="1.22"/><circle cx="347.4" cy="741.5" r="1.22"/><circle cx="339.1" cy="815.9" r="1.22"/><circle cx="318.3" cy="763.9" r="1.22"/><circle cx="363.7" cy="829.2" r="1.22"/><circle cx="405.1" cy="720.3" r="1.22"/><circle cx="288.7" cy="799.2" r="1.22"/><circle cx="411.3" cy="819.9" r="1.22"/><circle cx="308.8" cy="789.9" r="1.22"/><circle cx="332.9" cy="735.8" r="1.22"/><circle cx="360.4" cy="805.6" r="1.22"/><circle cx="390.4" cy="768.8" r="1.22"/><circle cx="292.1" cy="843.2" r="1.22"/><circle cx="390.7" cy="781.4" r="1.22"/><circle cx="360.0" cy="745.8" r="1.22"/><circle cx="333.8" cy="811.1" r="1.22"/><circle cx="308.4" cy="759.6" r="1.22"/><circle cx="371.9" cy="834.0" r="1.22"/><circle cx="410.4" cy="726.2" r="1.22"/><circle cx="276.1" cy="796.1" r="1.22"/><circle cx="405.3" cy="825.2" r="1.22"/><circle cx="363.5" cy="717.5" r="1.22"/><circle cx="319.1" cy="787.4" r="1.22"/><circle cx="348.2" cy="808.2" r="1.22"/><circle cx="380.1" cy="772.5" r="1.22"/><circle cx="299.7" cy="837.9" r="1.22"/><circle cx="305.5" cy="765.5" r="1.22"/><circle cx="386.0" cy="844.3" r="1.22"/><circle cx="347.0" cy="736.9" r="1.22"/><circle cx="337.2" cy="802.2" r="1.22"/><circle cx="366.6" cy="788.8" r="1.22"/><circle cx="397.9" cy="753.4" r="1.22"/><circle cx="280.1" cy="823.3" r="1.22"/><circle cx="409.7" cy="798.0" r="1.22"/><circle cx="377.3" cy="762.7" r="1.22"/><circle cx="313.6" cy="832.6" r="1.22"/><circle cx="352.0" cy="817.0" r="1.22"/><circle cx="394.4" cy="709.5" r="1.22"/><circle cx="294.8" cy="774.9" r="1.22"/><circle cx="394.9" cy="812.4" r="1.22"/><circle cx="328.3" cy="779.4" r="1.22"/><circle cx="375.4" cy="793.6" r="1.22"/><circle cx="406.7" cy="758.3" r="1.22"/><circle cx="271.2" cy="837.1" r="1.22"/><circle cx="400.6" cy="784.4" r="1.22"/><circle cx="368.1" cy="749.0" r="1.22"/><circle cx="322.8" cy="827.9" r="1.22"/><circle cx="334.5" cy="769.9" r="1.22"/><circle cx="342.9" cy="839.7" r="1.22"/><circle cx="385.3" cy="732.3" r="1.22"/><circle cx="303.9" cy="806.6" r="1.22"/><circle cx="381.9" cy="803.6" r="1.22"/><circle cx="351.2" cy="767.9" r="1.22"/><circle cx="342.7" cy="842.3" r="1.22"/><circle cx="317.3" cy="755.5" r="1.22"/><circle cx="363.0" cy="820.8" r="1.22"/><circle cx="401.5" cy="713.1" r="1.22"/><circle cx="285.0" cy="791.9" r="1.22"/><circle cx="414.5" cy="829.5" r="1.22"/><circle cx="372.6" cy="721.8" r="1.22"/><circle cx="310.0" cy="800.7" r="1.22"/><circle cx="357.4" cy="776.8" r="1.22"/><circle cx="389.2" cy="741.2" r="1.22"/><circle cx="290.5" cy="815.5" r="1.22"/><circle cx="388.7" cy="836.0" r="1.22"/><circle cx="357.4" cy="727.1" r="1.22"/><circle cx="331.2" cy="792.4" r="1.22"/><circle cx="373.8" cy="780.5" r="1.22"/><circle cx="412.9" cy="743.8" r="1.22"/><circle cx="278.6" cy="813.6" r="1.22"/><circle cx="403.3" cy="807.9" r="1.22"/><circle cx="360.9" cy="771.1" r="1.22"/><circle cx="316.5" cy="841.0" r="1.22"/><circle cx="340.8" cy="747.8" r="1.22"/><circle cx="350.2" cy="826.6" r="1.22"/><circle cx="382.6" cy="717.8" r="1.22"/><circle cx="302.2" cy="783.1" r="1.22"/><circle cx="383.5" cy="790.8" r="1.22"/><circle cx="345.1" cy="754.3" r="1.22"/><circle cx="335.2" cy="819.6" r="1.22"/><circle cx="324.7" cy="769.1" r="1.22"/><circle cx="369.2" cy="843.5" r="1.22"/><circle cx="399.9" cy="735.0" r="1.22"/><circle cx="282.1" cy="804.7" r="1.22"/><circle cx="407.2" cy="816.8" r="1.22"/><circle cx="311.7" cy="778.0" r="1.22"/><circle cx="354.6" cy="799.5" r="1.22"/><circle cx="396.4" cy="763.0" r="1.22"/><circle cx="296.8" cy="828.3" r="1.22"/><circle cx="392.4" cy="795.0" r="1.22"/><circle cx="353.9" cy="758.6" r="1.22"/><circle cx="326.4" cy="832.9" r="1.22"/><circle cx="378.0" cy="812.2" r="1.22"/><circle cx="408.8" cy="703.6" r="1.22"/>
</g>
<rect x="263.80" y="694.50" width="158.10" height="157.70" fill="none" stroke="#3a3a3a" stroke-width="1.1"/>
<line x1="269.40" y1="852.20" x2="269.40" y2="854.80" stroke="#222" stroke-width="0.9"/>
<text transform="translate(269.40 861.50) scale(0.85 1)" font-size="8.0" text-anchor="middle" fill="#1c1c1c" stroke="#1c1c1c" stroke-width="0.08">0.0</text>
<line x1="297.18" y1="852.20" x2="297.18" y2="854.80" stroke="#222" stroke-width="0.9"/>
<text transform="translate(297.18 861.50) scale(0.85 1)" font-size="8.0" text-anchor="middle" fill="#1c1c1c" stroke="#1c1c1c" stroke-width="0.08">0.2</text>
<line x1="324.96" y1="852.20" x2="324.96" y2="854.80" stroke="#222" stroke-width="0.9"/>
<text transform="translate(324.96 861.50) scale(0.85 1)" font-size="8.0" text-anchor="middle" fill="#1c1c1c" stroke="#1c1c1c" stroke-width="0.08">0.4</text>
<line x1="352.74" y1="852.20" x2="352.74" y2="854.80" stroke="#222" stroke-width="0.9"/>
<text transform="translate(352.74 861.50) scale(0.85 1)" font-size="8.0" text-anchor="middle" fill="#1c1c1c" stroke="#1c1c1c" stroke-width="0.08">0.6</text>
<line x1="380.52" y1="852.20" x2="380.52" y2="854.80" stroke="#222" stroke-width="0.9"/>
<text transform="translate(380.52 861.50) scale(0.85 1)" font-size="8.0" text-anchor="middle" fill="#1c1c1c" stroke="#1c1c1c" stroke-width="0.08">0.8</text>
<line x1="408.30" y1="852.20" x2="408.30" y2="854.80" stroke="#222" stroke-width="0.9"/>
<text transform="translate(408.30 861.50) scale(0.85 1)" font-size="8.0" text-anchor="middle" fill="#1c1c1c" stroke="#1c1c1c" stroke-width="0.08">1.0</text>
<line x1="261.20" y1="848.10" x2="263.80" y2="848.10" stroke="#222" stroke-width="0.9"/>
<text transform="translate(260.80 850.95) scale(0.85 1)" font-size="8.0" text-anchor="end" fill="#1c1c1c" stroke="#1c1c1c" stroke-width="0.08">0.0</text>
<line x1="261.20" y1="816.34" x2="263.80" y2="816.34" stroke="#222" stroke-width="0.9"/>
<text transform="translate(260.80 819.19) scale(0.85 1)" font-size="8.0" text-anchor="end" fill="#1c1c1c" stroke="#1c1c1c" stroke-width="0.08">0.2</text>
<line x1="261.20" y1="784.58" x2="263.80" y2="784.58" stroke="#222" stroke-width="0.9"/>
<text transform="translate(260.80 787.43) scale(0.85 1)" font-size="8.0" text-anchor="end" fill="#1c1c1c" stroke="#1c1c1c" stroke-width="0.08">0.4</text>
<line x1="261.20" y1="752.82" x2="263.80" y2="752.82" stroke="#222" stroke-width="0.9"/>
<text transform="translate(260.80 755.67) scale(0.85 1)" font-size="8.0" text-anchor="end" fill="#1c1c1c" stroke="#1c1c1c" stroke-width="0.08">0.6</text>
<line x1="261.20" y1="721.06" x2="263.80" y2="721.06" stroke="#222" stroke-width="0.9"/>
<text transform="translate(260.80 723.91) scale(0.85 1)" font-size="8.0" text-anchor="end" fill="#1c1c1c" stroke="#1c1c1c" stroke-width="0.08">0.8</text>
<text x="342.85" y="870.20" font-size="7.0" text-anchor="middle" fill="#1c1c1c" stroke="#1c1c1c" stroke-width="0.18">A</text>
<text x="247.90" y="774.55" font-size="7.0" text-anchor="middle" fill="#1c1c1c" transform="rotate(-90 247.90 774.55)" stroke="#1c1c1c" stroke-width="0.18">B</text>
<rect x="424.2" y="697.4" width="27.8" height="18.8" rx="1.5" fill="#fff" stroke="#2a2a2a" stroke-width="0.8"/>
<circle cx="432.5" cy="702.4" r="1.2" fill="#4c72b0"/>
<circle cx="432.5" cy="710.7" r="1.2" fill="#55a868"/>
<text x="443.10" y="704.40" font-size="5.6" fill="#1c1c1c" stroke="#1c1c1c" stroke-width="0.15">01</text>
<text x="443.10" y="712.70" font-size="5.6" fill="#1c1c1c" stroke="#1c1c1c" stroke-width="0.15">10</text>
<g fill="#4c72b0" fill-opacity="0.93">
<circle cx="525.0" cy="761.3" r="1.22"/><circle cx="590.8" cy="722.5" r="1.22"/><circle cx="539.3" cy="711.2" r="1.22"/><circle cx="508.8" cy="818.0" r="1.22"/><circle cx="519.5" cy="737.8" r="1.22"/><circle cx="571.9" cy="752.6" r="1.22"/><circle cx="611.4" cy="713.9" r="1.22"/><circle cx="530.0" cy="787.7" r="1.22"/><circle cx="537.6" cy="716.3" r="1.22"/><circle cx="577.3" cy="749.5" r="1.22"/><circle cx="552.5" cy="773.8" r="1.22"/><circle cx="629.8" cy="730.9" r="1.22"/><circle cx="513.4" cy="809.2" r="1.22"/><circle cx="505.0" cy="746.6" r="1.22"/><circle cx="609.8" cy="703.7" r="1.22"/><circle cx="547.4" cy="782.1" r="1.22"/><circle cx="558.0" cy="725.6" r="1.22"/><circle cx="528.8" cy="721.2" r="1.22"/><circle cx="543.6" cy="742.1" r="1.22"/><circle cx="638.6" cy="708.1" r="1.22"/><circle cx="504.6" cy="777.5" r="1.22"/><circle cx="514.1" cy="769.3" r="1.22"/><circle cx="600.7" cy="735.3" r="1.22"/><circle cx="567.1" cy="711.9" r="1.22"/><circle cx="533.9" cy="748.2" r="1.22"/><circle cx="582.0" cy="718.4" r="1.22"/><circle cx="548.2" cy="733.2" r="1.22"/><circle cx="510.4" cy="706.7" r="1.22"/><circle cx="605.6" cy="744.1" r="1.22"/><circle cx="562.8" cy="756.8" r="1.22"/><circle cx="620.5" cy="727.0" r="1.22"/><circle cx="520.9" cy="792.0" r="1.22"/><circle cx="522.5" cy="707.0" r="1.22"/><circle cx="588.9" cy="741.1" r="1.22"/><circle cx="541.9" cy="764.4" r="1.22"/><circle cx="645.8" cy="722.2" r="1.22"/><circle cx="510.8" cy="800.7" r="1.22"/><circle cx="517.0" cy="755.2" r="1.22"/><circle cx="594.5" cy="713.0" r="1.22"/><circle cx="549.2" cy="791.4" r="1.22"/><circle cx="574.5" cy="734.2" r="1.22"/><circle cx="535.6" cy="769.6" r="1.22"/><circle cx="574.8" cy="732.2" r="1.22"/><circle cx="554.4" cy="719.4" r="1.22"/><circle cx="515.9" cy="827.7" r="1.22"/><circle cx="503.0" cy="728.1" r="1.22"/><circle cx="559.9" cy="743.0" r="1.22"/><circle cx="626.6" cy="705.6" r="1.22"/><circle cx="528.3" cy="779.6" r="1.22"/><circle cx="526.8" cy="738.5" r="1.22"/><circle cx="583.6" cy="710.0" r="1.22"/><circle cx="557.3" cy="775.0" r="1.22"/><circle cx="545.6" cy="723.7" r="1.22"/><circle cx="507.1" cy="831.9" r="1.22"/><circle cx="512.1" cy="715.0" r="1.22"/><circle cx="569.1" cy="765.1" r="1.22"/><circle cx="617.4" cy="736.6" r="1.22"/><circle cx="537.4" cy="801.6" r="1.22"/><circle cx="531.4" cy="729.6" r="1.22"/><circle cx="550.7" cy="750.7" r="1.22"/><circle cx="637.0" cy="717.5" r="1.22"/><circle cx="519.6" cy="787.0" r="1.22"/><circle cx="507.9" cy="759.9" r="1.22"/><circle cx="603.7" cy="726.7" r="1.22"/><circle cx="540.1" cy="796.3" r="1.22"/><circle cx="565.4" cy="702.5" r="1.22"/><circle cx="522.9" cy="810.4" r="1.22"/><circle cx="523.9" cy="735.5" r="1.22"/><circle cx="540.4" cy="754.9" r="1.22"/><circle cx="643.0" cy="711.7" r="1.22"/><circle cx="507.5" cy="790.0" r="1.22"/><circle cx="520.4" cy="763.6" r="1.22"/><circle cx="595.5" cy="720.3" r="1.22"/><circle cx="570.6" cy="708.9" r="1.22"/><circle cx="612.6" cy="741.8" r="1.22"/><circle cx="536.5" cy="744.3" r="1.22"/><circle cx="578.2" cy="705.8" r="1.22"/><circle cx="553.6" cy="727.9" r="1.22"/><circle cx="506.3" cy="718.6" r="1.22"/><circle cx="557.1" cy="771.5" r="1.22"/><circle cx="625.1" cy="733.0" r="1.22"/><circle cx="527.0" cy="806.9" r="1.22"/><circle cx="527.4" cy="767.1" r="1.22"/><circle cx="587.3" cy="737.6" r="1.22"/><circle cx="544.5" cy="714.1" r="1.22"/><circle cx="503.3" cy="821.2" r="1.22"/><circle cx="515.1" cy="723.4" r="1.22"/><circle cx="565.9" cy="739.9" r="1.22"/><circle cx="616.2" cy="710.4" r="1.22"/><circle cx="535.8" cy="775.4" r="1.22"/><circle cx="533.0" cy="704.5" r="1.22"/><circle cx="583.0" cy="746.4" r="1.22"/><circle cx="549.5" cy="759.0" r="1.22"/><circle cx="633.9" cy="724.7" r="1.22"/><circle cx="516.6" cy="794.2" r="1.22"/><circle cx="511.6" cy="750.4" r="1.22"/><circle cx="604.3" cy="716.1" r="1.22"/><circle cx="541.1" cy="785.5" r="1.22"/><circle cx="561.8" cy="731.1" r="1.22"/><circle cx="521.3" cy="753.0" r="1.22"/><circle cx="590.2" cy="715.3" r="1.22"/><circle cx="542.9" cy="736.3" r="1.22"/><circle cx="517.9" cy="709.2" r="1.22"/><circle cx="593.5" cy="738.8" r="1.22"/><circle cx="573.1" cy="762.2" r="1.22"/><circle cx="614.5" cy="724.5" r="1.22"/><circle cx="533.1" cy="798.5" r="1.22"/><circle cx="534.6" cy="725.9" r="1.22"/><circle cx="575.7" cy="760.3" r="1.22"/><circle cx="555.6" cy="745.2" r="1.22"/><circle cx="631.0" cy="703.3" r="1.22"/><circle cx="515.0" cy="781.7" r="1.22"/><circle cx="504.3" cy="771.8" r="1.22"/><circle cx="606.1" cy="729.9" r="1.22"/><circle cx="559.1" cy="717.2" r="1.22"/><circle cx="525.5" cy="712.7" r="1.22"/><circle cx="584.8" cy="756.0" r="1.22"/><circle cx="546.5" cy="767.4" r="1.22"/><circle cx="505.9" cy="803.9" r="1.22"/><circle cx="513.2" cy="740.8" r="1.22"/><circle cx="597.2" cy="707.9" r="1.22"/><circle cx="552.7" cy="777.3" r="1.22"/><circle cx="567.9" cy="721.4" r="1.22"/><circle cx="530.4" cy="757.6" r="1.22"/><circle cx="581.0" cy="728.9" r="1.22"/><circle cx="552.0" cy="704.8" r="1.22"/><circle cx="518.5" cy="812.7" r="1.22"/><circle cx="509.0" cy="731.9" r="1.22"/><circle cx="564.3" cy="748.4" r="1.22"/><circle cx="623.4" cy="719.7" r="1.22"/><circle cx="524.2" cy="784.6" r="1.22"/><circle cx="524.5" cy="720.1" r="1.22"/><circle cx="590.3" cy="748.5" r="1.22"/><circle cx="538.8" cy="770.3" r="1.22"/><circle cx="509.3" cy="805.4" r="1.22"/><circle cx="518.8" cy="743.7" r="1.22"/><circle cx="595.9" cy="704.9" r="1.22"/><circle cx="551.7" cy="778.9" r="1.22"/><circle cx="571.3" cy="728.8" r="1.22"/><circle cx="538.1" cy="764.8" r="1.22"/><circle cx="577.8" cy="721.8" r="1.22"/><circle cx="553.0" cy="707.5" r="1.22"/><circle cx="512.9" cy="814.5" r="1.22"/><circle cx="505.6" cy="734.6" r="1.22"/><circle cx="558.6" cy="755.5" r="1.22"/><circle cx="624.7" cy="712.6" r="1.22"/><circle cx="525.2" cy="791.0" r="1.22"/><circle cx="529.3" cy="751.1" r="1.22"/><circle cx="586.6" cy="717.1" r="1.22"/><circle cx="544.1" cy="730.0" r="1.22"/><circle cx="504.1" cy="837.2" r="1.22"/><circle cx="514.7" cy="702.9" r="1.22"/><circle cx="601.3" cy="745.1" r="1.22"/><circle cx="567.7" cy="760.3" r="1.22"/><circle cx="615.6" cy="726.3" r="1.22"/><circle cx="534.3" cy="795.8" r="1.22"/><circle cx="533.3" cy="724.4" r="1.22"/><circle cx="581.5" cy="761.8" r="1.22"/><circle cx="547.7" cy="739.1" r="1.22"/><circle cx="634.5" cy="709.3" r="1.22"/><circle cx="518.1" cy="774.3" r="1.22"/><circle cx="509.7" cy="765.8" r="1.22"/><circle cx="605.0" cy="736.0" r="1.22"/><circle cx="562.2" cy="715.7" r="1.22"/><circle cx="522.0" cy="773.4" r="1.22"/><circle cx="588.4" cy="731.3" r="1.22"/><circle cx="541.4" cy="715.9" r="1.22"/><circle cx="511.3" cy="823.9" r="1.22"/><circle cx="516.3" cy="725.2" r="1.22"/><circle cx="573.9" cy="746.2" r="1.22"/><circle cx="612.7" cy="704.1" r="1.22"/><circle cx="532.7" cy="782.5" r="1.22"/><circle cx="536.1" cy="710.5" r="1.22"/><circle cx="575.2" cy="740.4" r="1.22"/><circle cx="554.9" cy="760.6" r="1.22"/><circle cx="632.8" cy="723.2" r="1.22"/><circle cx="515.4" cy="797.2" r="1.22"/><circle cx="503.6" cy="751.9" r="1.22"/><circle cx="607.8" cy="714.5" r="1.22"/><circle cx="544.2" cy="788.5" r="1.22"/><circle cx="560.6" cy="737.1" r="1.22"/><circle cx="527.3" cy="732.6" r="1.22"/><circle cx="546.0" cy="747.5" r="1.22"/><circle cx="641.6" cy="719.1" r="1.22"/><circle cx="506.5" cy="784.0" r="1.22"/><circle cx="512.7" cy="756.2" r="1.22"/><circle cx="598.7" cy="727.7" r="1.22"/><circle cx="569.7" cy="706.0" r="1.22"/><circle cx="530.9" cy="741.7" r="1.22"/><circle cx="579.6" cy="708.5" r="1.22"/><circle cx="550.2" cy="720.8" r="1.22"/><circle cx="507.2" cy="711.5" r="1.22"/><circle cx="564.7" cy="768.9" r="1.22"/><circle cx="621.8" cy="735.7" r="1.22"/><circle cx="523.6" cy="805.1" r="1.22"/><circle cx="523.2" cy="745.9" r="1.22"/><circle cx="591.6" cy="702.6" r="1.22"/><circle cx="539.8" cy="726.7" r="1.22"/><circle cx="508.1" cy="833.5" r="1.22"/><circle cx="519.9" cy="717.9" r="1.22"/><circle cx="595.0" cy="750.8" r="1.22"/><circle cx="570.2" cy="772.5" r="1.22"/><circle cx="612.1" cy="729.2" r="1.22"/><circle cx="531.6" cy="807.6" r="1.22"/><circle cx="537.2" cy="736.8" r="1.22"/><circle cx="578.8" cy="765.5" r="1.22"/><circle cx="554.2" cy="753.4" r="1.22"/><circle cx="629.0" cy="714.9" r="1.22"/><circle cx="511.8" cy="788.8" r="1.22"/><circle cx="506.8" cy="762.6" r="1.22"/><circle cx="609.0" cy="724.1" r="1.22"/><circle cx="557.5" cy="709.7" r="1.22"/><circle cx="528.0" cy="705.2" r="1.22"/><circle cx="587.9" cy="742.9" r="1.22"/><circle cx="545.1" cy="758.1" r="1.22"/><circle cx="502.7" cy="793.5" r="1.22"/><circle cx="515.6" cy="748.8" r="1.22"/><circle cx="600.2" cy="719.3" r="1.22"/><circle cx="554.7" cy="784.3" r="1.22"/><circle cx="566.4" cy="732.4" r="1.22"/><circle cx="532.3" cy="768.1" r="1.22"/><circle cx="582.4" cy="733.8" r="1.22"/><circle cx="548.9" cy="713.4" r="1.22"/><circle cx="517.3" cy="820.3" r="1.22"/><circle cx="511.1" cy="722.1" r="1.22"/><circle cx="561.3" cy="741.5" r="1.22"/><circle cx="620.9" cy="707.1" r="1.22"/><circle cx="522.8" cy="776.6" r="1.22"/><circle cx="520.6" cy="727.5" r="1.22"/><circle cx="589.5" cy="757.0" r="1.22"/><circle cx="542.3" cy="743.9" r="1.22"/><circle cx="644.2" cy="706.3" r="1.22"/><circle cx="510.1" cy="780.2" r="1.22"/><circle cx="517.3" cy="771.1" r="1.22"/><circle cx="593.0" cy="733.4" r="1.22"/><circle cx="572.6" cy="718.2" r="1.22"/><circle cx="535.2" cy="754.2" r="1.22"/><circle cx="576.3" cy="712.4" r="1.22"/><circle cx="556.3" cy="734.8" r="1.22"/><circle cx="504.8" cy="708.2" r="1.22"/><circle cx="606.5" cy="742.5" r="1.22"/><circle cx="559.5" cy="762.9" r="1.22"/><circle cx="628.2" cy="721.0" r="1.22"/><circle cx="529.0" cy="799.5" r="1.22"/><circle cx="526.1" cy="758.3" r="1.22"/><circle cx="585.4" cy="725.4" r="1.22"/><circle cx="547.1" cy="703.8" r="1.22"/><circle cx="505.2" cy="812.0" r="1.22"/><circle cx="513.7" cy="730.4" r="1.22"/><circle cx="568.4" cy="749.7" r="1.22"/><circle cx="619.3" cy="716.8" r="1.22"/><circle cx="537.9" cy="786.2" r="1.22"/><circle cx="529.8" cy="713.7" r="1.22"/><circle cx="580.4" cy="752.2" r="1.22"/><circle cx="551.4" cy="766.7" r="1.22"/><circle cx="519.2" cy="802.9" r="1.22"/><circle cx="508.5" cy="739.5" r="1.22"/><circle cx="601.8" cy="710.8" r="1.22"/><circle cx="539.6" cy="775.8" r="1.22"/><circle cx="563.8" cy="722.9" r="1.22"/><circle cx="524.6" cy="722.7" r="1.22"/><circle cx="539.5" cy="739.7" r="1.22"/><circle cx="643.7" cy="711.0" r="1.22"/><circle cx="508.4" cy="776.0" r="1.22"/><circle cx="519.0" cy="766.3" r="1.22"/><circle cx="596.9" cy="737.6" r="1.22"/><circle cx="572.1" cy="714.0" r="1.22"/><circle cx="538.0" cy="749.5" r="1.22"/><circle cx="576.9" cy="716.6" r="1.22"/><circle cx="552.3" cy="730.6" r="1.22"/><circle cx="505.4" cy="703.5" r="1.22"/><circle cx="557.9" cy="758.7" r="1.22"/><circle cx="624.2" cy="725.8" r="1.22"/><circle cx="526.2" cy="795.3" r="1.22"/><circle cx="528.9" cy="763.1" r="1.22"/><circle cx="586.0" cy="721.2" r="1.22"/><circle cx="543.2" cy="708.0" r="1.22"/><circle cx="504.7" cy="816.2" r="1.22"/><circle cx="514.2" cy="735.1" r="1.22"/><circle cx="566.7" cy="753.9" r="1.22"/><circle cx="615.4" cy="712.0" r="1.22"/><circle cx="535.1" cy="790.4" r="1.22"/><circle cx="533.7" cy="718.4" r="1.22"/><circle cx="582.1" cy="748.0" r="1.22"/><circle cx="548.6" cy="770.9" r="1.22"/><circle cx="517.5" cy="807.1" r="1.22"/><circle cx="510.2" cy="744.2" r="1.22"/><circle cx="605.7" cy="706.6" r="1.22"/><circle cx="542.4" cy="780.5" r="1.22"/><circle cx="563.2" cy="727.1" r="1.22"/><circle cx="522.7" cy="741.1" r="1.22"/><circle cx="588.7" cy="706.8" r="1.22"/><circle cx="561.2" cy="776.3" r="1.22"/><circle cx="541.5" cy="722.5" r="1.22"/><circle cx="510.9" cy="829.3" r="1.22"/><circle cx="517.1" cy="713.2" r="1.22"/><circle cx="574.1" cy="768.3" r="1.22"/><circle cx="613.8" cy="734.0" r="1.22"/><circle cx="532.2" cy="803.4" r="1.22"/><circle cx="535.5" cy="732.0" r="1.22"/><circle cx="554.8" cy="749.2" r="1.22"/><circle cx="631.8" cy="719.6" r="1.22"/><circle cx="515.7" cy="784.6" r="1.22"/><circle cx="502.8" cy="757.8" r="1.22"/><circle cx="607.3" cy="728.3" r="1.22"/><circle cx="545.3" cy="793.3" r="1.22"/><circle cx="560.3" cy="705.5" r="1.22"/><circle cx="528.2" cy="812.5" r="1.22"/><circle cx="526.4" cy="710.0" r="1.22"/><circle cx="584.0" cy="738.7" r="1.22"/><circle cx="545.7" cy="762.3" r="1.22"/><circle cx="641.0" cy="723.7" r="1.22"/><circle cx="506.6" cy="797.7" r="1.22"/><circle cx="511.7" cy="753.6" r="1.22"/><circle cx="598.5" cy="715.1" r="1.22"/><circle cx="569.2" cy="736.6" r="1.22"/><circle cx="531.8" cy="772.9" r="1.22"/><circle cx="579.6" cy="729.6" r="1.22"/><circle cx="550.6" cy="717.6" r="1.22"/><circle cx="508.3" cy="726.9" r="1.22"/><circle cx="565.2" cy="745.7" r="1.22"/><circle cx="622.6" cy="702.4" r="1.22"/><circle cx="523.4" cy="780.8" r="1.22"/><circle cx="523.7" cy="768.7" r="1.22"/><circle cx="592.3" cy="735.5" r="1.22"/><circle cx="540.8" cy="711.7" r="1.22"/><circle cx="507.4" cy="819.7" r="1.22"/><circle cx="520.3" cy="720.4" r="1.22"/><circle cx="571.1" cy="742.0" r="1.22"/><circle cx="612.1" cy="708.8" r="1.22"/><circle cx="531.0" cy="778.3" r="1.22"/><circle cx="536.7" cy="705.8" r="1.22"/><circle cx="578.0" cy="744.6" r="1.22"/><circle cx="553.2" cy="756.4" r="1.22"/><circle cx="628.8" cy="727.9" r="1.22"/><circle cx="512.6" cy="793.0" r="1.22"/><circle cx="506.4" cy="747.2" r="1.22"/><circle cx="608.4" cy="718.7" r="1.22"/><circle cx="545.9" cy="783.7" r="1.22"/><circle cx="556.6" cy="732.9" r="1.22"/><circle cx="527.8" cy="737.3" r="1.22"/><circle cx="544.4" cy="751.7" r="1.22"/><circle cx="637.7" cy="714.3" r="1.22"/><circle cx="503.7" cy="788.2" r="1.22"/><circle cx="515.5" cy="760.9" r="1.22"/><circle cx="599.3" cy="723.5" r="1.22"/><circle cx="565.7" cy="710.2" r="1.22"/><circle cx="532.5" cy="746.4" r="1.22"/><circle cx="583.5" cy="704.3" r="1.22"/><circle cx="549.7" cy="725.0" r="1.22"/><circle cx="511.1" cy="716.3" r="1.22"/><circle cx="561.9" cy="773.1" r="1.22"/><circle cx="621.3" cy="730.9" r="1.22"/><circle cx="521.9" cy="809.3" r="1.22"/><circle cx="521.7" cy="715.3" r="1.22"/><circle cx="589.8" cy="752.7" r="1.22"/><circle cx="542.8" cy="766.1" r="1.22"/><circle cx="509.9" cy="801.2" r="1.22"/><circle cx="518.3" cy="738.9" r="1.22"/><circle cx="593.0" cy="709.1" r="1.22"/><circle cx="547.8" cy="774.1" r="1.22"/><circle cx="573.0" cy="724.6" r="1.22"/><circle cx="534.2" cy="760.0" r="1.22"/><circle cx="576.1" cy="726.0" r="1.22"/><circle cx="555.8" cy="703.3" r="1.22"/><circle cx="514.6" cy="810.3" r="1.22"/><circle cx="503.9" cy="729.8" r="1.22"/><circle cx="559.2" cy="751.3" r="1.22"/><circle cx="627.5" cy="717.3" r="1.22"/><circle cx="529.1" cy="786.8" r="1.22"/><circle cx="525.3" cy="755.9" r="1.22"/><circle cx="584.9" cy="712.9" r="1.22"/><circle cx="546.9" cy="734.2" r="1.22"/><circle cx="513.0" cy="707.7" r="1.22"/><circle cx="597.3" cy="740.9" r="1.22"/><circle cx="568.3" cy="764.5" r="1.22"/><circle cx="618.4" cy="721.6" r="1.22"/><circle cx="538.2" cy="800.0" r="1.22"/><circle cx="530.5" cy="729.2" r="1.22"/><circle cx="580.9" cy="757.6" r="1.22"/><circle cx="551.6" cy="743.3" r="1.22"/><circle cx="636.2" cy="704.6" r="1.22"/><circle cx="518.7" cy="778.5" r="1.22"/><circle cx="509.1" cy="770.5" r="1.22"/><circle cx="602.2" cy="731.8" r="1.22"/><circle cx="563.9" cy="719.9" r="1.22"/><circle cx="524.1" cy="748.8" r="1.22"/><circle cx="590.7" cy="720.1" r="1.22"/><circle cx="539.0" cy="731.6" r="1.22"/><circle cx="518.4" cy="705.0" r="1.22"/><circle cx="596.3" cy="743.5" r="1.22"/><circle cx="571.4" cy="757.4" r="1.22"/><circle cx="610.6" cy="728.7" r="1.22"/><circle cx="530.3" cy="793.7" r="1.22"/><circle cx="538.5" cy="721.7" r="1.22"/><circle cx="577.4" cy="765.0" r="1.22"/><circle cx="552.8" cy="740.4" r="1.22"/><circle cx="630.4" cy="707.5" r="1.22"/><circle cx="513.3" cy="777.0" r="1.22"/><circle cx="506.0" cy="767.6" r="1.22"/><circle cx="610.0" cy="734.7" r="1.22"/><circle cx="558.5" cy="712.5" r="1.22"/><circle cx="529.4" cy="716.9" r="1.22"/><circle cx="586.5" cy="751.2" r="1.22"/><circle cx="543.7" cy="772.1" r="1.22"/><circle cx="504.2" cy="808.7" r="1.22"/><circle cx="514.9" cy="745.0" r="1.22"/><circle cx="601.2" cy="703.1" r="1.22"/><circle cx="555.5" cy="781.5" r="1.22"/><circle cx="567.3" cy="726.1" r="1.22"/><circle cx="533.2" cy="761.8" r="1.22"/><circle cx="581.6" cy="724.2" r="1.22"/><circle cx="548.1" cy="709.5" r="1.22"/><circle cx="518.0" cy="817.5" r="1.22"/><circle cx="509.6" cy="736.1" r="1.22"/><circle cx="562.6" cy="753.2" r="1.22"/><circle cx="619.4" cy="715.5" r="1.22"/><circle cx="521.4" cy="789.4" r="1.22"/><circle cx="522.2" cy="731.3" r="1.22"/><circle cx="541.0" cy="750.2" r="1.22"/><circle cx="645.8" cy="715.9" r="1.22"/><circle cx="511.4" cy="785.3" r="1.22"/><circle cx="516.5" cy="759.4" r="1.22"/><circle cx="593.8" cy="725.1" r="1.22"/><circle cx="573.4" cy="704.2" r="1.22"/><circle cx="535.9" cy="740.1" r="1.22"/><circle cx="575.4" cy="710.6" r="1.22"/><circle cx="566.0" cy="775.6" r="1.22"/><circle cx="555.3" cy="723.2" r="1.22"/><circle cx="503.5" cy="714.4" r="1.22"/><circle cx="561.0" cy="766.8" r="1.22"/><circle cx="527.5" cy="802.2" r="1.22"/><circle cx="526.8" cy="771.3" r="1.22"/><circle cx="584.5" cy="732.8" r="1.22"/><circle cx="546.2" cy="718.9" r="1.22"/><circle cx="506.1" cy="826.0" r="1.22"/><circle cx="512.3" cy="727.6" r="1.22"/><circle cx="569.8" cy="744.7" r="1.22"/><circle cx="617.9" cy="706.2" r="1.22"/><circle cx="536.4" cy="780.1" r="1.22"/><circle cx="531.3" cy="708.7" r="1.22"/><circle cx="579.1" cy="741.6" r="1.22"/><circle cx="550.1" cy="763.8" r="1.22"/><circle cx="636.7" cy="720.5" r="1.22"/><circle cx="520.5" cy="799.0" r="1.22"/><circle cx="507.7" cy="754.6" r="1.22"/><circle cx="602.6" cy="711.3" r="1.22"/><circle cx="540.6" cy="789.7" r="1.22"/><circle cx="564.6" cy="735.9" r="1.22"/><circle cx="523.1" cy="702.8" r="1.22"/><circle cx="591.7" cy="745.8" r="1.22"/><circle cx="540.2" cy="759.6" r="1.22"/><circle cx="641.9" cy="726.4" r="1.22"/><circle cx="508.0" cy="795.9" r="1.22"/><circle cx="519.8" cy="750.9" r="1.22"/><circle cx="595.1" cy="717.8" r="1.22"/><circle cx="550.9" cy="787.2" r="1.22"/><circle cx="570.6" cy="729.4" r="1.22"/><circle cx="537.3" cy="765.4" r="1.22"/><circle cx="578.7" cy="737.0" r="1.22"/><circle cx="553.8" cy="714.7" r="1.22"/><circle cx="512.0" cy="822.9" r="1.22"/><circle cx="506.9" cy="723.9" r="1.22"/><circle cx="557.1" cy="738.3" r="1.22"/><circle cx="626.0" cy="709.8" r="1.22"/><circle cx="526.6" cy="774.8" r="1.22"/><circle cx="528.4" cy="742.7" r="1.22"/><circle cx="587.5" cy="705.3" r="1.22"/><circle cx="560.1" cy="779.2" r="1.22"/><circle cx="545.0" cy="728.5" r="1.22"/><circle cx="503.1" cy="836.7" r="1.22"/><circle cx="516.0" cy="719.2" r="1.22"/><circle cx="599.8" cy="749.0" r="1.22"/><circle cx="566.3" cy="769.9" r="1.22"/><circle cx="616.9" cy="732.4" r="1.22"/><circle cx="531.9" cy="733.8" r="1.22"/><circle cx="549.0" cy="755.5" r="1.22"/><circle cx="633.1" cy="713.3" r="1.22"/><circle cx="516.8" cy="791.7" r="1.22"/><circle cx="510.7" cy="764.1" r="1.22"/><circle cx="604.2" cy="722.0" r="1.22"/><circle cx="561.4" cy="707.3" r="1.22"/><circle cx="522.4" cy="815.2" r="1.22"/><circle cx="521.1" cy="757.1" r="1.22"/><circle cx="589.1" cy="727.3" r="1.22"/><circle cx="542.1" cy="706.5" r="1.22"/><circle cx="510.5" cy="813.3" r="1.22"/><circle cx="517.8" cy="733.6" r="1.22"/><circle cx="572.5" cy="747.9" r="1.22"/><circle cx="614.2" cy="718.1" r="1.22"/><circle cx="534.0" cy="783.0" r="1.22"/><circle cx="534.8" cy="712.1" r="1.22"/><circle cx="576.7" cy="754.3" r="1.22"/><circle cx="556.4" cy="769.1" r="1.22"/><circle cx="514.0" cy="804.5" r="1.22"/><circle cx="504.4" cy="742.4" r="1.22"/><circle cx="607.0" cy="708.4" r="1.22"/><circle cx="543.5" cy="777.9" r="1.22"/><circle cx="559.7" cy="720.8" r="1.22"/><circle cx="525.9" cy="725.4" r="1.22"/><circle cx="585.6" cy="758.6" r="1.22"/><circle cx="547.6" cy="746.8" r="1.22"/><circle cx="640.3" cy="703.9" r="1.22"/><circle cx="505.1" cy="782.3" r="1.22"/>
</g>
<g fill="#55a868" fill-opacity="0.93">
<circle cx="623.1" cy="830.8" r="1.22"/><circle cx="563.5" cy="796.4" r="1.22"/><circle cx="601.5" cy="776.2" r="1.22"/><circle cx="643.8" cy="739.7" r="1.22"/><circle cx="635.4" cy="802.8" r="1.22"/><circle cx="596.5" cy="766.2" r="1.22"/><circle cx="551.1" cy="844.7" r="1.22"/><circle cx="580.1" cy="822.0" r="1.22"/><circle cx="619.0" cy="785.8" r="1.22"/><circle cx="568.7" cy="823.5" r="1.22"/><circle cx="598.0" cy="838.8" r="1.22"/><circle cx="640.4" cy="811.7" r="1.22"/><circle cx="585.7" cy="795.0" r="1.22"/><circle cx="624.1" cy="758.8" r="1.22"/><circle cx="525.8" cy="832.7" r="1.22"/><circle cx="627.9" cy="799.6" r="1.22"/><circle cx="586.1" cy="763.3" r="1.22"/><circle cx="559.8" cy="828.3" r="1.22"/><circle cx="606.8" cy="816.1" r="1.22"/><circle cx="631.3" cy="843.2" r="1.22"/><circle cx="556.5" cy="804.7" r="1.22"/><circle cx="576.6" cy="790.4" r="1.22"/><circle cx="615.0" cy="754.1" r="1.22"/><circle cx="534.9" cy="819.1" r="1.22"/><circle cx="614.3" cy="826.6" r="1.22"/><circle cx="572.4" cy="783.3" r="1.22"/><circle cx="592.7" cy="807.2" r="1.22"/><circle cx="635.0" cy="770.7" r="1.22"/><circle cx="517.6" cy="840.1" r="1.22"/><circle cx="644.5" cy="780.6" r="1.22"/><circle cx="542.0" cy="813.5" r="1.22"/><circle cx="589.3" cy="835.3" r="1.22"/><circle cx="620.6" cy="776.4" r="1.22"/><circle cx="561.6" cy="815.0" r="1.22"/><circle cx="604.1" cy="829.3" r="1.22"/><circle cx="632.9" cy="820.1" r="1.22"/><circle cx="582.7" cy="803.7" r="1.22"/><circle cx="613.4" cy="768.2" r="1.22"/><circle cx="532.1" cy="842.2" r="1.22"/><circle cx="617.0" cy="839.0" r="1.22"/><circle cx="566.1" cy="806.2" r="1.22"/><circle cx="599.9" cy="784.4" r="1.22"/><circle cx="632.2" cy="749.2" r="1.22"/><circle cx="638.4" cy="793.0" r="1.22"/><circle cx="607.2" cy="757.9" r="1.22"/><circle cx="544.9" cy="836.3" r="1.22"/><circle cx="587.6" cy="812.5" r="1.22"/><circle cx="625.9" cy="816.9" r="1.22"/><circle cx="608.7" cy="797.6" r="1.22"/><circle cx="641.1" cy="762.5" r="1.22"/><circle cx="629.3" cy="788.9" r="1.22"/><circle cx="598.1" cy="753.8" r="1.22"/><circle cx="554.0" cy="823.3" r="1.22"/><circle cx="578.5" cy="843.5" r="1.22"/><circle cx="611.8" cy="808.1" r="1.22"/><circle cx="580.0" cy="772.6" r="1.22"/><circle cx="570.4" cy="837.6" r="1.22"/><circle cx="595.3" cy="824.6" r="1.22"/><circle cx="642.0" cy="833.9" r="1.22"/><circle cx="591.8" cy="780.9" r="1.22"/><circle cx="622.5" cy="745.5" r="1.22"/><circle cx="622.1" cy="805.0" r="1.22"/><circle cx="592.2" cy="768.4" r="1.22"/><circle cx="564.5" cy="842.4" r="1.22"/><circle cx="602.8" cy="819.9" r="1.22"/><circle cx="636.8" cy="828.6" r="1.22"/><circle cx="550.0" cy="798.8" r="1.22"/><circle cx="579.3" cy="778.4" r="1.22"/><circle cx="531.1" cy="815.7" r="1.22"/><circle cx="617.8" cy="813.8" r="1.22"/><circle cx="570.0" cy="779.8" r="1.22"/><circle cx="599.0" cy="792.8" r="1.22"/><circle cx="628.4" cy="756.6" r="1.22"/><circle cx="512.5" cy="835.0" r="1.22"/><circle cx="641.3" cy="783.6" r="1.22"/><circle cx="608.6" cy="747.3" r="1.22"/><circle cx="546.3" cy="825.8" r="1.22"/><circle cx="584.3" cy="840.9" r="1.22"/><circle cx="626.9" cy="845.5" r="1.22"/><circle cx="560.8" cy="802.5" r="1.22"/><circle cx="608.1" cy="788.0" r="1.22"/><circle cx="637.5" cy="751.7" r="1.22"/><circle cx="632.5" cy="797.2" r="1.22"/><circle cx="599.7" cy="761.0" r="1.22"/><circle cx="555.2" cy="830.5" r="1.22"/><circle cx="575.5" cy="818.4" r="1.22"/><circle cx="613.0" cy="782.9" r="1.22"/><circle cx="573.6" cy="811.3" r="1.22"/><circle cx="593.6" cy="833.0" r="1.22"/><circle cx="645.6" cy="824.3" r="1.22"/><circle cx="588.1" cy="809.5" r="1.22"/><circle cx="621.4" cy="772.9" r="1.22"/><circle cx="522.3" cy="838.0" r="1.22"/><circle cx="619.6" cy="822.4" r="1.22"/><circle cx="562.5" cy="789.2" r="1.22"/><circle cx="605.3" cy="801.4" r="1.22"/><circle cx="644.9" cy="765.9" r="1.22"/><circle cx="509.4" cy="844.3" r="1.22"/><circle cx="634.2" cy="774.2" r="1.22"/><circle cx="548.0" cy="817.1" r="1.22"/><circle cx="581.8" cy="831.7" r="1.22"/><circle cx="615.9" cy="795.4" r="1.22"/><circle cx="567.5" cy="834.1" r="1.22"/><circle cx="601.0" cy="810.2" r="1.22"/><circle cx="639.4" cy="836.8" r="1.22"/><circle cx="543.8" cy="808.3" r="1.22"/><circle cx="586.3" cy="786.7" r="1.22"/><circle cx="627.7" cy="751.5" r="1.22"/><circle cx="529.5" cy="825.5" r="1.22"/><circle cx="625.0" cy="791.1" r="1.22"/><circle cx="558.3" cy="820.9" r="1.22"/><circle cx="610.1" cy="841.3" r="1.22"/><circle cx="640.1" cy="734.5" r="1.22"/><circle cx="630.5" cy="814.7" r="1.22"/><circle cx="577.5" cy="799.8" r="1.22"/><circle cx="618.8" cy="764.7" r="1.22"/><circle cx="538.4" cy="829.6" r="1.22"/><circle cx="610.4" cy="836.1" r="1.22"/><circle cx="571.6" cy="793.9" r="1.22"/><circle cx="596.1" cy="778.7" r="1.22"/><circle cx="635.8" cy="743.3" r="1.22"/><circle cx="643.1" cy="805.9" r="1.22"/><circle cx="602.3" cy="770.4" r="1.22"/><circle cx="539.1" cy="839.9" r="1.22"/><circle cx="590.6" cy="826.8" r="1.22"/><circle cx="623.6" cy="785.1" r="1.22"/><circle cx="564.0" cy="827.0" r="1.22"/><circle cx="602.0" cy="839.8" r="1.22"/><circle cx="643.3" cy="731.6" r="1.22"/><circle cx="636.1" cy="813.2" r="1.22"/><circle cx="580.8" cy="793.8" r="1.22"/><circle cx="610.7" cy="757.3" r="1.22"/><circle cx="530.7" cy="835.6" r="1.22"/><circle cx="618.5" cy="829.8" r="1.22"/><circle cx="568.2" cy="800.2" r="1.22"/><circle cx="597.5" cy="776.9" r="1.22"/><circle cx="630.3" cy="740.7" r="1.22"/><circle cx="639.8" cy="804.1" r="1.22"/><circle cx="610.4" cy="767.8" r="1.22"/><circle cx="546.8" cy="841.7" r="1.22"/><circle cx="585.1" cy="820.5" r="1.22"/><circle cx="627.4" cy="825.1" r="1.22"/><circle cx="559.3" cy="786.5" r="1.22"/><circle cx="606.3" cy="808.5" r="1.22"/><circle cx="639.1" cy="772.2" r="1.22"/><circle cx="630.7" cy="781.3" r="1.22"/><circle cx="555.9" cy="810.0" r="1.22"/><circle cx="576.0" cy="834.3" r="1.22"/><circle cx="614.8" cy="798.3" r="1.22"/><circle cx="572.8" cy="831.2" r="1.22"/><circle cx="593.2" cy="817.6" r="1.22"/><circle cx="645.2" cy="844.2" r="1.22"/><circle cx="542.6" cy="800.9" r="1.22"/><circle cx="589.9" cy="789.7" r="1.22"/><circle cx="619.8" cy="753.1" r="1.22"/><circle cx="521.6" cy="822.6" r="1.22"/><circle cx="621.1" cy="838.3" r="1.22"/><circle cx="562.1" cy="809.7" r="1.22"/><circle cx="604.6" cy="785.4" r="1.22"/><circle cx="645.3" cy="749.9" r="1.22"/><circle cx="633.6" cy="794.6" r="1.22"/><circle cx="593.9" cy="759.2" r="1.22"/><circle cx="549.8" cy="833.1" r="1.22"/><circle cx="583.3" cy="811.2" r="1.22"/><circle cx="616.5" cy="775.5" r="1.22"/><circle cx="565.6" cy="818.8" r="1.22"/><circle cx="599.4" cy="830.1" r="1.22"/><circle cx="637.8" cy="821.3" r="1.22"/><circle cx="587.0" cy="802.1" r="1.22"/><circle cx="627.2" cy="766.9" r="1.22"/><circle cx="527.7" cy="845.4" r="1.22"/><circle cx="625.4" cy="806.5" r="1.22"/><circle cx="584.1" cy="771.4" r="1.22"/><circle cx="556.8" cy="840.8" r="1.22"/><circle cx="608.3" cy="825.9" r="1.22"/><circle cx="628.7" cy="834.6" r="1.22"/><circle cx="553.4" cy="792.8" r="1.22"/><circle cx="577.9" cy="779.9" r="1.22"/><circle cx="618.1" cy="744.8" r="1.22"/><circle cx="536.8" cy="814.2" r="1.22"/><circle cx="612.3" cy="815.6" r="1.22"/><circle cx="570.9" cy="778.0" r="1.22"/><circle cx="595.7" cy="799.1" r="1.22"/><circle cx="636.5" cy="763.7" r="1.22"/><circle cx="520.1" cy="828.7" r="1.22"/><circle cx="642.7" cy="789.9" r="1.22"/><circle cx="603.0" cy="754.5" r="1.22"/><circle cx="540.7" cy="819.5" r="1.22"/><circle cx="592.4" cy="842.8" r="1.22"/><circle cx="622.8" cy="810.9" r="1.22"/><circle cx="565.1" cy="781.1" r="1.22"/><circle cx="603.4" cy="796.1" r="1.22"/><circle cx="642.3" cy="759.5" r="1.22"/><circle cx="637.3" cy="787.4" r="1.22"/><circle cx="550.4" cy="824.8" r="1.22"/><circle cx="579.8" cy="837.4" r="1.22"/><circle cx="617.2" cy="801.8" r="1.22"/><circle cx="569.3" cy="843.9" r="1.22"/><circle cx="598.4" cy="822.8" r="1.22"/><circle cx="640.8" cy="832.1" r="1.22"/><circle cx="545.8" cy="798.1" r="1.22"/><circle cx="583.9" cy="774.6" r="1.22"/><circle cx="625.6" cy="738.3" r="1.22"/><circle cx="526.5" cy="816.7" r="1.22"/><circle cx="626.3" cy="779.1" r="1.22"/><circle cx="560.2" cy="812.3" r="1.22"/><circle cx="607.5" cy="836.5" r="1.22"/><circle cx="638.2" cy="728.5" r="1.22"/><circle cx="632.0" cy="827.2" r="1.22"/><circle cx="575.0" cy="806.3" r="1.22"/><circle cx="616.8" cy="770.0" r="1.22"/><circle cx="535.3" cy="839.5" r="1.22"/><circle cx="613.6" cy="842.0" r="1.22"/><circle cx="574.2" cy="803.2" r="1.22"/><circle cx="594.3" cy="791.8" r="1.22"/><circle cx="633.2" cy="755.2" r="1.22"/><circle cx="646.1" cy="800.5" r="1.22"/><circle cx="603.8" cy="764.0" r="1.22"/><circle cx="541.6" cy="828.9" r="1.22"/><circle cx="588.6" cy="815.4" r="1.22"/><circle cx="620.2" cy="792.4" r="1.22"/><circle cx="563.1" cy="835.4" r="1.22"/><circle cx="605.9" cy="813.4" r="1.22"/><circle cx="634.7" cy="840.5" r="1.22"/><circle cx="548.4" cy="807.3" r="1.22"/><circle cx="582.2" cy="783.2" r="1.22"/><circle cx="614.0" cy="747.8" r="1.22"/><circle cx="533.6" cy="826.2" r="1.22"/><circle cx="615.2" cy="819.2" r="1.22"/><circle cx="566.8" cy="790.7" r="1.22"/><circle cx="600.4" cy="804.3" r="1.22"/><circle cx="631.6" cy="769.1" r="1.22"/><circle cx="514.4" cy="843.1" r="1.22"/><circle cx="638.9" cy="777.7" r="1.22"/><circle cx="543.4" cy="816.4" r="1.22"/><circle cx="585.9" cy="827.9" r="1.22"/><circle cx="624.3" cy="832.3" r="1.22"/><circle cx="557.7" cy="794.9" r="1.22"/><circle cx="609.5" cy="782.2" r="1.22"/><circle cx="640.7" cy="747.1" r="1.22"/><circle cx="630.0" cy="808.9" r="1.22"/><circle cx="597.7" cy="773.7" r="1.22"/><circle cx="552.2" cy="838.7" r="1.22"/><circle cx="577.0" cy="823.6" r="1.22"/><circle cx="611.1" cy="787.6" r="1.22"/><circle cx="572.2" cy="821.6" r="1.22"/><circle cx="596.8" cy="845.1" r="1.22"/><circle cx="635.1" cy="738.0" r="1.22"/><circle cx="643.6" cy="818.0" r="1.22"/><circle cx="591.1" cy="796.8" r="1.22"/><circle cx="622.8" cy="761.5" r="1.22"/><circle cx="524.7" cy="830.9" r="1.22"/><circle cx="623.0" cy="796.6" r="1.22"/><circle cx="591.2" cy="761.2" r="1.22"/><circle cx="563.6" cy="830.6" r="1.22"/><circle cx="601.9" cy="818.2" r="1.22"/><circle cx="635.3" cy="844.7" r="1.22"/><circle cx="551.2" cy="802.6" r="1.22"/><circle cx="580.6" cy="788.0" r="1.22"/><circle cx="611.2" cy="752.5" r="1.22"/><circle cx="529.6" cy="822.0" r="1.22"/><circle cx="619.2" cy="823.4" r="1.22"/><circle cx="568.5" cy="786.0" r="1.22"/><circle cx="597.6" cy="809.1" r="1.22"/><circle cx="629.9" cy="773.9" r="1.22"/><circle cx="513.8" cy="838.9" r="1.22"/><circle cx="640.6" cy="781.9" r="1.22"/><circle cx="609.3" cy="746.7" r="1.22"/><circle cx="547.3" cy="811.7" r="1.22"/><circle cx="585.3" cy="832.7" r="1.22"/><circle cx="628.3" cy="828.1" r="1.22"/><circle cx="559.4" cy="799.7" r="1.22"/><circle cx="606.7" cy="777.4" r="1.22"/><circle cx="639.0" cy="742.3" r="1.22"/><circle cx="631.7" cy="804.7" r="1.22"/><circle cx="600.5" cy="769.5" r="1.22"/><circle cx="556.1" cy="843.4" r="1.22"/><circle cx="576.5" cy="818.8" r="1.22"/><circle cx="613.9" cy="783.4" r="1.22"/><circle cx="572.8" cy="826.4" r="1.22"/><circle cx="592.8" cy="840.3" r="1.22"/><circle cx="634.6" cy="733.2" r="1.22"/><circle cx="644.1" cy="813.8" r="1.22"/><circle cx="589.4" cy="792.1" r="1.22"/><circle cx="620.0" cy="756.7" r="1.22"/><circle cx="520.8" cy="835.1" r="1.22"/><circle cx="621.1" cy="815.1" r="1.22"/><circle cx="603.9" cy="800.8" r="1.22"/><circle cx="646.2" cy="764.3" r="1.22"/><circle cx="633.4" cy="791.6" r="1.22"/><circle cx="594.4" cy="755.0" r="1.22"/><circle cx="548.7" cy="820.1" r="1.22"/><circle cx="582.6" cy="842.2" r="1.22"/><circle cx="616.6" cy="806.0" r="1.22"/><circle cx="574.9" cy="769.7" r="1.22"/><circle cx="566.5" cy="839.2" r="1.22"/><circle cx="600.1" cy="827.6" r="1.22"/><circle cx="638.0" cy="836.3" r="1.22"/><circle cx="587.8" cy="779.3" r="1.22"/><circle cx="626.2" cy="743.1" r="1.22"/><circle cx="625.7" cy="774.9" r="1.22"/><circle cx="557.4" cy="817.1" r="1.22"/><circle cx="609.2" cy="831.7" r="1.22"/><circle cx="629.2" cy="823.0" r="1.22"/><circle cx="554.1" cy="789.0" r="1.22"/><circle cx="579.0" cy="801.6" r="1.22"/><circle cx="617.3" cy="765.2" r="1.22"/><circle cx="537.0" cy="843.7" r="1.22"/><circle cx="612.0" cy="837.8" r="1.22"/><circle cx="570.3" cy="808.0" r="1.22"/><circle cx="594.8" cy="787.1" r="1.22"/><circle cx="637.1" cy="750.5" r="1.22"/><circle cx="520.1" cy="824.5" r="1.22"/><circle cx="642.2" cy="796.3" r="1.22"/><circle cx="603.3" cy="759.8" r="1.22"/><circle cx="539.9" cy="833.7" r="1.22"/><circle cx="591.4" cy="810.7" r="1.22"/><circle cx="621.7" cy="842.5" r="1.22"/><circle cx="564.9" cy="804.9" r="1.22"/><circle cx="602.9" cy="790.1" r="1.22"/><circle cx="642.5" cy="754.7" r="1.22"/><circle cx="636.4" cy="798.8" r="1.22"/><circle cx="595.6" cy="763.4" r="1.22"/><circle cx="550.4" cy="828.4" r="1.22"/><circle cx="579.4" cy="816.0" r="1.22"/><circle cx="618.2" cy="779.7" r="1.22"/><circle cx="569.5" cy="814.0" r="1.22"/><circle cx="598.9" cy="834.8" r="1.22"/><circle cx="641.7" cy="825.5" r="1.22"/><circle cx="584.2" cy="806.9" r="1.22"/><circle cx="625.5" cy="771.7" r="1.22"/><circle cx="527.1" cy="841.2" r="1.22"/><circle cx="627.1" cy="802.3" r="1.22"/><circle cx="586.9" cy="767.2" r="1.22"/><circle cx="560.7" cy="845.6" r="1.22"/><circle cx="607.7" cy="821.1" r="1.22"/><circle cx="632.6" cy="830.4" r="1.22"/><circle cx="555.0" cy="797.5" r="1.22"/><circle cx="575.1" cy="775.1" r="1.22"/><circle cx="616.4" cy="740.0" r="1.22"/><circle cx="536.2" cy="818.4" r="1.22"/><circle cx="612.9" cy="811.4" r="1.22"/><circle cx="573.7" cy="782.7" r="1.22"/><circle cx="594.1" cy="794.4" r="1.22"/><circle cx="633.7" cy="759.0" r="1.22"/><circle cx="516.2" cy="832.9" r="1.22"/><circle cx="645.5" cy="785.7" r="1.22"/><circle cx="604.7" cy="750.3" r="1.22"/><circle cx="541.2" cy="824.3" r="1.22"/><circle cx="588.5" cy="838.0" r="1.22"/><circle cx="619.7" cy="789.3" r="1.22"/><circle cx="562.3" cy="822.2" r="1.22"/><circle cx="604.8" cy="844.5" r="1.22"/><circle cx="645.0" cy="736.3" r="1.22"/><circle cx="634.4" cy="817.4" r="1.22"/><circle cx="581.3" cy="798.5" r="1.22"/><circle cx="614.6" cy="762.0" r="1.22"/><circle cx="533.5" cy="831.4" r="1.22"/><circle cx="615.7" cy="834.0" r="1.22"/><circle cx="567.6" cy="795.5" r="1.22"/><circle cx="601.4" cy="781.6" r="1.22"/><circle cx="630.8" cy="745.4" r="1.22"/><circle cx="639.2" cy="808.3" r="1.22"/><circle cx="606.5" cy="772.0" r="1.22"/><circle cx="544.0" cy="837.0" r="1.22"/><circle cx="586.8" cy="825.3" r="1.22"/><circle cx="624.6" cy="820.9" r="1.22"/><circle cx="558.8" cy="791.3" r="1.22"/><circle cx="610.3" cy="803.7" r="1.22"/><circle cx="639.7" cy="767.4" r="1.22"/><circle cx="505.7" cy="841.4" r="1.22"/><circle cx="630.1" cy="777.1" r="1.22"/><circle cx="553.1" cy="814.7" r="1.22"/><circle cx="577.7" cy="829.6" r="1.22"/><circle cx="610.9" cy="794.1" r="1.22"/><circle cx="571.1" cy="836.0" r="1.22"/><circle cx="596.0" cy="812.8" r="1.22"/><circle cx="643.5" cy="840.0" r="1.22"/><circle cx="538.7" cy="805.6" r="1.22"/><circle cx="590.4" cy="784.9" r="1.22"/><circle cx="623.8" cy="748.3" r="1.22"/><circle cx="524.4" cy="826.8" r="1.22"/><circle cx="623.5" cy="827.2" r="1.22"/><circle cx="564.2" cy="785.0" r="1.22"/><circle cx="602.4" cy="805.6" r="1.22"/><circle cx="643.2" cy="770.1" r="1.22"/><circle cx="508.9" cy="839.6" r="1.22"/><circle cx="635.9" cy="778.9" r="1.22"/><circle cx="551.9" cy="812.9" r="1.22"/><circle cx="581.2" cy="835.9" r="1.22"/><circle cx="618.7" cy="800.1" r="1.22"/><circle cx="568.0" cy="829.9" r="1.22"/><circle cx="597.1" cy="814.4" r="1.22"/><circle cx="639.9" cy="841.5" r="1.22"/><circle cx="546.6" cy="804.1" r="1.22"/><circle cx="584.7" cy="790.9" r="1.22"/><circle cx="624.8" cy="755.7" r="1.22"/><circle cx="525.6" cy="820.7" r="1.22"/><circle cx="627.8" cy="786.4" r="1.22"/><circle cx="558.9" cy="825.1" r="1.22"/><circle cx="606.2" cy="837.1" r="1.22"/><circle cx="639.5" cy="730.3" r="1.22"/><circle cx="631.1" cy="810.0" r="1.22"/><circle cx="575.8" cy="795.6" r="1.22"/><circle cx="616.0" cy="760.5" r="1.22"/><circle cx="534.5" cy="834.4" r="1.22"/><circle cx="614.4" cy="831.3" r="1.22"/><circle cx="573.3" cy="798.1" r="1.22"/><circle cx="593.3" cy="774.5" r="1.22"/><circle cx="634.1" cy="739.1" r="1.22"/><circle cx="644.7" cy="801.2" r="1.22"/><circle cx="605.1" cy="765.7" r="1.22"/><circle cx="543.0" cy="844.1" r="1.22"/><circle cx="590.0" cy="822.6" r="1.22"/><circle cx="621.5" cy="809.7" r="1.22"/><circle cx="588.2" cy="773.2" r="1.22"/><circle cx="561.7" cy="838.2" r="1.22"/><circle cx="604.5" cy="824.1" r="1.22"/><circle cx="634.0" cy="833.3" r="1.22"/><circle cx="549.4" cy="794.6" r="1.22"/><circle cx="583.2" cy="782.6" r="1.22"/><circle cx="613.1" cy="746.0" r="1.22"/><circle cx="532.8" cy="811.0" r="1.22"/><circle cx="616.1" cy="818.6" r="1.22"/><circle cx="599.6" cy="797.0" r="1.22"/><circle cx="632.3" cy="760.8" r="1.22"/><circle cx="515.3" cy="830.2" r="1.22"/><circle cx="637.4" cy="788.4" r="1.22"/><circle cx="608.0" cy="752.1" r="1.22"/><circle cx="544.6" cy="821.6" r="1.22"/><circle cx="587.1" cy="845.1" r="1.22"/><circle cx="626.8" cy="737.2" r="1.22"/><circle cx="625.2" cy="840.7" r="1.22"/><circle cx="556.9" cy="806.7" r="1.22"/><circle cx="608.7" cy="783.8" r="1.22"/><circle cx="641.4" cy="747.5" r="1.22"/><circle cx="628.6" cy="792.5" r="1.22"/><circle cx="599.2" cy="756.3" r="1.22"/><circle cx="553.5" cy="834.7" r="1.22"/><circle cx="578.3" cy="814.2" r="1.22"/><circle cx="612.4" cy="778.1" r="1.22"/><circle cx="570.8" cy="815.5" r="1.22"/><circle cx="595.3" cy="828.8" r="1.22"/><circle cx="642.8" cy="819.5" r="1.22"/><circle cx="592.0" cy="805.3" r="1.22"/><circle cx="622.0" cy="768.7" r="1.22"/><circle cx="524.0" cy="842.7" r="1.22"/><circle cx="622.3" cy="781.2" r="1.22"/><circle cx="565.5" cy="810.8" r="1.22"/><circle cx="603.5" cy="833.6" r="1.22"/><circle cx="636.8" cy="824.8" r="1.22"/><circle cx="579.9" cy="807.9" r="1.22"/><circle cx="611.7" cy="772.4" r="1.22"/><circle cx="531.5" cy="837.4" r="1.22"/><circle cx="617.6" cy="843.8" r="1.22"/><circle cx="568.9" cy="802.0" r="1.22"/><circle cx="598.2" cy="788.6" r="1.22"/><circle cx="629.4" cy="753.4" r="1.22"/><circle cx="641.2" cy="797.8" r="1.22"/><circle cx="608.9" cy="762.7" r="1.22"/><circle cx="545.4" cy="832.1" r="1.22"/><circle cx="583.7" cy="816.7" r="1.22"/><circle cx="626.4" cy="812.1" r="1.22"/><circle cx="607.1" cy="793.4" r="1.22"/><circle cx="638.3" cy="758.3" r="1.22"/><circle cx="632.1" cy="784.2" r="1.22"/><circle cx="554.5" cy="827.5" r="1.22"/><circle cx="574.6" cy="839.3" r="1.22"/><circle cx="535.8" cy="806.4" r="1.22"/><circle cx="613.5" cy="803.3" r="1.22"/><circle cx="582.8" cy="767.8" r="1.22"/><circle cx="574.4" cy="841.8" r="1.22"/><circle cx="594.7" cy="820.4" r="1.22"/><circle cx="646.0" cy="829.1" r="1.22"/><circle cx="541.7" cy="800.5" r="1.22"/><circle cx="589.0" cy="776.7" r="1.22"/><circle cx="620.8" cy="741.3" r="1.22"/><circle cx="620.3" cy="835.5" r="1.22"/><circle cx="563.0" cy="792.2" r="1.22"/><circle cx="605.5" cy="780.4" r="1.22"/><circle cx="644.4" cy="743.9" r="1.22"/><circle cx="634.9" cy="807.6" r="1.22"/><circle cx="592.5" cy="771.0" r="1.22"/><circle cx="548.3" cy="840.5" r="1.22"/><circle cx="581.8" cy="826.2" r="1.22"/><circle cx="615.1" cy="790.6" r="1.22"/><circle cx="567.0" cy="819.3" r="1.22"/><circle cx="600.8" cy="843.0" r="1.22"/><circle cx="631.4" cy="735.1" r="1.22"/><circle cx="638.8" cy="816.4" r="1.22"/><circle cx="586.3" cy="799.2" r="1.22"/><circle cx="628.0" cy="763.0" r="1.22"/><circle cx="528.6" cy="827.9" r="1.22"/><circle cx="623.9" cy="794.8" r="1.22"/><circle cx="558.1" cy="832.5" r="1.22"/><circle cx="609.6" cy="811.9" r="1.22"/>
</g>
<rect x="494.60" y="695.00" width="160.00" height="157.20" fill="none" stroke="#3a3a3a" stroke-width="1.1"/>
<line x1="500.60" y1="852.20" x2="500.60" y2="854.80" stroke="#222" stroke-width="0.9"/>
<text transform="translate(500.60 861.50) scale(0.85 1)" font-size="8.0" text-anchor="middle" fill="#1c1c1c" stroke="#1c1c1c" stroke-width="0.08">0.0</text>
<line x1="535.30" y1="852.20" x2="535.30" y2="854.80" stroke="#222" stroke-width="0.9"/>
<text transform="translate(535.30 861.50) scale(0.85 1)" font-size="8.0" text-anchor="middle" fill="#1c1c1c" stroke="#1c1c1c" stroke-width="0.08">0.5</text>
<line x1="570.00" y1="852.20" x2="570.00" y2="854.80" stroke="#222" stroke-width="0.9"/>
<text transform="translate(570.00 861.50) scale(0.85 1)" font-size="8.0" text-anchor="middle" fill="#1c1c1c" stroke="#1c1c1c" stroke-width="0.08">1.0</text>
<line x1="604.70" y1="852.20" x2="604.70" y2="854.80" stroke="#222" stroke-width="0.9"/>
<text transform="translate(604.70 861.50) scale(0.85 1)" font-size="8.0" text-anchor="middle" fill="#1c1c1c" stroke="#1c1c1c" stroke-width="0.08">1.5</text>
<line x1="639.40" y1="852.20" x2="639.40" y2="854.80" stroke="#222" stroke-width="0.9"/>
<text transform="translate(639.40 861.50) scale(0.85 1)" font-size="8.0" text-anchor="middle" fill="#1c1c1c" stroke="#1c1c1c" stroke-width="0.08">2.0</text>
<line x1="492.00" y1="847.20" x2="494.60" y2="847.20" stroke="#222" stroke-width="0.9"/>
<text transform="translate(491.60 850.05) scale(0.85 1)" font-size="8.0" text-anchor="end" fill="#1c1c1c" stroke="#1c1c1c" stroke-width="0.08">0.0</text>
<line x1="492.00" y1="822.00" x2="494.60" y2="822.00" stroke="#222" stroke-width="0.9"/>
<text transform="translate(491.60 824.85) scale(0.85 1)" font-size="8.0" text-anchor="end" fill="#1c1c1c" stroke="#1c1c1c" stroke-width="0.08">0.2</text>
<line x1="492.00" y1="796.80" x2="494.60" y2="796.80" stroke="#222" stroke-width="0.9"/>
<text transform="translate(491.60 799.65) scale(0.85 1)" font-size="8.0" text-anchor="end" fill="#1c1c1c" stroke="#1c1c1c" stroke-width="0.08">0.4</text>
<line x1="492.00" y1="771.60" x2="494.60" y2="771.60" stroke="#222" stroke-width="0.9"/>
<text transform="translate(491.60 774.45) scale(0.85 1)" font-size="8.0" text-anchor="end" fill="#1c1c1c" stroke="#1c1c1c" stroke-width="0.08">0.6</text>
<line x1="492.00" y1="746.40" x2="494.60" y2="746.40" stroke="#222" stroke-width="0.9"/>
<text transform="translate(491.60 749.25) scale(0.85 1)" font-size="8.0" text-anchor="end" fill="#1c1c1c" stroke="#1c1c1c" stroke-width="0.08">0.8</text>
<line x1="492.00" y1="721.20" x2="494.60" y2="721.20" stroke="#222" stroke-width="0.9"/>
<text transform="translate(491.60 724.05) scale(0.85 1)" font-size="8.0" text-anchor="end" fill="#1c1c1c" stroke="#1c1c1c" stroke-width="0.08">1.0</text>
<line x1="492.00" y1="696.00" x2="494.60" y2="696.00" stroke="#222" stroke-width="0.9"/>
<text transform="translate(491.60 698.85) scale(0.85 1)" font-size="8.0" text-anchor="end" fill="#1c1c1c" stroke="#1c1c1c" stroke-width="0.08">1.2</text>
<text x="574.60" y="870.20" font-size="7.0" text-anchor="middle" fill="#1c1c1c" stroke="#1c1c1c" stroke-width="0.18">A</text>
<text x="478.50" y="774.80" font-size="7.0" text-anchor="middle" fill="#1c1c1c" transform="rotate(-90 478.50 774.80)" stroke="#1c1c1c" stroke-width="0.18">B</text>
<rect x="657.0" y="697.4" width="27.8" height="18.8" rx="1.5" fill="#fff" stroke="#2a2a2a" stroke-width="0.8"/>
<circle cx="665.3" cy="702.4" r="1.2" fill="#4c72b0"/>
<circle cx="665.3" cy="710.7" r="1.2" fill="#55a868"/>
<text x="675.90" y="704.40" font-size="5.6" fill="#1c1c1c" stroke="#1c1c1c" stroke-width="0.15">01</text>
<text x="675.90" y="712.70" font-size="5.6" fill="#1c1c1c" stroke="#1c1c1c" stroke-width="0.15">10</text>
</svg>
</body></html>
